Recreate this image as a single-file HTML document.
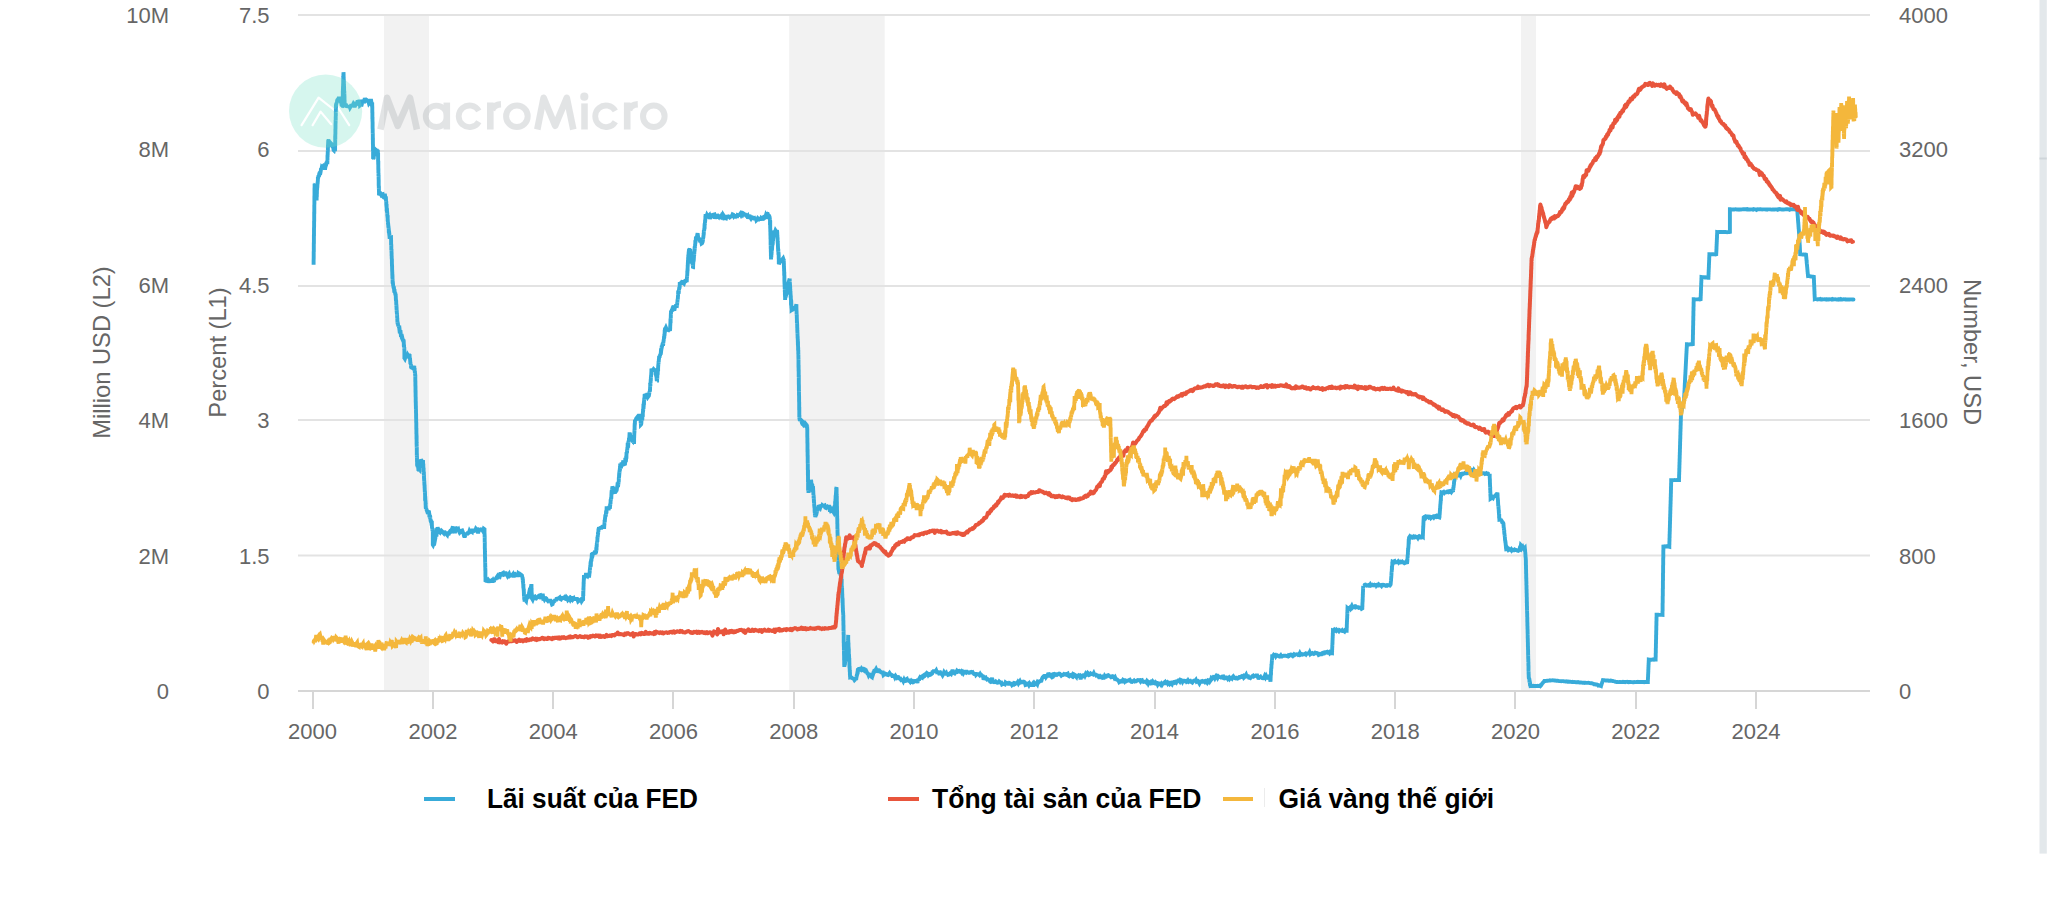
<!DOCTYPE html><html><head><meta charset="utf-8"><style>html,body{margin:0;padding:0;background:#fff;width:2048px;height:897px;overflow:hidden}svg{display:block}</style></head><body>
<svg width="2048" height="897" viewBox="0 0 2048 897">
<rect width="2048" height="897" fill="#fff"/>
<rect x="384.0" y="15" width="45.0" height="676" fill="#f2f2f2"/>
<rect x="789.2" y="15" width="95.5" height="676" fill="#f2f2f2"/>
<rect x="1521.0" y="15" width="15.0" height="676" fill="#f2f2f2"/>
<rect x="298" y="14.0" width="1572" height="2" fill="#e3e3e3"/>
<rect x="298" y="150.0" width="1572" height="2" fill="#e3e3e3"/>
<rect x="298" y="285.0" width="1572" height="2" fill="#e3e3e3"/>
<rect x="298" y="419.0" width="1572" height="2" fill="#e3e3e3"/>
<rect x="298" y="554.5" width="1572" height="2" fill="#e3e3e3"/>
<rect x="298" y="690" width="1572" height="2" fill="#d6d6d6"/>
<rect x="312" y="692" width="2" height="17" fill="#d6d6d6"/>
<rect x="432" y="692" width="2" height="17" fill="#d6d6d6"/>
<rect x="552" y="692" width="2" height="17" fill="#d6d6d6"/>
<rect x="672" y="692" width="2" height="17" fill="#d6d6d6"/>
<rect x="793" y="692" width="2" height="17" fill="#d6d6d6"/>
<rect x="913" y="692" width="2" height="17" fill="#d6d6d6"/>
<rect x="1033" y="692" width="2" height="17" fill="#d6d6d6"/>
<rect x="1154" y="692" width="2" height="17" fill="#d6d6d6"/>
<rect x="1274" y="692" width="2" height="17" fill="#d6d6d6"/>
<rect x="1394" y="692" width="2" height="17" fill="#d6d6d6"/>
<rect x="1514" y="692" width="2" height="17" fill="#d6d6d6"/>
<rect x="1635" y="692" width="2" height="17" fill="#d6d6d6"/>
<rect x="1755" y="692" width="2" height="17" fill="#d6d6d6"/>
<g font-family="&quot;Liberation Sans&quot;, sans-serif" font-size="22" fill="#666666">
<text x="169" y="699.2" text-anchor="end">0</text>
<text x="169" y="563.6" text-anchor="end">2M</text>
<text x="169" y="427.8" text-anchor="end">4M</text>
<text x="169" y="292.6" text-anchor="end">6M</text>
<text x="169" y="156.9" text-anchor="end">8M</text>
<text x="169" y="23.3" text-anchor="end">10M</text>
<text x="269.5" y="699.2" text-anchor="end">0</text>
<text x="269.5" y="563.6" text-anchor="end">1.5</text>
<text x="269.5" y="427.8" text-anchor="end">3</text>
<text x="269.5" y="292.6" text-anchor="end">4.5</text>
<text x="269.5" y="156.9" text-anchor="end">6</text>
<text x="269.5" y="23.3" text-anchor="end">7.5</text>
<text x="1899" y="699.2">0</text>
<text x="1899" y="563.6">800</text>
<text x="1899" y="427.8">1600</text>
<text x="1899" y="292.6">2400</text>
<text x="1899" y="156.9">3200</text>
<text x="1899" y="23.3">4000</text>
<text x="312.6" y="739" text-anchor="middle">2000</text>
<text x="432.9" y="739" text-anchor="middle">2002</text>
<text x="553.2" y="739" text-anchor="middle">2004</text>
<text x="673.5" y="739" text-anchor="middle">2006</text>
<text x="793.7" y="739" text-anchor="middle">2008</text>
<text x="914.0" y="739" text-anchor="middle">2010</text>
<text x="1034.3" y="739" text-anchor="middle">2012</text>
<text x="1154.6" y="739" text-anchor="middle">2014</text>
<text x="1274.9" y="739" text-anchor="middle">2016</text>
<text x="1395.2" y="739" text-anchor="middle">2018</text>
<text x="1515.4" y="739" text-anchor="middle">2020</text>
<text x="1635.7" y="739" text-anchor="middle">2022</text>
<text x="1756.0" y="739" text-anchor="middle">2024</text>
</g>
<g font-family="&quot;Liberation Sans&quot;, sans-serif" font-size="23.7" fill="#666666">
<text transform="translate(110,352.5) rotate(-90)" text-anchor="middle">Million USD (L2)</text>
<text transform="translate(226,352.5) rotate(-90)" text-anchor="middle">Percent (L1)</text>
<text transform="translate(1964,352) rotate(90)" text-anchor="middle">Number, USD</text>
</g>
<g fill="none" stroke-linejoin="round" stroke-linecap="round">
<path d="M313.6 264.0L313.6 264.3 313.6 264.8 313.6 261.9 313.6 260.5 313.6 261.3 313.7 257.4 313.7 258.5 313.7 257.7 313.7 258.5 313.7 257.4 313.7 256.1 313.7 253.8 313.7 253.9 313.7 253.0 313.7 252.8 313.7 252.4 313.7 251.8 313.8 251.4 313.8 249.6 313.8 249.2 313.8 246.9 313.8 249.7 313.8 245.7 313.8 244.8 313.8 245.3 313.8 247.2 313.8 246.1 313.8 242.5 313.9 243.3 313.9 243.8 313.9 243.2 313.9 241.7 313.9 240.9 313.9 239.3 313.9 239.2 313.9 238.2 313.9 236.6 313.9 234.8 313.9 237.1 314.0 234.0 314.0 236.1 314.0 235.4 314.0 233.7 314.0 232.6 314.0 233.7 314.0 232.2 314.0 232.8 314.0 231.5 314.0 229.9 314.0 230.0 314.0 228.6 314.1 226.7 314.1 226.0 314.1 224.9 314.1 227.0 314.1 223.5 314.1 224.0 314.1 222.4 314.1 223.9 314.1 223.1 314.1 221.1 314.1 222.5 314.2 220.8 314.2 218.2 314.2 218.5 314.2 218.6 314.2 219.0 314.2 216.2 314.2 214.9 314.2 214.6 314.2 215.2 314.2 213.7 314.2 212.9 314.2 211.7 314.3 213.7 314.3 213.4 314.3 209.9 314.3 207.1 314.3 207.3 314.3 208.9 314.3 207.3 314.3 206.8 314.3 205.7 314.3 205.7 314.3 204.7 314.4 204.8 314.4 203.3 314.4 202.6 314.4 202.0 314.4 199.2 314.4 200.5 314.4 200.9 314.4 198.9 314.4 199.0 314.4 198.5 314.4 196.7 314.5 194.9 314.5 191.9 314.5 194.9 314.5 193.2 314.5 191.2 314.5 191.9 314.5 191.0 314.5 191.3 314.5 189.8 314.5 188.5 314.5 190.1 314.5 188.9 314.6 186.9 314.6 186.5 314.6 187.1 314.6 186.2 314.6 185.2 314.6 184.5 314.7 184.0 314.8 184.3 314.9 184.2 315.0 187.6 315.1 187.0 315.1 188.2 315.2 189.4 315.3 190.3 315.4 190.1 315.5 190.6 315.6 192.8 315.7 193.5 315.8 190.3 315.9 193.7 316.0 194.4 316.0 193.4 316.1 193.3 316.2 196.9 316.3 198.6 316.4 196.8 316.5 200.4 316.6 198.9 316.6 200.6 316.6 197.9 316.7 196.8 316.8 196.3 316.8 194.6 316.9 193.2 316.9 193.4 316.9 190.6 317.0 189.7 317.1 189.5 317.1 188.4 317.1 189.4 317.2 187.1 317.2 188.0 317.3 187.5 317.4 185.3 317.4 186.2 317.4 185.0 317.5 183.9 317.6 183.0 317.6 183.0 317.6 184.1 317.7 182.4 317.8 180.5 317.8 181.7 317.9 179.8 317.9 178.8 317.9 177.1 318.0 178.5 318.2 177.9 318.4 175.5 318.7 176.9 318.9 176.0 319.1 174.7 319.3 174.7 319.6 172.6 319.8 172.3 320.0 173.5 320.3 173.4 320.6 172.0 320.9 169.8 321.1 168.3 321.4 169.1 321.7 167.7 322.0 168.1 322.3 166.4 322.5 168.9 322.8 165.9 323.1 164.9 323.4 165.5 323.6 165.6 323.9 165.3 324.1 165.3 324.3 166.3 324.5 166.8 324.8 168.3 325.0 169.6 325.2 168.2 325.5 166.6 325.7 165.6 325.9 165.6 326.1 165.1 326.4 161.9 326.6 163.0 326.8 162.4 327.1 162.9 327.3 161.7 327.3 164.2 327.4 161.8 327.4 160.6 327.4 160.1 327.5 160.5 327.5 155.3 327.5 158.5 327.5 156.8 327.6 156.4 327.6 155.3 327.6 155.2 327.7 154.3 327.7 154.5 327.7 153.4 327.8 151.1 327.8 151.6 327.8 150.5 327.8 150.6 327.9 150.1 327.9 147.2 327.9 147.7 328.0 144.6 328.0 146.5 328.0 146.3 328.1 145.8 328.1 143.3 328.1 142.8 328.1 143.5 328.2 141.9 328.2 143.9 328.2 140.4 328.3 140.9 328.3 139.4 328.5 140.6 328.8 140.2 329.0 143.5 329.2 143.3 329.5 142.7 329.7 144.5 330.0 142.8 330.2 144.6 330.7 144.1 331.2 145.3 331.6 143.9 332.1 144.4 332.6 146.5 333.1 146.7 333.6 150.0 334.0 150.4 334.5 148.4 335.0 151.2 335.0 149.2 335.0 146.5 335.0 147.9 335.1 147.9 335.1 147.1 335.1 146.6 335.1 146.6 335.1 145.3 335.1 146.4 335.2 144.9 335.2 143.4 335.2 140.3 335.2 142.0 335.2 141.9 335.2 135.8 335.2 139.5 335.3 139.8 335.3 136.8 335.3 136.9 335.3 136.7 335.3 137.4 335.3 135.0 335.3 135.1 335.4 133.5 335.4 134.0 335.4 130.6 335.4 129.3 335.4 129.5 335.4 129.6 335.5 128.4 335.5 126.3 335.5 126.0 335.5 124.4 335.5 123.8 335.5 124.1 335.5 124.3 335.6 122.0 335.6 121.7 335.6 123.0 335.6 122.1 335.6 123.2 335.6 119.9 335.7 120.8 335.7 120.3 335.7 118.5 335.7 119.4 335.7 116.7 335.7 117.5 335.7 116.6 335.8 116.8 335.8 113.9 335.8 112.0 335.8 114.2 335.8 114.3 335.8 113.3 335.8 110.9 335.9 112.0 335.9 110.3 335.9 107.9 335.9 106.0 335.9 106.5 335.9 105.2 336.0 108.0 336.0 107.4 336.0 105.6 336.0 104.8 336.4 103.7 336.8 102.2 337.1 100.9 337.5 99.2 337.9 100.3 338.2 97.9 338.6 99.0 339.0 96.8 339.4 99.4 339.9 99.9 340.3 100.8 340.8 100.4 341.2 102.6 341.6 105.1 342.1 105.6 342.5 105.2 342.5 104.4 342.5 102.7 342.6 104.5 342.6 103.2 342.6 101.4 342.6 102.1 342.7 100.6 342.7 99.3 342.7 98.9 342.7 96.9 342.8 95.3 342.8 93.5 342.8 92.8 342.8 92.2 342.8 90.8 342.9 91.4 342.9 91.3 342.9 89.4 342.9 89.4 343.0 87.2 343.0 88.4 343.0 86.3 343.0 86.4 343.1 86.5 343.1 87.0 343.1 86.1 343.1 84.8 343.2 82.8 343.2 81.6 343.2 82.2 343.2 82.3 343.2 81.3 343.3 76.4 343.3 80.2 343.3 81.4 343.3 78.0 343.4 76.2 343.4 76.8 343.4 76.5 343.4 74.8 343.5 73.2 343.5 75.2 343.5 74.3 343.5 72.2 343.6 74.4 343.6 75.8 343.6 74.9 343.6 76.2 343.7 77.1 343.7 78.6 343.7 79.6 343.8 79.3 343.8 80.5 343.8 81.5 343.9 81.1 343.9 82.3 343.9 83.5 343.9 84.0 344.0 85.4 344.0 83.9 344.0 87.7 344.1 86.5 344.1 87.8 344.1 89.3 344.1 88.3 344.2 92.0 344.2 91.1 344.2 91.8 344.3 91.9 344.3 92.5 344.3 91.8 344.3 92.4 344.4 93.3 344.4 93.2 344.4 95.0 344.5 96.5 344.5 98.4 344.5 96.9 344.5 99.8 344.6 100.2 344.6 103.2 344.6 101.5 344.7 104.9 344.7 102.7 344.7 104.2 344.8 103.7 344.8 104.5 344.8 105.4 344.8 106.8 344.9 106.9 344.9 107.1 345.6 105.5 346.3 105.4 347.1 107.4 347.8 105.3 348.5 107.6 349.2 105.3 350.0 107.6 350.7 106.4 351.4 104.3 352.0 105.5 352.7 105.1 353.3 103.9 354.0 105.1 354.6 107.1 355.3 105.0 355.9 102.0 356.6 104.2 357.2 103.7 357.7 100.3 358.3 103.3 358.9 103.0 359.4 99.8 360.0 105.4 360.5 105.0 361.0 104.5 361.5 103.7 361.9 104.0 362.4 102.1 362.9 101.3 363.4 100.1 364.1 103.2 364.8 98.1 365.5 100.8 366.2 100.6 366.9 100.1 367.6 100.5 368.3 101.3 368.9 103.4 369.6 102.5 370.2 103.1 370.9 99.0 371.6 103.2 372.2 102.5 372.2 104.4 372.2 105.7 372.2 104.8 372.3 107.6 372.3 108.6 372.3 107.6 372.3 106.7 372.3 107.7 372.3 108.5 372.3 110.0 372.3 112.4 372.4 112.8 372.4 111.7 372.4 112.8 372.4 114.7 372.4 113.5 372.4 114.5 372.4 118.5 372.4 118.9 372.5 116.9 372.5 120.6 372.5 121.2 372.5 120.9 372.5 120.7 372.5 117.4 372.5 120.8 372.6 122.3 372.6 124.9 372.6 124.2 372.6 125.8 372.6 127.7 372.6 127.1 372.6 126.9 372.6 128.4 372.7 129.0 372.7 130.0 372.7 131.2 372.7 130.0 372.7 132.8 372.7 131.7 372.7 132.6 372.7 133.8 372.8 133.2 372.8 136.6 372.8 133.9 372.8 134.5 372.8 135.0 372.8 137.4 372.8 140.0 372.8 140.0 372.9 137.7 372.9 140.7 372.9 140.6 372.9 141.8 372.9 139.0 372.9 141.7 372.9 143.6 373.0 145.2 373.0 144.7 373.0 145.3 373.0 147.2 373.0 148.9 373.0 148.8 373.0 150.5 373.0 151.0 373.1 150.9 373.1 150.5 373.1 151.7 373.1 153.0 373.1 154.9 373.1 154.3 373.1 155.8 373.1 158.0 373.2 158.2 373.2 156.9 373.2 159.0 373.2 158.9 373.4 158.6 373.6 159.0 373.8 156.7 374.0 155.2 374.2 153.1 374.4 152.9 374.6 153.0 374.8 151.5 375.0 152.1 375.2 148.1 375.4 150.5 375.6 151.0 375.8 150.7 376.0 150.1 376.2 150.3 376.4 151.7 376.7 149.2 376.9 150.1 377.1 151.7 377.3 152.2 377.6 153.8 377.8 149.9 378.0 154.9 378.0 154.4 378.0 154.9 378.1 154.9 378.1 158.0 378.1 156.6 378.1 159.3 378.1 160.8 378.1 160.3 378.2 162.7 378.2 162.3 378.2 160.4 378.2 163.2 378.2 164.5 378.3 161.1 378.3 166.7 378.3 169.3 378.3 167.1 378.3 169.7 378.3 167.5 378.4 169.1 378.4 168.9 378.4 169.4 378.4 171.6 378.4 173.3 378.5 172.9 378.5 173.9 378.5 173.2 378.5 174.9 378.5 175.2 378.5 175.9 378.6 175.4 378.6 177.6 378.6 175.1 378.6 178.6 378.6 177.9 378.7 180.5 378.7 180.5 378.7 182.1 378.7 183.0 378.7 183.5 378.7 185.1 378.8 186.2 378.8 186.2 378.8 186.3 378.8 187.4 378.8 188.7 378.9 187.8 378.9 189.6 378.9 189.2 378.9 190.1 378.9 186.3 378.9 190.3 379.0 192.0 379.0 192.1 379.0 193.7 379.8 193.9 380.5 193.6 381.2 195.0 382.0 194.2 382.6 194.1 383.1 196.9 383.7 197.5 384.2 197.4 384.8 193.9 385.3 197.1 385.9 197.5 386.0 199.8 386.0 200.4 386.1 201.6 386.1 201.6 386.2 201.2 386.3 202.4 386.3 204.5 386.4 204.9 386.4 206.4 386.5 204.5 386.6 204.7 386.6 207.5 386.7 207.8 386.7 210.9 386.8 209.6 386.9 209.5 386.9 210.1 387.0 210.1 387.0 211.4 387.1 210.8 387.1 213.6 387.2 212.4 387.3 213.7 387.3 216.2 387.4 215.0 387.4 215.7 387.5 216.4 387.6 218.2 387.6 217.2 387.7 217.2 387.7 220.1 387.8 220.2 387.9 222.2 388.0 222.0 388.0 224.5 388.1 224.4 388.2 223.6 388.3 226.0 388.4 227.0 388.4 226.2 388.5 228.2 388.6 227.4 388.7 228.5 388.8 229.8 388.8 231.3 388.9 233.2 389.0 230.7 389.1 231.9 389.2 231.8 389.2 234.4 389.3 233.2 389.4 235.2 389.5 236.0 389.6 237.7 389.6 237.2 389.7 239.0 389.8 237.4 391.0 237.2 391.0 237.6 391.1 239.9 391.1 242.4 391.1 242.7 391.1 245.3 391.2 243.8 391.2 246.1 391.2 244.0 391.2 244.0 391.3 245.3 391.3 247.2 391.3 248.9 391.3 250.3 391.4 249.5 391.4 249.2 391.4 249.5 391.5 250.0 391.5 250.1 391.5 252.6 391.5 251.4 391.6 252.9 391.6 253.1 391.6 256.0 391.6 255.7 391.7 256.0 391.7 257.7 391.7 256.2 391.7 257.6 391.8 259.3 391.8 259.3 391.8 259.1 391.9 259.4 391.9 260.5 391.9 263.5 391.9 262.6 392.0 266.5 392.0 264.7 392.0 265.9 392.0 264.3 392.1 265.8 392.1 267.0 392.1 267.5 392.1 268.1 392.2 271.4 392.2 271.0 392.2 270.2 392.2 271.2 392.3 272.5 392.3 274.5 392.3 274.3 392.4 276.2 392.4 278.0 392.4 274.1 392.4 274.8 392.5 276.1 392.5 276.5 392.5 277.2 392.5 279.3 392.6 278.7 392.6 280.7 392.6 282.6 392.6 282.9 392.7 283.5 392.7 282.0 392.9 282.7 393.1 284.6 393.2 286.5 393.4 286.0 393.6 288.2 393.8 286.4 393.9 287.4 394.1 289.8 394.3 289.7 394.5 290.0 394.6 291.6 394.8 292.4 395.0 293.0 395.2 292.4 395.3 294.1 395.5 294.2 395.7 294.7 395.7 295.6 395.8 296.6 395.8 297.3 395.9 299.7 395.9 299.1 396.0 301.1 396.0 301.5 396.1 301.3 396.1 299.8 396.2 301.6 396.2 302.2 396.3 305.0 396.3 305.1 396.3 305.2 396.4 304.3 396.4 306.9 396.5 305.4 396.5 308.7 396.6 307.3 396.6 310.6 396.7 309.7 396.7 311.3 396.8 311.4 396.8 312.4 396.9 313.1 396.9 314.2 397.0 313.7 397.0 313.3 397.0 315.7 397.1 314.8 397.1 315.7 397.2 317.6 397.2 318.6 397.3 318.1 397.3 319.4 397.4 321.2 397.4 322.7 397.5 321.9 397.5 322.9 397.6 321.5 397.6 323.3 397.9 323.5 398.1 325.2 398.4 326.3 398.6 325.8 398.9 326.9 399.1 327.1 399.4 329.6 399.6 329.4 399.9 332.2 400.2 332.4 400.4 330.2 400.7 333.3 401.0 336.9 401.3 336.3 401.6 335.6 401.8 337.8 402.1 338.5 402.4 338.1 402.7 339.4 402.9 339.1 403.2 340.5 403.5 339.5 403.6 340.9 403.6 342.5 403.7 340.3 403.8 343.5 403.8 345.3 403.9 346.2 403.9 347.1 404.0 344.5 404.1 347.0 404.1 346.9 404.2 347.7 404.3 347.3 404.3 349.2 404.4 350.2 404.4 354.5 404.4 353.2 404.4 353.5 404.4 353.5 404.4 352.9 404.4 355.2 404.4 353.3 404.4 354.6 404.4 357.5 404.4 358.9 404.4 357.9 404.9 358.7 405.5 357.0 406.0 356.1 406.6 356.8 407.1 356.6 407.7 354.8 408.2 355.6 408.8 353.8 409.3 356.9 409.4 354.2 409.5 355.2 409.6 355.3 409.7 357.6 409.8 357.9 409.8 358.6 409.9 358.2 410.0 359.0 410.1 359.5 410.2 361.0 410.3 362.2 410.4 363.8 410.5 362.8 410.6 363.4 410.7 363.9 410.8 363.8 410.8 365.0 410.9 364.4 411.0 366.2 411.1 366.2 411.2 367.0 411.3 367.3 411.8 367.3 412.3 367.7 412.8 368.3 413.2 368.6 413.7 367.2 414.2 366.0 414.3 366.9 414.3 369.4 414.4 369.3 414.5 368.3 414.6 368.0 414.6 370.7 414.7 370.5 414.8 372.1 414.8 371.7 414.9 372.7 415.0 372.4 415.1 373.7 415.1 374.9 415.2 373.7 415.2 375.2 415.2 376.4 415.2 376.6 415.3 375.1 415.3 377.0 415.3 379.9 415.3 381.8 415.3 380.9 415.3 380.1 415.4 380.8 415.4 383.1 415.4 384.0 415.4 384.7 415.4 384.9 415.4 386.4 415.4 385.3 415.5 386.0 415.5 386.8 415.5 388.1 415.5 391.3 415.5 392.5 415.5 389.8 415.6 390.8 415.6 393.7 415.6 395.1 415.6 395.2 415.6 394.8 415.6 396.2 415.6 396.5 415.7 397.5 415.7 397.9 415.7 398.3 415.7 402.5 415.7 402.2 415.7 401.6 415.8 402.6 415.8 404.0 415.8 401.2 415.8 402.8 415.8 404.7 415.8 403.0 415.8 404.1 415.9 407.7 415.9 407.5 415.9 405.9 415.9 407.2 415.9 408.0 415.9 409.7 416.0 409.4 416.0 410.5 416.0 412.5 416.0 412.5 416.0 412.4 416.0 412.2 416.0 412.3 416.1 414.0 416.1 415.7 416.1 415.9 416.1 414.8 416.1 416.6 416.1 417.0 416.2 420.3 416.2 419.4 416.2 421.4 416.2 420.8 416.2 422.4 416.2 422.1 416.2 422.2 416.3 422.7 416.3 423.6 416.3 425.9 416.3 424.2 416.3 425.2 416.3 428.0 416.3 428.7 416.4 428.8 416.4 429.6 416.4 432.1 416.4 432.2 416.4 433.5 416.4 434.0 416.4 432.5 416.5 434.4 416.5 435.1 416.5 436.4 416.5 434.3 416.5 437.5 416.5 435.9 416.5 437.4 416.6 437.4 416.6 439.1 416.6 441.8 416.6 441.4 416.6 440.6 416.6 444.4 416.6 442.9 416.7 446.1 416.7 444.5 416.7 445.9 416.7 446.1 416.7 447.4 416.7 447.8 416.8 447.2 416.8 447.7 416.8 450.6 416.8 452.6 416.8 452.3 416.8 453.6 416.8 455.8 416.9 453.4 416.9 453.4 416.9 454.1 416.9 456.5 416.9 455.4 416.9 457.3 416.9 457.8 417.0 456.6 417.0 457.2 417.0 458.5 417.0 459.5 417.0 459.1 417.0 459.7 417.0 461.3 417.1 461.8 417.1 463.6 417.1 463.2 417.1 465.8 417.4 465.5 417.6 466.9 417.9 466.4 418.2 467.7 418.5 470.7 418.7 466.3 419.0 471.4 419.2 469.9 419.3 469.6 419.5 469.8 419.7 466.0 419.8 464.9 420.0 466.4 420.2 464.4 420.3 464.9 420.5 462.2 420.7 462.7 420.8 461.4 421.0 459.4 422.0 461.4 423.0 461.6 423.0 460.1 423.1 462.8 423.1 464.5 423.2 463.9 423.2 463.9 423.3 463.8 423.3 465.6 423.3 465.6 423.4 467.5 423.4 467.6 423.5 467.4 423.5 468.1 423.6 467.9 423.6 471.5 423.6 472.1 423.7 471.1 423.7 472.4 423.8 473.7 423.8 473.0 423.9 473.6 423.9 475.7 424.0 475.1 424.0 478.2 424.0 477.6 424.1 479.4 424.1 477.8 424.2 481.5 424.2 481.8 424.3 480.9 424.3 480.7 424.3 481.7 424.4 483.6 424.4 484.9 424.5 485.2 424.5 484.8 424.6 485.4 424.6 488.3 424.6 487.2 424.7 488.2 424.7 489.1 424.8 491.3 424.8 492.1 424.9 490.8 424.9 493.3 424.9 492.1 425.0 492.3 425.0 492.9 425.1 495.7 425.1 500.8 425.2 496.1 425.2 496.5 425.3 498.0 425.3 498.9 425.3 498.4 425.4 500.0 425.4 500.5 425.5 500.7 425.5 500.9 425.6 502.1 425.6 503.5 425.6 503.9 425.7 505.7 425.7 507.2 425.8 507.9 425.8 506.3 425.9 508.9 425.9 508.7 426.6 509.7 427.4 512.1 428.1 511.9 428.9 510.6 429.0 511.7 429.2 513.5 429.3 514.0 429.4 517.3 429.5 514.8 429.7 516.5 429.8 516.5 429.9 515.2 430.0 515.8 430.2 516.4 430.3 517.9 430.4 519.0 430.5 519.7 430.7 521.5 430.8 520.0 430.9 519.7 431.0 521.6 431.2 521.7 431.3 522.4 431.4 522.8 431.5 523.9 431.7 525.4 431.8 520.9 431.9 524.9 432.0 527.5 432.2 527.9 432.3 529.5 432.4 528.5 432.5 531.3 432.7 530.2 432.8 530.2 432.8 532.9 432.8 534.8 432.8 534.0 432.8 533.9 432.8 535.3 432.8 536.4 432.8 537.6 432.8 538.0 432.8 540.2 432.8 540.1 432.8 539.3 432.8 539.4 432.8 541.3 432.8 541.9 432.8 541.4 432.8 542.5 432.8 544.6 432.8 544.6 433.1 545.1 433.4 544.3 433.7 542.6 434.1 540.1 434.4 541.2 434.7 541.6 435.0 540.0 435.2 537.6 435.3 539.2 435.5 535.4 435.6 535.0 435.8 535.3 435.9 533.8 436.1 533.9 436.2 536.6 436.4 533.4 436.5 535.2 436.7 532.3 436.8 532.4 437.0 530.4 437.1 531.3 437.3 529.1 437.4 528.5 437.6 527.5 438.2 529.2 438.8 531.1 439.4 531.8 440.0 532.4 440.6 531.0 441.2 530.4 441.8 531.0 442.4 532.0 443.0 532.4 443.6 533.1 444.2 531.0 444.8 532.5 445.4 533.1 446.0 531.8 446.6 534.3 447.2 535.0 447.8 532.7 448.4 534.0 448.9 533.9 449.5 532.2 450.1 531.2 450.7 531.5 451.3 530.3 451.9 530.7 452.5 528.0 453.1 528.1 453.7 529.6 454.2 528.5 454.9 533.3 455.5 528.5 456.1 528.4 456.7 529.7 457.3 527.0 457.9 530.5 458.5 529.7 459.1 531.6 459.7 532.8 460.3 532.2 461.0 533.3 461.6 530.7 462.2 530.5 462.8 532.0 463.4 532.9 464.0 535.8 464.6 537.2 465.2 535.6 465.8 534.3 466.4 533.0 467.1 535.0 467.7 533.1 468.3 533.1 468.9 532.7 469.5 530.9 470.1 531.9 470.7 531.4 471.4 531.6 472.0 532.0 472.6 529.0 473.2 530.6 473.8 530.7 474.5 530.9 475.2 530.5 475.9 528.7 476.7 529.6 477.4 529.5 478.1 533.4 478.8 530.1 479.5 529.8 480.2 529.8 480.9 529.4 481.6 529.6 482.4 530.3 483.1 531.4 483.8 528.8 484.5 529.3 484.5 530.8 484.5 532.1 484.5 532.5 484.6 534.1 484.6 533.9 484.6 537.1 484.6 534.9 484.6 534.3 484.6 536.7 484.6 537.6 484.7 535.5 484.7 539.0 484.7 539.9 484.7 539.0 484.7 539.9 484.7 541.1 484.7 542.7 484.8 542.0 484.8 544.2 484.8 541.7 484.8 542.4 484.8 545.7 484.8 547.4 484.8 548.1 484.9 549.7 484.9 549.6 484.9 548.2 484.9 549.9 484.9 550.4 484.9 550.2 484.9 551.4 485.0 554.9 485.0 555.7 485.0 555.5 485.0 556.7 485.0 556.5 485.0 556.6 485.1 558.3 485.1 559.1 485.1 558.2 485.1 557.4 485.1 556.9 485.1 560.0 485.1 561.0 485.2 562.8 485.2 561.9 485.2 562.9 485.2 565.0 485.2 563.9 485.2 564.2 485.2 566.8 485.3 567.2 485.3 565.8 485.3 569.3 485.3 570.4 485.3 569.5 485.3 570.8 485.3 569.1 485.4 569.8 485.4 570.7 485.4 573.5 485.4 573.6 485.4 574.9 485.4 574.0 485.4 576.4 485.5 577.4 485.5 579.3 485.5 577.8 485.5 580.5 486.2 580.8 486.9 580.5 487.6 580.9 488.3 579.8 489.0 580.7 489.8 581.2 490.5 581.1 491.2 580.6 491.9 580.1 492.6 582.3 493.3 580.6 493.9 581.7 494.5 579.5 495.1 578.1 495.7 579.7 496.3 577.9 496.9 577.0 497.4 578.9 498.0 577.2 498.6 577.0 499.2 575.7 499.8 576.2 500.4 573.8 501.0 573.7 501.7 574.2 502.5 573.3 503.2 572.9 503.9 574.7 504.7 574.4 505.4 571.9 506.2 573.9 506.9 574.5 507.6 576.0 508.4 574.8 509.1 573.8 509.8 575.8 510.6 575.2 511.3 575.1 512.1 575.0 512.8 574.2 513.5 577.4 514.2 572.6 514.9 574.3 515.6 575.1 516.3 574.6 517.0 573.4 517.7 576.9 518.4 573.3 519.1 573.9 519.8 576.3 520.5 574.4 521.2 574.9 521.9 575.4 522.6 578.2 522.7 577.4 522.7 580.2 522.8 579.9 522.8 580.4 522.9 581.9 522.9 579.9 523.0 582.1 523.0 581.5 523.1 583.2 523.2 583.8 523.2 584.0 523.3 585.6 523.3 585.9 523.4 585.9 523.4 587.0 523.5 587.9 523.5 588.2 523.6 588.6 523.7 590.5 523.7 589.8 523.8 590.3 523.8 592.1 523.9 592.3 523.9 594.7 524.0 595.5 524.0 596.8 524.1 595.3 524.2 597.1 524.2 598.9 524.3 599.3 524.3 597.9 524.4 598.1 524.4 599.0 524.5 600.2 524.5 599.6 524.6 601.6 525.0 599.6 525.4 601.5 525.7 600.5 526.1 601.0 526.5 598.4 526.9 596.4 527.2 596.1 527.6 598.1 528.0 597.5 528.2 595.7 528.4 595.6 528.6 594.8 528.8 594.0 529.0 593.1 529.2 592.3 529.4 593.6 529.6 589.6 529.8 590.8 530.0 588.0 530.2 588.9 530.4 588.9 530.6 587.6 530.8 588.1 531.0 585.9 531.2 586.2 531.4 584.2 531.4 584.2 531.5 585.2 531.5 586.7 531.5 588.7 531.5 589.7 531.6 589.0 531.6 588.0 531.6 589.3 531.6 591.3 531.7 592.8 531.7 593.6 531.7 593.9 531.8 595.2 531.8 593.3 531.8 595.7 531.8 595.5 531.9 596.9 531.9 597.4 531.9 599.3 531.9 599.0 532.0 596.7 532.0 598.4 532.7 599.6 533.4 597.7 534.0 596.8 534.7 596.5 535.4 598.4 536.1 598.6 536.8 597.5 537.5 596.9 538.2 596.3 538.8 596.8 539.5 595.5 540.2 595.3 540.8 597.7 541.4 596.6 542.1 599.0 542.7 593.8 543.3 598.4 543.9 598.1 544.5 599.4 545.2 598.2 545.8 598.1 546.4 598.5 547.0 599.9 547.7 600.7 548.3 599.6 548.9 601.8 549.5 600.7 550.1 599.5 550.8 601.4 551.4 602.9 552.0 604.5 552.6 604.2 553.3 601.6 553.9 601.7 554.6 601.1 555.2 599.5 555.9 600.9 556.5 598.8 557.2 598.6 557.8 598.5 558.4 598.5 559.1 597.9 559.7 597.4 560.4 599.1 561.0 599.4 561.7 598.2 562.3 597.8 563.0 598.0 563.6 597.9 564.3 597.3 565.1 598.7 565.8 599.0 566.5 597.2 567.3 598.1 568.0 599.9 568.7 599.2 569.5 598.3 570.2 599.7 570.9 598.3 571.6 599.1 572.4 596.6 573.1 599.2 573.8 598.4 574.6 600.3 575.3 598.3 576.0 599.7 576.7 597.7 577.4 599.4 578.1 601.4 578.8 600.8 579.5 600.0 580.2 599.8 580.9 599.3 581.6 601.2 582.3 600.1 583.0 600.8 583.0 598.2 583.1 599.9 583.1 596.5 583.1 596.0 583.1 596.4 583.2 594.3 583.2 593.8 583.2 592.8 583.3 592.0 583.3 596.1 583.3 594.0 583.4 590.9 583.4 590.6 583.4 588.1 583.4 590.5 583.5 589.1 583.5 589.4 583.5 587.1 583.6 585.6 583.6 585.6 583.6 583.7 583.6 582.3 583.7 582.5 583.7 584.1 583.7 582.3 583.8 579.6 583.8 579.7 583.8 578.4 583.9 580.2 583.9 579.0 583.9 577.5 583.9 576.1 584.0 575.4 584.0 575.2 584.7 577.2 585.4 576.8 586.1 573.1 586.9 575.4 587.6 576.1 588.3 574.5 589.0 576.4 589.1 577.7 589.2 574.1 589.3 575.6 589.4 573.7 589.5 572.7 589.6 573.2 589.7 572.2 589.8 569.5 589.9 570.2 590.0 568.1 590.1 567.2 590.2 567.7 590.3 565.2 590.4 566.1 590.5 564.3 590.5 563.2 590.6 562.6 590.7 561.5 590.8 566.8 590.9 564.0 591.0 560.3 591.1 561.3 591.2 559.7 591.3 559.6 591.4 561.4 591.5 559.5 591.6 557.8 591.7 556.2 591.8 555.0 591.9 552.9 592.0 558.0 592.6 555.3 593.1 552.4 593.7 554.1 594.3 552.6 594.9 552.8 595.4 552.2 596.0 552.4 596.1 552.2 596.2 551.2 596.3 547.3 596.3 547.7 596.4 549.1 596.5 550.7 596.6 545.3 596.7 546.9 596.8 544.2 596.8 543.7 596.9 542.9 597.0 543.4 597.1 542.3 597.2 540.9 597.3 542.0 597.4 539.4 597.4 536.7 597.5 538.5 597.6 537.4 597.7 537.7 597.8 535.5 597.9 534.7 598.0 533.2 598.0 532.3 598.1 534.5 598.2 532.5 598.3 531.6 598.4 531.9 598.5 528.5 598.5 529.7 598.6 529.1 598.7 529.6 598.8 528.6 599.5 528.5 600.3 527.8 601.0 527.5 601.8 527.6 602.5 526.6 603.3 526.6 604.0 527.4 604.1 529.0 604.2 527.0 604.3 525.2 604.4 524.8 604.5 522.7 604.6 522.9 604.6 519.8 604.7 521.0 604.8 522.0 604.9 520.4 605.0 518.4 605.1 518.3 605.2 517.0 605.3 515.7 605.4 515.6 605.5 516.8 605.6 515.9 605.7 514.2 605.8 516.2 605.9 513.6 606.0 514.7 606.0 513.1 606.1 511.0 606.2 512.4 606.3 510.0 606.4 511.5 606.5 511.5 606.6 508.2 607.3 508.2 608.0 507.9 608.6 509.9 609.3 507.3 610.0 507.2 610.1 506.3 610.2 505.2 610.3 504.3 610.4 502.9 610.5 504.0 610.6 501.2 610.6 500.5 610.7 499.4 610.8 500.6 610.9 498.9 611.0 499.8 611.1 497.2 611.2 498.8 611.3 498.0 611.4 495.2 611.5 493.1 611.6 493.1 611.7 490.6 611.8 490.2 611.9 490.5 611.9 490.8 612.0 490.5 612.1 489.5 612.2 488.2 612.3 488.0 612.4 486.4 612.5 486.7 612.8 487.7 613.1 487.9 613.4 488.5 613.8 490.3 614.1 492.7 614.4 491.3 614.7 492.8 615.0 493.4 615.3 492.2 615.6 491.7 615.9 492.2 616.2 489.1 616.5 491.3 616.8 489.4 617.1 487.1 617.4 485.6 617.7 482.4 618.0 487.1 618.3 484.1 618.4 484.4 618.4 484.1 618.5 482.2 618.6 482.6 618.6 481.1 618.7 482.4 618.8 480.3 618.8 478.4 618.9 477.3 619.0 478.3 619.0 477.9 619.1 474.4 619.2 476.5 619.2 472.5 619.3 474.5 619.4 473.1 619.4 472.3 619.5 470.9 619.6 472.8 619.6 469.7 619.7 470.9 619.8 469.3 619.8 469.0 619.9 468.5 620.0 468.5 620.0 467.5 620.1 466.9 620.2 466.0 620.2 463.6 620.3 465.4 621.0 468.3 621.6 462.4 622.3 465.3 623.0 462.2 623.7 462.3 624.3 464.2 625.0 463.9 625.1 462.4 625.2 462.3 625.3 457.7 625.4 462.5 625.5 460.1 625.6 459.3 625.7 461.7 625.8 460.5 625.9 460.1 626.0 460.1 626.1 459.1 626.2 455.8 626.3 455.9 626.4 458.6 626.5 452.2 626.6 454.2 626.7 452.2 626.8 453.6 626.9 452.7 627.0 452.9 627.1 449.6 627.2 450.4 627.3 449.1 627.4 447.6 627.5 447.4 627.6 447.3 627.7 442.9 627.8 445.1 627.9 444.8 628.0 446.1 628.1 443.3 628.3 443.5 628.4 441.3 628.6 442.3 628.7 440.3 628.9 441.2 629.0 437.7 629.1 438.5 629.3 438.6 629.4 436.3 629.6 432.4 629.7 433.8 629.9 433.5 630.0 434.0 630.3 438.7 630.7 435.8 631.0 436.5 631.3 436.9 631.7 436.9 632.0 438.0 632.3 437.1 632.7 438.9 633.0 442.6 633.3 440.5 633.7 441.4 634.0 441.0 634.0 443.9 634.1 441.9 634.1 440.8 634.1 437.9 634.2 436.2 634.2 437.8 634.2 436.3 634.3 433.9 634.3 433.3 634.3 433.2 634.4 432.7 634.4 431.6 634.4 432.8 634.5 430.3 634.5 428.9 634.5 428.8 634.6 430.1 634.6 425.8 634.6 427.3 634.7 423.2 634.7 425.8 634.7 425.5 634.8 425.6 634.8 424.8 634.8 424.1 634.9 422.2 634.9 423.9 634.9 421.5 635.0 419.9 635.0 420.8 635.6 420.1 636.2 418.6 636.9 417.7 637.5 419.7 638.1 418.6 638.8 417.6 639.4 414.0 640.0 416.6 640.1 417.8 640.2 417.5 640.3 418.6 640.4 420.4 640.5 419.1 640.6 419.6 640.7 423.1 640.8 422.5 640.9 424.7 641.0 424.6 641.2 423.9 641.3 423.7 641.5 420.3 641.6 419.8 641.8 419.7 641.9 419.4 642.1 419.8 642.2 420.3 642.4 417.5 642.5 416.5 642.7 416.9 642.8 416.0 642.8 413.2 642.9 412.4 643.0 411.6 643.0 411.0 643.1 410.9 643.2 409.5 643.2 410.6 643.3 408.2 643.4 408.3 643.4 407.8 643.5 409.0 643.6 406.9 643.6 407.3 643.7 406.1 643.8 402.6 643.8 404.4 643.9 404.5 644.0 404.2 644.0 401.2 644.1 401.0 644.2 400.8 644.2 398.3 644.3 398.6 644.4 399.8 644.4 397.9 644.5 397.6 644.6 396.5 644.6 395.1 644.7 394.1 645.4 395.0 646.1 395.5 646.8 396.4 647.5 393.2 648.2 396.6 648.9 395.7 649.6 391.2 649.7 392.2 649.7 391.3 649.8 391.8 649.9 390.3 649.9 390.1 650.0 389.1 650.0 390.9 650.1 387.5 650.2 386.5 650.2 384.6 650.3 383.2 650.4 386.1 650.4 382.6 650.5 383.6 650.5 382.9 650.6 382.5 650.7 379.7 650.7 379.2 650.8 380.9 650.9 377.6 650.9 376.7 651.0 377.1 651.1 375.1 651.1 376.1 651.2 374.5 651.2 374.9 651.3 373.0 651.4 373.0 651.4 369.9 651.5 368.6 652.2 370.5 652.9 370.1 653.6 369.1 654.3 369.8 655.0 370.0 655.1 370.6 655.3 370.1 655.4 369.1 655.5 371.1 655.7 372.3 655.8 373.3 655.9 374.6 656.1 375.7 656.2 373.9 656.3 377.1 656.5 375.4 656.6 378.3 656.7 379.9 656.9 381.0 657.0 380.5 657.1 380.5 657.1 377.3 657.2 376.7 657.3 378.8 657.3 378.0 657.4 375.5 657.5 375.6 657.5 373.6 657.6 372.5 657.7 372.0 657.7 374.7 657.8 370.0 657.9 371.0 657.9 369.8 658.0 367.8 658.1 371.2 658.1 368.6 658.2 366.1 658.3 365.1 658.4 364.3 658.4 363.7 658.5 364.0 658.6 361.0 658.6 361.2 658.7 362.2 658.8 360.8 658.8 359.9 658.9 359.5 659.0 358.7 659.0 358.5 659.1 356.6 659.2 356.0 659.2 355.7 659.3 356.0 659.5 357.7 659.8 355.7 660.0 356.2 660.2 353.9 660.4 354.3 660.7 354.0 660.9 351.3 661.1 351.4 661.4 348.9 661.6 347.8 661.8 345.7 662.1 346.1 662.3 345.2 662.5 344.7 662.7 343.1 663.0 345.8 663.2 344.5 663.3 342.0 663.4 343.0 663.5 340.6 663.6 341.2 663.7 340.7 663.7 340.0 663.8 339.2 663.9 339.4 664.0 337.6 664.1 336.2 664.2 338.2 664.3 336.3 664.4 333.9 664.5 335.3 664.6 335.0 664.7 329.9 664.7 330.5 664.8 333.1 664.9 330.8 665.0 328.7 665.1 327.6 665.2 329.1 665.9 327.6 666.6 329.3 667.3 329.6 667.9 330.0 668.6 330.2 669.3 329.4 670.0 331.0 670.0 331.0 670.1 327.6 670.1 330.0 670.2 328.0 670.2 326.1 670.2 326.7 670.3 324.9 670.3 324.9 670.4 323.0 670.4 322.6 670.5 319.3 670.5 322.5 670.5 321.0 670.6 321.0 670.6 318.7 670.7 318.3 670.7 317.4 670.8 318.2 670.8 316.4 670.8 315.8 670.9 313.3 670.9 313.7 671.0 314.0 671.0 310.8 671.2 311.8 671.5 311.0 671.8 310.1 672.0 311.0 672.2 309.8 672.5 309.8 672.8 307.3 673.0 307.1 673.6 306.1 674.3 310.5 675.0 307.0 675.6 305.8 676.2 305.6 676.9 305.8 677.0 305.0 677.1 305.7 677.2 303.6 677.3 302.2 677.4 302.7 677.5 300.5 677.6 300.0 677.7 299.0 677.8 299.6 677.9 297.6 678.0 295.9 678.1 294.9 678.2 290.6 678.3 294.2 678.3 292.6 678.4 292.8 678.5 293.5 678.6 293.7 678.7 292.9 678.8 291.8 678.9 289.5 679.0 290.2 679.1 288.7 679.2 288.3 679.3 289.0 679.4 287.7 679.5 286.7 679.6 288.3 679.7 286.0 679.8 282.0 680.5 284.2 681.2 282.5 681.9 282.0 682.6 280.8 683.2 282.9 683.9 283.5 684.6 281.2 685.3 280.7 686.0 281.0 686.7 280.4 686.7 282.2 686.8 280.0 686.8 278.7 686.9 278.8 686.9 278.4 687.0 277.5 687.0 277.1 687.1 276.8 687.1 275.5 687.2 275.9 687.2 275.5 687.3 273.5 687.3 270.7 687.3 272.5 687.4 271.4 687.4 272.8 687.5 270.1 687.5 269.3 687.6 270.7 687.6 267.7 687.7 267.8 687.7 265.5 687.8 265.2 687.8 264.4 687.9 262.1 687.9 262.8 688.0 260.6 688.0 259.9 688.0 262.1 688.1 260.8 688.1 258.7 688.2 257.0 688.2 257.4 688.3 257.8 688.3 255.0 688.4 256.1 688.4 255.7 688.5 254.1 688.5 255.1 688.6 254.0 688.6 253.2 689.1 248.6 689.5 249.6 690.0 248.8 690.1 251.0 690.3 251.2 690.4 252.4 690.5 252.1 690.7 252.6 690.8 254.8 691.0 252.3 691.1 256.8 691.2 256.9 691.4 257.5 691.5 259.0 691.6 258.9 691.8 263.7 691.9 259.0 692.0 259.7 692.2 261.7 692.3 262.1 692.5 263.1 692.6 264.3 692.7 265.7 692.9 264.7 693.0 268.1 693.1 268.0 693.1 266.7 693.2 264.0 693.3 263.0 693.3 262.7 693.4 261.8 693.5 260.2 693.6 261.7 693.6 258.1 693.7 259.7 693.8 259.6 693.8 257.6 693.9 258.3 694.0 255.8 694.0 253.7 694.1 253.7 694.2 253.7 694.2 253.3 694.3 254.0 694.4 251.2 694.5 249.2 694.5 251.8 694.6 248.5 694.7 248.5 694.7 247.1 694.8 246.7 694.9 248.6 694.9 247.6 695.0 246.1 695.1 246.6 695.1 244.5 695.2 243.9 695.3 243.6 695.3 242.2 695.4 242.2 695.5 241.2 695.6 240.7 695.6 242.4 695.7 240.0 695.8 240.2 695.8 240.0 695.9 237.7 696.5 237.3 697.0 236.4 697.6 233.2 698.2 237.5 698.7 238.3 699.3 238.9 699.9 240.7 700.4 240.7 701.0 240.8 701.6 243.6 702.1 243.3 702.7 241.7 702.8 241.2 702.9 241.3 702.9 239.0 703.0 238.1 703.1 239.5 703.2 236.7 703.3 237.3 703.3 236.5 703.4 237.7 703.5 235.4 703.6 235.2 703.7 233.2 703.7 234.8 703.8 232.8 703.9 230.0 704.0 230.7 704.1 231.0 704.2 230.0 704.2 229.9 704.3 228.3 704.4 229.3 704.5 226.8 704.6 226.8 704.6 225.0 704.7 223.3 704.8 225.2 704.9 222.5 705.0 223.0 705.0 222.5 705.1 219.9 705.2 221.5 705.3 219.3 705.4 217.9 705.4 215.8 705.5 218.5 705.6 214.0 706.3 217.2 707.0 215.0 707.8 216.3 708.5 215.9 709.2 215.2 709.9 218.9 710.6 216.8 711.4 215.3 712.1 215.6 712.8 216.2 713.5 214.7 714.3 214.5 715.0 218.7 715.7 216.4 716.4 216.6 717.1 214.4 717.9 216.2 718.6 216.9 719.3 215.0 720.0 216.4 720.8 217.1 721.5 215.7 722.3 216.7 723.0 214.5 723.8 215.7 724.5 218.2 725.3 218.0 726.0 218.3 726.8 215.2 727.5 216.8 728.3 216.4 729.0 216.7 729.7 217.4 730.4 216.9 731.1 216.4 731.9 216.2 732.6 214.4 733.3 214.7 734.0 216.5 734.7 215.8 735.4 216.3 736.1 214.5 736.9 217.8 737.6 215.1 738.3 215.4 739.0 215.0 739.7 214.7 740.4 213.7 741.1 215.1 741.8 213.8 742.6 214.8 743.3 213.4 744.0 213.9 744.7 214.4 745.4 214.5 746.1 215.6 746.8 216.2 747.5 215.6 748.1 218.6 748.8 216.4 749.5 214.9 750.2 217.5 750.9 218.5 751.6 217.2 752.3 217.3 753.0 218.2 753.6 218.3 754.3 218.0 755.0 219.9 755.7 217.7 756.4 220.3 757.1 219.6 757.8 218.2 758.4 218.8 759.1 219.3 759.8 218.8 760.5 220.2 761.2 218.2 761.9 218.9 762.5 220.4 763.2 217.3 763.9 216.9 764.6 217.9 765.3 217.3 766.0 214.9 766.6 215.9 767.3 212.5 768.0 215.8 768.4 219.0 768.8 215.5 769.2 215.9 769.6 217.0 770.0 220.0 770.0 219.9 770.0 225.0 770.1 222.4 770.1 223.1 770.1 221.4 770.1 222.1 770.1 222.0 770.1 223.8 770.2 220.5 770.2 225.9 770.2 226.1 770.2 226.9 770.2 226.9 770.2 227.8 770.3 229.1 770.3 229.0 770.3 230.1 770.3 231.7 770.3 230.9 770.4 230.5 770.4 230.9 770.4 233.6 770.4 233.3 770.4 232.7 770.4 234.5 770.5 236.2 770.5 237.0 770.5 236.1 770.5 239.2 770.5 236.5 770.5 239.1 770.6 238.9 770.6 241.3 770.6 243.3 770.6 241.5 770.6 242.8 770.6 245.6 770.7 244.4 770.7 241.0 770.7 247.1 770.7 248.8 770.7 247.4 770.8 248.6 770.8 250.3 770.8 249.8 770.8 251.2 770.8 251.8 770.8 250.4 770.9 253.6 770.9 253.7 770.9 255.4 770.9 254.2 770.9 255.9 770.9 253.5 771.0 255.6 771.0 257.1 771.0 259.5 771.1 257.2 771.2 255.2 771.2 257.3 771.3 257.5 771.4 253.8 771.5 253.2 771.5 254.9 771.6 252.6 771.7 252.0 771.8 251.6 771.8 251.8 771.9 248.8 772.0 249.8 772.1 248.4 772.2 245.9 772.2 246.7 772.3 245.4 772.4 243.7 772.5 242.9 772.5 242.5 772.6 245.0 772.7 243.5 772.8 243.0 772.8 241.8 772.9 238.9 773.0 240.9 773.1 239.3 773.2 239.0 773.2 236.7 773.3 238.5 773.4 236.6 773.5 235.5 773.5 237.3 773.6 235.7 773.7 232.3 773.8 233.2 773.8 232.9 773.9 232.8 774.0 230.6 774.8 232.5 775.5 230.4 776.2 231.5 777.0 230.0 777.0 230.4 777.1 231.4 777.1 231.7 777.2 232.8 777.2 233.8 777.2 231.5 777.3 234.2 777.3 235.2 777.4 235.1 777.4 235.9 777.5 238.1 777.5 238.7 777.5 239.2 777.6 237.6 777.6 241.1 777.7 241.9 777.7 242.8 777.7 241.8 777.8 242.6 777.8 243.6 777.9 244.1 777.9 245.4 778.0 247.1 778.0 247.1 778.0 247.6 778.1 249.0 778.1 250.2 778.2 250.7 778.2 251.7 778.2 249.0 778.3 249.6 778.3 250.9 778.4 251.8 778.4 251.4 778.4 253.4 778.5 255.0 778.5 253.3 778.6 253.7 778.6 254.2 778.7 255.4 778.7 257.8 778.7 258.5 778.8 259.5 778.8 262.1 778.9 262.1 778.9 264.3 779.6 262.8 780.3 259.5 781.0 261.0 781.7 260.8 782.4 259.2 783.1 258.3 783.8 260.4 783.8 260.4 783.8 259.3 783.8 261.1 783.8 262.2 783.9 263.4 783.9 264.4 783.9 265.8 783.9 266.0 784.0 266.5 784.0 267.9 784.0 267.3 784.0 267.6 784.1 269.1 784.1 269.7 784.1 270.9 784.1 270.2 784.2 272.0 784.2 272.4 784.2 273.3 784.2 274.8 784.3 275.5 784.3 271.9 784.3 276.0 784.3 275.4 784.4 275.3 784.4 277.1 784.4 280.3 784.4 280.9 784.5 283.2 784.5 282.9 784.5 281.1 784.5 283.6 784.6 284.8 784.6 283.1 784.6 284.7 784.6 285.8 784.7 287.7 784.7 285.8 784.7 286.0 784.7 289.1 784.8 288.0 784.8 289.0 784.8 290.5 784.8 291.9 784.9 290.5 784.9 295.3 784.9 295.1 784.9 294.2 785.0 295.0 785.0 293.9 785.0 295.0 785.0 296.2 785.1 297.0 785.1 298.1 785.1 299.9 785.2 298.3 785.4 297.1 785.5 297.8 785.7 296.0 785.8 295.9 786.0 296.6 786.1 293.7 786.3 292.9 786.4 288.4 786.6 290.6 786.7 294.8 786.8 290.7 787.0 291.1 787.1 290.0 787.3 287.3 787.4 288.1 787.6 285.0 787.7 285.4 787.9 286.4 788.0 285.2 788.1 284.0 788.3 282.6 788.4 283.2 788.6 282.1 788.7 281.5 788.9 282.0 789.0 280.9 789.2 279.8 789.3 280.3 789.5 279.1 789.6 278.9 789.6 279.7 789.7 278.4 789.7 280.3 789.8 281.3 789.8 281.2 789.9 284.4 789.9 283.2 789.9 285.6 790.0 283.8 790.0 285.9 790.1 285.5 790.1 286.9 790.2 286.6 790.2 287.9 790.2 288.9 790.3 289.2 790.3 292.0 790.4 291.7 790.4 291.6 790.5 291.8 790.5 292.9 790.5 292.9 790.6 294.4 790.6 296.4 790.7 297.6 790.7 296.6 790.7 297.3 790.8 295.4 790.8 297.7 790.9 299.4 790.9 299.9 791.0 299.0 791.0 301.4 791.0 303.8 791.1 305.3 791.1 303.1 791.2 303.6 791.2 300.2 791.3 304.0 791.3 305.4 791.3 305.8 791.4 307.8 791.4 306.6 791.5 309.3 791.5 309.8 791.6 309.7 791.6 310.0 792.2 309.6 792.8 308.4 793.4 309.1 794.0 308.7 794.6 307.7 795.2 307.1 795.8 306.8 796.4 304.3 796.4 306.6 796.5 310.7 796.5 311.2 796.5 311.6 796.5 310.1 796.6 311.9 796.6 312.6 796.6 314.4 796.7 313.8 796.7 315.3 796.7 315.0 796.8 316.2 796.8 315.0 796.8 315.7 796.8 317.1 796.9 319.4 796.9 320.5 796.9 322.7 797.0 321.5 797.0 320.7 797.0 321.3 797.0 323.2 797.1 322.6 797.1 323.4 797.1 324.2 797.2 324.8 797.2 327.1 797.2 327.3 797.3 328.2 797.3 328.4 797.3 330.4 797.3 331.4 797.4 330.1 797.4 330.2 797.4 333.8 797.5 332.4 797.5 334.0 797.5 333.8 797.5 334.2 797.6 336.2 797.6 337.0 797.6 337.2 797.7 337.3 797.7 338.3 797.7 339.0 797.8 339.3 797.8 341.6 797.8 341.2 797.8 340.0 797.9 343.6 797.9 342.6 797.9 343.4 798.0 343.4 798.0 345.7 798.0 345.4 798.0 345.3 798.1 347.1 798.1 350.4 798.1 349.1 798.2 347.6 798.2 349.7 798.2 350.2 798.3 349.9 798.3 351.5 798.3 354.2 798.3 352.6 798.4 354.7 798.4 353.9 798.4 355.9 798.4 355.1 798.4 357.1 798.4 357.3 798.5 359.3 798.5 359.1 798.5 361.3 798.5 359.5 798.5 359.1 798.5 363.1 798.5 363.4 798.5 362.6 798.5 367.4 798.6 365.1 798.6 365.6 798.6 365.8 798.6 368.3 798.6 369.1 798.6 369.3 798.6 370.0 798.6 370.9 798.6 369.6 798.7 372.0 798.7 369.5 798.7 372.8 798.7 372.8 798.7 373.2 798.7 374.8 798.7 375.0 798.7 374.6 798.7 377.1 798.8 374.9 798.8 376.5 798.8 379.5 798.8 380.9 798.8 381.2 798.8 382.2 798.8 382.1 798.8 382.5 798.8 383.1 798.9 385.9 798.9 386.1 798.9 385.3 798.9 388.9 798.9 390.4 798.9 390.4 798.9 390.7 798.9 390.7 798.9 390.1 799.0 391.0 799.0 389.9 799.0 391.9 799.0 393.3 799.0 392.5 799.0 393.5 799.0 393.6 799.0 395.0 799.0 393.9 799.1 397.0 799.1 396.8 799.1 396.6 799.1 397.5 799.1 397.0 799.1 400.6 799.1 401.1 799.1 399.6 799.1 401.5 799.2 402.6 799.2 405.0 799.2 403.4 799.2 404.8 799.2 407.3 799.2 405.4 799.2 408.5 799.2 407.3 799.2 409.6 799.3 410.1 799.3 410.7 799.3 411.6 799.3 407.1 799.3 414.9 799.3 413.1 799.3 415.9 799.3 414.1 799.3 417.1 799.4 415.1 799.4 417.5 799.4 417.3 799.4 417.7 799.4 418.4 799.9 420.8 800.4 419.5 800.9 420.0 801.4 420.5 801.8 422.7 802.3 423.7 802.8 423.7 803.3 424.5 803.8 423.6 804.3 424.5 804.9 425.1 805.5 423.7 806.0 424.3 806.6 424.9 807.2 426.3 807.2 425.8 807.2 426.1 807.2 429.8 807.2 427.7 807.3 429.1 807.3 432.0 807.3 432.2 807.3 432.5 807.3 433.5 807.3 435.1 807.3 434.1 807.3 434.1 807.3 434.4 807.3 436.8 807.4 436.9 807.4 436.8 807.4 441.6 807.4 438.8 807.4 440.7 807.4 440.6 807.4 441.0 807.4 443.6 807.4 441.6 807.5 443.2 807.5 444.9 807.5 447.3 807.5 445.1 807.5 446.8 807.5 452.3 807.5 447.9 807.5 450.1 807.5 449.4 807.6 449.3 807.6 449.7 807.6 453.7 807.6 452.7 807.6 454.2 807.6 455.1 807.6 455.2 807.6 456.4 807.6 455.2 807.6 455.1 807.7 455.5 807.7 457.4 807.7 459.8 807.7 459.6 807.7 460.9 807.7 459.7 807.7 461.1 807.7 462.6 807.7 462.7 807.8 463.7 807.8 463.5 807.8 463.1 807.8 464.8 807.8 462.7 807.8 465.3 807.8 465.3 807.8 467.6 807.8 466.7 807.8 469.5 807.9 469.8 807.9 470.1 807.9 470.3 807.9 472.1 807.9 471.0 807.9 473.6 807.9 472.0 807.9 474.7 807.9 475.5 808.0 470.0 808.0 474.9 808.0 476.8 808.0 476.3 808.0 480.7 808.0 482.0 808.0 480.0 808.0 480.3 808.0 482.7 808.1 482.5 808.1 483.7 808.1 485.9 808.1 484.4 808.1 485.0 808.1 487.3 808.1 489.8 808.1 488.7 808.1 490.0 808.1 490.8 808.2 488.4 808.2 490.9 808.2 489.0 808.2 489.7 808.2 490.3 808.4 489.9 808.5 493.0 808.7 489.6 808.9 490.7 809.0 489.8 809.2 490.9 809.4 488.5 809.5 488.1 809.7 486.3 809.8 486.4 810.0 484.9 810.2 485.4 810.3 485.8 810.5 480.9 810.7 482.6 810.8 482.5 811.0 479.8 811.2 480.9 811.4 483.3 811.7 484.4 811.9 485.5 812.1 484.2 812.3 484.9 812.6 492.2 812.8 486.7 813.0 486.1 813.0 487.7 813.1 488.1 813.1 488.3 813.2 490.4 813.2 490.1 813.3 491.4 813.3 492.0 813.4 493.8 813.4 495.3 813.5 494.4 813.5 495.4 813.6 495.2 813.6 498.2 813.7 495.5 813.7 498.5 813.8 497.1 813.8 498.1 813.9 501.7 813.9 500.7 814.0 499.8 814.0 503.1 814.1 501.9 814.1 503.5 814.2 504.6 814.2 505.2 814.3 506.2 814.3 505.7 814.4 507.6 814.4 505.7 814.5 506.7 814.5 507.7 814.6 507.9 814.6 511.1 814.7 511.6 814.7 512.2 814.8 512.9 814.8 513.2 814.9 512.8 814.9 515.8 815.0 514.8 815.0 515.4 815.3 517.0 815.5 516.0 815.8 515.4 816.0 515.2 816.3 514.3 816.6 512.3 816.8 510.5 817.1 510.9 817.3 510.0 817.6 511.1 817.9 508.7 818.1 506.7 818.4 508.4 818.6 507.9 818.9 505.2 819.6 506.2 820.3 507.4 821.0 505.1 821.7 507.2 822.4 505.2 823.2 505.8 823.9 505.7 824.6 505.4 825.3 507.6 826.0 508.0 826.7 506.9 827.3 506.5 827.9 507.0 828.5 507.7 829.1 505.1 829.7 509.8 830.3 509.7 830.9 511.2 831.5 511.0 832.1 509.7 832.7 510.9 833.3 511.7 833.9 512.7 834.5 510.8 834.6 511.1 834.6 509.3 834.7 510.5 834.7 507.9 834.8 508.5 834.9 505.0 834.9 505.9 835.0 505.5 835.0 506.3 835.1 504.4 835.1 503.1 835.2 503.1 835.3 504.4 835.3 501.3 835.4 502.1 835.4 500.2 835.5 499.1 835.6 499.1 835.6 496.7 835.7 495.5 835.7 498.1 835.8 498.1 835.9 493.9 835.9 495.5 836.0 498.4 836.0 492.7 836.1 491.4 836.1 490.4 836.2 490.6 836.3 488.2 836.3 489.0 836.4 488.8 836.4 487.5 836.5 487.3 836.5 488.7 836.5 488.0 836.5 487.5 836.6 488.8 836.6 490.9 836.6 491.4 836.6 492.8 836.6 494.0 836.6 494.9 836.7 497.0 836.7 496.3 836.7 497.1 836.7 502.0 836.7 499.0 836.7 497.6 836.8 497.6 836.8 499.5 836.8 500.3 836.8 499.4 836.8 501.4 836.8 500.3 836.9 502.1 836.9 504.6 836.9 502.7 836.9 506.8 836.9 507.5 836.9 508.2 837.0 506.3 837.0 507.1 837.0 509.3 837.0 509.3 837.0 514.8 837.0 509.3 837.1 511.4 837.1 510.8 837.1 514.2 837.1 513.2 837.1 514.6 837.1 515.3 837.2 516.2 837.2 517.0 837.2 518.1 837.2 517.7 837.2 517.1 837.2 517.6 837.3 519.6 837.3 520.1 837.3 519.1 837.3 521.4 837.3 523.9 837.3 523.0 837.4 524.2 837.4 526.2 837.4 525.7 837.4 527.9 837.4 528.8 837.4 529.3 837.5 528.6 837.5 530.9 837.5 530.5 837.5 532.5 837.5 533.3 837.5 531.9 837.6 533.7 837.6 536.5 837.6 533.9 837.6 536.8 837.6 536.2 837.6 537.3 837.7 536.6 837.7 538.4 837.7 538.5 837.7 538.6 837.7 540.2 837.7 542.0 837.8 540.4 837.8 542.4 837.8 541.2 837.8 544.8 837.8 543.9 837.8 543.9 837.9 545.3 837.9 544.5 837.9 544.9 837.9 548.2 837.9 548.4 837.9 548.4 838.0 550.7 838.0 550.8 838.0 551.5 838.0 552.8 838.0 552.8 838.0 551.2 838.1 554.1 838.1 555.2 838.1 554.1 838.1 553.4 838.1 556.1 838.1 555.3 838.2 557.3 838.2 557.4 838.2 557.3 838.2 560.3 838.2 559.2 838.2 560.7 838.3 560.1 838.3 562.9 838.3 563.8 838.3 564.3 838.3 565.4 838.3 566.4 838.4 565.3 838.4 568.2 838.4 569.5 838.4 568.5 838.7 570.1 838.9 569.9 839.2 569.8 839.5 574.0 839.8 573.0 840.0 572.2 840.3 574.0 840.6 575.3 840.9 574.6 841.1 575.1 841.4 577.8 841.4 577.3 841.5 578.8 841.5 578.1 841.5 580.3 841.6 579.4 841.6 579.3 841.6 580.0 841.7 584.0 841.7 578.9 841.7 585.3 841.8 586.4 841.8 586.0 841.8 587.6 841.9 586.7 841.9 586.0 841.9 587.7 842.0 588.3 842.0 588.5 842.0 588.9 842.1 589.3 842.1 592.3 842.1 588.1 842.2 593.3 842.2 592.2 842.2 595.2 842.3 595.6 842.3 593.8 842.3 597.1 842.3 597.5 842.4 597.8 842.4 596.8 842.4 597.8 842.5 601.1 842.5 600.2 842.5 602.7 842.6 601.3 842.6 602.3 842.6 598.9 842.7 603.3 842.7 605.1 842.7 604.6 842.8 605.9 842.8 607.6 842.8 607.7 842.9 608.0 842.9 609.4 842.9 610.6 843.0 612.1 843.0 611.4 843.0 610.6 843.1 612.8 843.1 611.4 843.1 612.8 843.2 613.6 843.2 614.3 843.2 615.4 843.3 615.1 843.3 617.3 843.3 617.5 843.3 620.9 843.3 620.5 843.4 620.7 843.4 622.9 843.4 623.2 843.4 623.4 843.4 622.8 843.4 623.7 843.4 624.9 843.5 625.1 843.5 626.5 843.5 626.4 843.5 626.8 843.5 627.5 843.5 628.7 843.5 631.1 843.6 630.1 843.6 632.0 843.6 630.6 843.6 631.6 843.6 634.8 843.6 632.9 843.6 633.8 843.7 634.4 843.7 636.5 843.7 637.5 843.7 636.7 843.7 640.6 843.7 639.8 843.7 642.5 843.8 643.0 843.8 642.3 843.8 641.8 843.8 642.5 843.8 645.7 843.8 645.7 843.9 647.1 843.9 646.9 843.9 647.5 843.9 649.2 843.9 648.7 843.9 648.2 843.9 650.6 844.0 649.5 844.0 651.1 844.0 652.4 844.0 652.3 844.0 652.4 844.0 653.2 844.0 653.5 844.1 656.5 844.1 656.8 844.1 655.0 844.1 658.3 844.1 657.5 844.1 660.2 844.1 657.5 844.2 659.0 844.2 660.6 844.2 659.7 844.2 663.3 844.2 660.6 844.2 662.3 844.2 664.9 844.3 665.1 844.3 665.7 844.3 667.0 844.3 665.3 844.4 665.4 844.5 666.0 844.6 665.3 844.7 662.7 844.8 665.0 844.9 662.2 845.1 662.3 845.2 661.2 845.3 661.5 845.4 661.8 845.5 658.7 845.6 658.3 845.7 656.1 845.8 656.7 845.9 655.6 846.0 656.0 846.1 653.9 846.2 652.8 846.4 652.8 846.5 652.2 846.6 651.9 846.7 651.9 846.8 650.1 846.9 651.6 847.0 649.6 847.1 647.9 847.2 648.1 847.3 645.5 847.4 645.4 847.6 644.4 847.7 642.2 847.8 643.2 847.9 641.5 848.0 640.2 848.1 638.3 848.2 634.9 848.2 639.6 848.3 640.8 848.3 642.6 848.4 642.8 848.4 643.7 848.4 643.4 848.5 643.1 848.5 645.9 848.5 645.6 848.6 647.9 848.6 648.9 848.7 647.4 848.7 649.9 848.7 652.3 848.8 649.0 848.8 655.0 848.8 654.9 848.9 655.0 848.9 655.5 849.0 653.9 849.0 655.0 849.0 654.5 849.1 656.1 849.1 657.2 849.1 657.8 849.2 658.2 849.2 659.2 849.3 658.0 849.3 659.9 849.3 659.7 849.4 663.3 849.4 662.9 849.4 664.3 849.5 667.6 849.5 666.7 849.6 668.5 849.6 665.9 849.6 667.1 849.7 669.2 849.7 668.8 849.7 670.1 849.8 672.2 849.8 670.9 849.9 671.6 849.9 673.4 849.9 675.0 850.0 672.5 850.0 674.8 850.0 676.4 850.1 675.3 850.1 676.8 850.2 677.2 850.2 677.5 850.9 677.4 851.7 677.6 852.4 678.3 853.1 678.5 853.8 678.9 854.5 680.1 855.3 679.3 856.0 679.0 856.1 680.1 856.3 678.4 856.4 677.6 856.6 676.5 856.7 675.7 856.9 675.0 857.0 675.1 857.1 674.7 857.3 673.3 857.4 673.3 857.6 672.1 857.7 671.1 857.9 671.2 858.0 670.4 858.7 669.0 859.5 668.8 860.2 669.2 860.9 669.8 861.6 668.5 862.3 669.3 863.1 670.1 863.8 670.5 864.4 669.2 865.0 669.5 865.6 671.1 866.2 670.8 866.8 672.1 867.4 673.5 868.0 673.9 868.6 675.4 869.2 674.4 869.8 674.7 870.4 675.0 871.0 675.5 871.6 677.0 871.9 677.2 872.2 675.5 872.6 675.7 872.9 674.9 873.2 673.8 873.5 672.4 873.9 672.1 874.2 670.8 874.5 670.6 874.9 671.6 875.2 669.8 875.5 670.2 876.1 669.1 876.7 670.4 877.3 671.1 878.0 671.2 878.6 670.2 879.2 670.3 879.8 671.0 880.4 671.5 881.0 672.3 881.6 672.5 882.2 672.4 882.8 672.4 883.5 675.1 884.1 674.6 884.7 674.4 885.3 673.7 886.0 674.0 886.7 674.7 887.4 674.8 888.0 675.0 888.7 674.1 889.4 675.8 890.1 673.8 890.8 674.8 891.5 674.9 892.1 675.6 892.8 677.3 893.5 675.6 894.2 675.7 894.9 677.3 895.6 676.0 896.3 677.1 896.9 677.8 897.6 677.1 898.3 677.0 899.0 678.2 899.7 678.8 900.4 678.7 901.1 680.0 901.8 679.7 902.5 679.9 903.3 681.3 904.0 679.7 904.7 681.2 905.4 681.1 906.1 679.4 906.8 679.0 907.5 681.3 908.2 679.3 908.9 680.9 909.6 681.0 910.3 681.9 911.1 680.8 911.8 681.8 912.5 682.2 913.2 681.2 913.9 681.7 914.6 681.1 915.2 680.9 915.8 680.8 916.4 681.3 917.0 681.6 917.7 681.5 918.3 678.7 918.9 680.6 919.5 678.3 920.1 677.3 920.7 677.8 921.3 677.5 922.0 677.8 922.6 676.0 923.2 675.6 923.8 676.7 924.4 676.3 925.0 674.6 925.7 673.9 926.3 674.3 927.0 673.1 927.6 673.5 928.3 675.0 928.9 674.2 929.6 674.0 930.2 674.8 930.9 674.5 931.5 674.1 932.2 673.4 932.8 670.8 933.5 672.0 934.1 669.7 934.8 671.2 935.5 671.4 936.2 670.4 936.9 672.2 937.6 672.0 938.3 672.1 939.0 673.5 939.8 673.3 940.5 672.7 941.2 673.9 941.9 674.1 942.6 675.3 943.3 674.1 944.0 672.3 944.7 673.4 945.4 673.5 946.1 672.8 946.9 675.0 947.6 672.6 948.3 674.9 949.0 674.7 949.7 673.6 950.4 673.0 951.2 673.8 951.9 672.1 952.6 669.8 953.3 672.7 954.0 673.1 954.7 673.5 955.5 672.4 956.2 672.0 956.9 670.8 957.6 671.6 958.3 671.0 959.0 670.9 959.8 671.9 960.5 671.9 961.2 671.3 961.9 672.7 962.6 672.0 963.3 673.3 964.1 671.9 964.8 672.2 965.5 672.5 966.2 670.3 966.9 672.2 967.7 672.2 968.4 672.6 969.1 672.5 969.8 672.7 970.5 672.3 971.2 671.9 971.9 672.3 972.6 672.1 973.3 673.2 974.0 674.0 974.7 674.2 975.4 672.6 976.1 674.9 976.8 674.2 977.5 674.1 978.2 674.2 978.9 674.6 979.5 675.2 980.2 674.0 980.9 675.1 981.6 675.1 982.3 676.0 983.0 676.2 983.6 679.8 984.3 677.6 984.9 677.6 985.6 677.4 986.2 678.7 986.9 679.4 987.5 679.0 988.2 679.4 988.8 679.8 989.5 680.3 990.1 681.6 990.8 682.0 991.4 681.6 992.1 677.7 992.7 681.7 993.4 681.9 994.1 682.2 994.8 682.0 995.6 681.4 996.3 682.2 997.0 682.7 997.7 682.8 998.4 682.5 999.1 681.5 999.8 682.2 1000.5 682.7 1001.3 682.6 1002.0 684.5 1002.7 684.1 1003.4 684.1 1004.1 684.0 1004.8 684.3 1005.5 682.4 1006.3 683.0 1007.0 683.3 1007.7 683.0 1008.4 683.3 1009.1 685.0 1009.8 683.1 1010.5 683.4 1011.3 683.8 1012.0 685.1 1012.7 684.4 1013.4 684.6 1014.1 682.9 1014.8 683.0 1015.6 683.8 1016.3 683.4 1017.0 683.3 1017.7 682.2 1018.4 683.5 1019.1 682.3 1019.9 681.1 1020.6 682.6 1021.3 682.4 1022.0 682.2 1022.7 682.3 1023.4 681.6 1024.1 681.8 1024.8 682.5 1025.5 685.0 1026.1 684.8 1026.8 683.8 1027.5 684.2 1028.2 683.7 1028.9 685.0 1029.6 683.6 1030.3 684.7 1031.0 685.0 1031.7 685.0 1032.4 684.1 1033.1 686.3 1033.8 684.5 1034.3 683.3 1034.9 684.2 1035.5 684.1 1036.1 684.3 1036.7 683.2 1037.3 684.1 1037.9 681.9 1038.5 682.3 1039.0 681.5 1039.6 681.2 1040.2 681.2 1040.8 680.8 1041.4 680.7 1042.0 678.6 1042.6 677.4 1043.2 676.8 1043.7 677.3 1044.3 677.1 1044.9 676.2 1045.5 674.6 1046.2 676.9 1046.9 675.9 1047.7 677.2 1048.4 672.7 1049.1 674.8 1049.8 674.6 1050.5 675.0 1051.2 676.4 1052.0 677.3 1052.7 676.9 1053.4 672.9 1054.1 673.9 1054.8 675.1 1055.5 674.5 1056.2 674.4 1057.0 674.9 1057.7 674.5 1058.4 673.9 1059.1 673.6 1059.8 673.8 1060.5 674.5 1061.3 675.6 1062.0 675.0 1062.7 675.0 1063.4 674.4 1064.1 675.6 1064.8 672.9 1065.6 674.5 1066.3 674.7 1067.0 674.0 1067.7 673.6 1068.4 675.7 1069.1 676.2 1069.9 675.2 1070.6 675.0 1071.3 675.9 1072.0 676.4 1072.7 674.9 1073.4 675.9 1074.2 674.4 1074.9 674.8 1075.6 676.1 1076.3 676.9 1077.0 674.2 1077.7 675.8 1078.5 675.3 1079.2 676.1 1079.9 676.2 1080.6 679.3 1081.3 676.0 1082.1 676.5 1082.8 676.5 1083.5 676.1 1084.2 673.7 1085.0 675.5 1085.7 673.9 1086.4 674.9 1087.2 674.6 1087.9 673.0 1088.6 673.6 1089.3 675.0 1090.1 674.6 1090.8 673.5 1091.5 674.0 1092.2 674.0 1093.0 674.4 1093.7 673.2 1094.3 674.6 1095.0 674.6 1095.7 674.6 1096.3 675.5 1096.9 675.2 1097.6 675.5 1098.3 676.1 1099.0 677.4 1099.7 677.4 1100.4 676.3 1101.2 677.0 1101.9 676.7 1102.6 677.8 1103.3 677.5 1104.0 677.6 1104.7 675.9 1105.4 676.8 1106.1 676.8 1106.8 675.8 1107.6 675.4 1108.3 675.2 1109.0 675.8 1109.7 676.2 1110.4 676.5 1111.1 677.2 1111.8 677.0 1112.5 676.2 1113.2 676.4 1113.8 676.8 1114.4 678.0 1115.0 677.3 1115.6 678.8 1116.2 679.4 1116.8 679.7 1117.3 679.6 1117.9 680.1 1118.5 680.7 1119.1 682.0 1119.8 681.3 1120.5 681.5 1121.2 681.0 1122.0 680.6 1122.7 682.8 1123.4 680.0 1124.1 680.4 1124.8 681.6 1125.5 680.7 1126.3 681.2 1127.0 680.7 1127.7 680.8 1128.4 680.4 1129.1 680.1 1129.8 679.8 1130.6 681.3 1131.3 681.8 1132.0 681.9 1132.7 681.2 1133.4 681.1 1134.1 680.5 1134.9 681.4 1135.6 681.1 1136.3 681.2 1137.0 680.6 1137.7 680.1 1138.4 680.3 1139.2 680.2 1139.9 680.1 1140.6 681.4 1141.3 680.4 1142.0 680.2 1142.7 681.7 1143.5 681.9 1144.2 681.7 1144.9 681.6 1145.6 681.5 1146.3 682.3 1147.0 680.9 1147.7 681.7 1148.4 683.5 1149.2 682.1 1149.9 682.5 1150.6 683.1 1151.3 682.0 1152.0 682.6 1152.7 681.5 1153.4 682.4 1154.2 683.2 1154.9 683.4 1155.6 682.3 1156.3 682.9 1157.0 682.9 1157.7 684.5 1158.4 683.4 1159.1 683.4 1159.9 683.5 1160.6 684.5 1161.3 683.6 1162.0 684.8 1162.7 683.7 1163.4 683.5 1164.1 682.7 1164.8 682.1 1165.5 684.5 1166.2 682.8 1167.0 682.3 1167.7 683.5 1168.4 682.4 1169.1 682.7 1169.8 683.9 1170.5 683.1 1171.2 683.6 1171.9 684.3 1172.6 682.3 1173.3 682.2 1174.0 682.0 1174.7 682.7 1175.5 682.0 1176.2 682.6 1176.9 681.2 1177.6 681.0 1178.3 680.4 1179.0 680.7 1179.7 681.5 1180.4 679.8 1181.1 680.1 1181.8 680.4 1182.5 681.8 1183.2 680.5 1183.9 680.6 1184.6 681.2 1185.3 681.0 1186.0 680.8 1186.7 682.1 1187.4 681.8 1188.1 680.5 1188.8 681.6 1189.5 681.0 1190.2 680.8 1190.9 681.9 1191.6 682.1 1192.3 682.6 1193.1 681.4 1193.8 680.8 1194.5 680.8 1195.2 680.8 1195.9 679.9 1196.6 681.7 1197.3 681.3 1198.0 681.1 1198.7 682.3 1199.4 683.5 1200.1 682.1 1200.8 681.4 1201.5 681.2 1202.2 683.0 1202.9 681.3 1203.6 681.2 1204.3 681.1 1205.0 682.0 1205.7 681.3 1206.3 681.9 1207.0 681.2 1207.6 682.5 1208.3 681.6 1208.9 680.5 1209.6 679.0 1210.2 681.0 1210.9 680.0 1211.5 678.0 1212.2 678.5 1212.8 677.7 1213.5 676.8 1214.1 676.9 1214.8 678.2 1215.5 676.8 1216.2 675.8 1216.9 676.6 1217.6 677.9 1218.4 676.4 1219.1 677.0 1219.8 677.1 1220.5 677.1 1221.2 677.3 1221.9 678.8 1222.6 676.4 1223.3 676.3 1224.0 678.3 1224.7 678.5 1225.5 678.0 1226.2 677.5 1226.9 677.7 1227.6 678.7 1228.3 677.6 1229.0 677.2 1229.7 678.7 1230.4 677.8 1231.1 677.9 1231.9 678.6 1232.6 677.2 1233.3 676.4 1234.0 677.4 1234.7 678.0 1235.4 678.3 1236.1 677.9 1236.8 678.4 1237.5 678.6 1238.2 678.0 1239.0 677.2 1239.7 677.5 1240.4 676.9 1241.1 676.5 1241.8 678.3 1242.5 676.7 1243.2 676.1 1243.9 677.7 1244.7 677.0 1245.4 675.8 1246.1 674.7 1246.8 676.6 1247.5 676.6 1248.2 676.4 1248.9 677.7 1249.6 677.8 1250.3 678.1 1251.1 677.2 1251.8 676.8 1252.5 675.9 1253.2 675.5 1253.9 676.4 1254.6 676.0 1255.3 675.8 1256.1 675.7 1256.8 674.2 1257.5 676.3 1258.2 677.9 1259.0 678.0 1259.7 677.4 1260.4 676.8 1261.1 678.2 1261.8 676.3 1262.6 678.1 1263.3 678.2 1264.0 677.8 1264.7 676.1 1265.4 677.4 1266.2 675.8 1266.9 677.1 1267.6 677.8 1268.3 677.6 1269.1 676.7 1269.8 677.1 1270.5 681.7 1270.6 679.1 1270.6 678.6 1270.7 676.7 1270.7 676.8 1270.8 674.1 1270.8 674.1 1270.9 675.0 1271.0 674.1 1271.0 671.3 1271.1 671.4 1271.1 669.2 1271.2 669.4 1271.2 667.5 1271.3 668.4 1271.4 667.8 1271.4 667.1 1271.5 664.7 1271.5 665.0 1271.6 664.4 1271.7 663.8 1271.7 663.3 1271.8 661.9 1271.8 661.6 1271.9 661.2 1271.9 660.0 1272.0 660.7 1272.1 658.5 1272.1 658.4 1272.2 657.1 1272.2 654.8 1272.3 656.5 1272.3 655.2 1272.4 654.7 1273.1 655.9 1273.8 654.8 1274.5 655.3 1275.2 655.0 1275.8 656.3 1276.5 655.3 1277.2 655.3 1277.9 655.9 1278.6 656.2 1279.3 656.5 1280.0 656.0 1280.7 655.2 1281.4 656.4 1282.1 656.5 1282.8 656.0 1283.5 655.8 1284.2 655.8 1284.9 655.7 1285.7 655.7 1286.4 656.0 1287.1 656.2 1287.8 656.4 1288.5 655.3 1289.2 655.7 1289.9 654.8 1290.6 654.5 1291.3 654.6 1292.0 655.7 1292.7 656.2 1293.4 655.4 1294.1 654.4 1294.8 655.0 1295.5 654.5 1296.2 654.3 1296.9 654.2 1297.6 654.4 1298.3 655.1 1299.1 654.9 1299.8 653.4 1300.5 654.9 1301.2 654.6 1301.9 654.1 1302.6 654.6 1303.3 654.4 1304.0 654.2 1304.7 654.1 1305.4 653.6 1306.1 654.4 1306.8 653.5 1307.5 653.5 1308.2 653.4 1308.9 653.6 1309.6 652.2 1310.3 654.0 1311.0 653.3 1311.7 653.7 1312.4 653.1 1313.1 653.6 1313.8 654.0 1314.5 653.5 1315.2 652.8 1315.9 653.2 1316.6 652.9 1317.3 653.0 1318.0 653.6 1318.7 655.0 1319.4 654.7 1320.1 654.0 1320.8 654.2 1321.5 654.2 1322.2 653.1 1322.9 652.8 1323.6 653.6 1324.3 653.5 1325.0 652.4 1325.7 652.5 1326.4 651.9 1327.1 651.7 1327.8 652.7 1328.5 652.6 1329.2 652.1 1329.9 653.4 1330.6 652.8 1331.3 653.1 1332.0 653.2 1332.0 651.4 1332.1 651.3 1332.1 651.2 1332.1 649.9 1332.2 649.5 1332.2 649.1 1332.2 648.0 1332.2 648.1 1332.3 646.9 1332.3 646.1 1332.3 645.1 1332.4 645.4 1332.4 642.7 1332.4 643.9 1332.5 643.1 1332.5 641.5 1332.5 641.7 1332.6 639.4 1332.6 639.6 1332.6 638.5 1332.7 637.6 1332.7 637.3 1332.7 636.2 1332.8 635.5 1332.8 634.9 1332.8 634.0 1332.8 632.9 1332.9 633.0 1332.9 632.5 1332.9 632.8 1333.0 630.4 1333.0 630.3 1333.7 630.5 1334.4 629.6 1335.1 630.3 1335.9 630.9 1336.6 629.7 1337.3 630.3 1338.0 630.6 1338.7 631.2 1339.4 630.1 1340.2 630.5 1340.9 630.7 1341.6 630.9 1342.3 630.2 1343.0 631.0 1343.7 630.9 1344.5 631.5 1345.2 630.2 1345.9 630.5 1346.6 630.6 1346.6 630.5 1346.7 630.1 1346.7 628.9 1346.7 627.9 1346.8 627.4 1346.8 626.3 1346.8 626.1 1346.8 624.6 1346.9 624.1 1346.9 623.4 1346.9 622.1 1347.0 621.6 1347.0 621.4 1347.0 620.4 1347.1 619.3 1347.1 619.0 1347.1 618.7 1347.2 617.9 1347.2 616.3 1347.2 615.7 1347.3 615.4 1347.3 613.9 1347.3 612.0 1347.3 612.3 1347.4 613.0 1347.4 611.6 1347.4 610.5 1347.5 610.0 1347.5 609.5 1347.5 609.2 1347.6 609.2 1347.6 608.2 1348.3 608.8 1349.0 608.4 1349.7 607.7 1350.4 608.7 1351.1 607.2 1351.8 605.9 1352.5 607.5 1353.2 606.8 1353.9 606.8 1354.6 606.4 1355.3 607.2 1356.0 606.6 1356.7 607.2 1357.4 607.2 1358.1 607.2 1358.8 607.8 1359.5 607.6 1360.2 607.9 1360.9 607.6 1361.6 608.8 1362.3 608.4 1362.3 607.3 1362.4 606.5 1362.4 605.0 1362.4 605.1 1362.4 603.8 1362.5 603.1 1362.5 603.6 1362.5 602.2 1362.6 601.7 1362.6 600.7 1362.6 599.9 1362.7 599.8 1362.7 598.7 1362.7 597.8 1362.7 597.6 1362.8 596.8 1362.8 596.2 1362.8 594.4 1362.9 594.2 1362.9 593.3 1362.9 592.5 1363.0 591.7 1363.0 592.0 1363.0 590.6 1363.0 590.6 1363.1 589.3 1363.1 588.1 1363.1 587.4 1363.2 588.0 1363.2 587.6 1363.2 585.7 1363.2 585.8 1364.0 585.6 1364.7 584.7 1365.4 584.6 1366.1 585.2 1366.8 585.7 1367.5 585.5 1368.2 585.1 1368.9 585.7 1369.6 585.6 1370.3 584.5 1371.0 585.6 1371.7 585.3 1372.4 584.8 1373.1 585.1 1373.8 585.3 1374.5 584.8 1375.2 585.1 1375.9 583.5 1376.6 585.6 1377.3 584.9 1378.0 585.3 1378.7 584.4 1379.4 585.0 1380.1 585.4 1380.8 585.2 1381.5 586.0 1382.2 584.8 1382.9 584.7 1383.6 585.2 1384.3 585.0 1385.0 585.4 1385.7 585.7 1386.4 585.2 1387.1 585.6 1387.8 585.1 1388.5 585.3 1389.2 585.3 1389.9 585.5 1390.6 584.5 1390.7 583.9 1390.7 583.7 1390.8 582.1 1390.8 582.6 1390.9 581.0 1390.9 581.3 1391.0 580.7 1391.1 578.8 1391.1 579.3 1391.2 577.7 1391.2 577.7 1391.3 576.8 1391.3 576.3 1391.4 575.2 1391.5 573.5 1391.5 572.8 1391.6 572.3 1391.6 571.4 1391.7 571.8 1391.8 570.2 1391.8 569.3 1391.9 568.6 1391.9 567.9 1392.0 567.9 1392.0 566.8 1392.1 566.1 1392.2 565.8 1392.2 565.7 1392.3 565.0 1392.3 562.1 1392.4 562.8 1392.4 562.6 1392.5 561.8 1393.2 562.2 1393.9 561.3 1394.6 561.0 1395.3 562.4 1396.0 562.2 1396.7 562.1 1397.4 562.2 1398.1 561.4 1398.8 562.5 1399.5 561.7 1400.2 561.6 1400.9 562.4 1401.6 562.2 1402.3 561.6 1403.0 562.3 1403.7 562.7 1404.4 563.2 1405.1 562.9 1405.8 562.0 1406.5 562.5 1407.2 562.4 1407.3 561.7 1407.3 561.6 1407.4 560.0 1407.4 559.6 1407.5 558.0 1407.5 557.6 1407.6 557.9 1407.6 557.4 1407.7 555.2 1407.8 555.4 1407.8 554.2 1407.9 553.9 1407.9 552.2 1408.0 552.3 1408.0 550.1 1408.1 549.7 1408.2 548.7 1408.2 549.3 1408.3 548.7 1408.3 547.8 1408.4 547.5 1408.4 547.1 1408.5 545.8 1408.5 546.0 1408.6 543.4 1408.7 543.5 1408.7 542.3 1408.8 542.3 1408.8 541.8 1408.9 540.1 1408.9 540.5 1409.0 538.6 1409.0 538.0 1409.1 537.4 1409.8 536.4 1410.5 537.2 1411.3 536.5 1412.0 536.6 1412.7 537.8 1413.4 537.6 1414.1 536.6 1414.9 537.2 1415.6 536.6 1416.3 537.0 1417.0 536.9 1417.8 538.0 1418.5 536.6 1419.2 536.1 1419.9 536.5 1420.6 538.7 1421.4 536.6 1422.1 536.2 1422.8 536.7 1422.8 536.1 1422.9 535.3 1422.9 534.9 1422.9 534.1 1423.0 532.6 1423.0 531.6 1423.0 531.7 1423.1 530.5 1423.1 530.0 1423.1 529.4 1423.2 528.2 1423.2 526.1 1423.2 528.0 1423.3 526.2 1423.3 526.4 1423.3 525.7 1423.4 524.6 1423.4 524.9 1423.4 523.0 1423.5 522.0 1423.5 520.8 1423.5 520.9 1423.6 520.1 1423.6 519.4 1423.6 519.1 1423.7 518.2 1423.7 517.3 1423.8 517.2 1424.5 516.8 1425.2 516.5 1425.9 517.6 1426.6 516.5 1427.3 516.5 1428.0 516.6 1428.7 517.4 1429.4 516.6 1430.2 516.8 1430.9 518.1 1431.6 517.4 1432.3 517.2 1433.0 516.7 1433.7 517.5 1434.4 516.4 1435.1 516.0 1435.8 516.6 1436.6 515.9 1437.3 517.0 1438.0 516.8 1438.7 517.1 1439.4 517.4 1439.5 517.0 1439.5 515.5 1439.6 514.7 1439.6 514.4 1439.7 514.2 1439.8 512.1 1439.8 512.6 1439.9 510.4 1439.9 510.9 1440.0 509.6 1440.0 508.8 1440.1 508.3 1440.2 508.1 1440.2 506.6 1440.3 505.3 1440.3 504.8 1440.4 504.4 1440.5 503.6 1440.5 503.0 1440.6 502.5 1440.6 501.6 1440.7 500.9 1440.8 499.3 1440.8 500.0 1440.9 499.9 1440.9 496.3 1441.0 495.3 1441.0 496.9 1441.1 496.0 1441.2 494.9 1441.2 494.9 1441.3 493.8 1441.3 493.1 1441.4 492.3 1442.1 492.5 1442.9 492.3 1443.6 491.9 1444.3 492.9 1445.0 492.1 1445.8 492.2 1446.5 492.3 1447.2 491.6 1447.9 491.4 1448.7 492.2 1449.4 492.0 1450.1 491.0 1450.8 490.8 1451.5 492.0 1452.3 490.9 1453.0 491.8 1453.1 490.7 1453.2 489.3 1453.3 489.9 1453.3 487.8 1453.4 487.6 1453.5 487.3 1453.6 487.1 1453.7 485.4 1453.8 485.1 1453.9 484.7 1454.0 483.5 1454.0 482.7 1454.1 481.7 1454.2 481.3 1454.3 481.2 1454.4 480.5 1454.5 479.6 1454.6 479.5 1454.7 477.7 1454.7 476.9 1454.8 475.8 1454.9 476.1 1455.0 474.7 1455.7 475.1 1456.4 474.2 1457.1 475.3 1457.8 476.8 1458.5 474.6 1459.2 474.2 1459.9 474.4 1460.6 475.7 1461.3 473.8 1462.0 473.6 1462.7 474.2 1463.4 473.8 1464.1 473.5 1464.8 473.0 1465.5 473.2 1466.2 473.1 1466.9 473.2 1467.6 472.6 1468.3 472.4 1469.0 471.3 1469.7 472.8 1470.4 472.6 1471.1 471.9 1471.8 470.8 1472.5 471.9 1473.2 471.6 1473.9 470.1 1474.6 471.2 1475.3 471.6 1476.0 472.3 1476.7 472.0 1477.4 472.4 1478.1 471.6 1478.8 471.9 1479.5 472.2 1480.2 471.9 1480.8 472.5 1481.5 473.5 1482.2 473.3 1482.9 473.3 1483.6 473.2 1484.3 473.3 1485.0 474.0 1485.7 473.7 1486.5 473.2 1487.3 473.8 1488.0 473.6 1488.8 474.3 1489.6 474.5 1489.6 474.1 1489.7 473.8 1489.7 476.3 1489.7 476.5 1489.7 477.5 1489.8 478.5 1489.8 479.0 1489.8 479.2 1489.9 479.7 1489.9 481.5 1489.9 482.2 1490.0 483.5 1490.0 483.2 1490.0 483.7 1490.0 484.7 1490.1 485.5 1490.1 485.7 1490.1 487.7 1490.2 487.1 1490.2 487.9 1490.2 489.1 1490.2 490.8 1490.3 490.6 1490.3 491.8 1490.3 492.9 1490.4 492.6 1490.4 493.5 1490.4 495.3 1490.5 495.9 1490.5 495.6 1490.5 496.4 1490.5 496.7 1490.6 497.9 1490.6 498.7 1491.2 498.3 1491.8 498.2 1492.5 497.3 1493.1 497.9 1493.7 496.6 1494.3 496.4 1494.9 496.0 1495.5 495.3 1496.2 494.6 1496.8 494.2 1497.4 492.6 1497.5 493.7 1497.5 494.4 1497.6 495.0 1497.6 496.6 1497.7 497.5 1497.7 497.8 1497.8 498.4 1497.8 499.2 1497.9 499.6 1498.0 500.3 1498.0 501.5 1498.1 502.5 1498.1 503.3 1498.2 504.6 1498.2 505.4 1498.3 506.1 1498.3 505.8 1498.4 506.5 1498.5 506.2 1498.5 508.0 1498.6 508.8 1498.6 509.8 1498.7 509.6 1498.7 510.1 1498.8 510.5 1498.8 511.4 1498.9 513.2 1499.0 514.2 1499.0 514.2 1499.1 515.1 1499.1 516.0 1499.2 516.0 1499.2 517.7 1499.3 517.8 1499.3 518.2 1499.4 519.7 1500.0 519.6 1500.5 519.9 1501.1 520.0 1501.6 520.7 1502.2 522.2 1502.7 522.3 1503.3 523.2 1503.4 523.5 1503.5 524.0 1503.5 525.2 1503.6 525.5 1503.7 527.3 1503.8 527.6 1503.8 528.6 1503.9 528.0 1504.0 530.7 1504.1 530.2 1504.2 531.4 1504.2 529.7 1504.3 533.0 1504.4 533.6 1504.5 533.9 1504.6 535.3 1504.6 535.7 1504.7 535.4 1504.8 536.7 1504.9 537.3 1504.9 538.1 1505.0 539.3 1505.1 540.4 1505.2 540.6 1505.3 541.2 1505.3 541.7 1505.4 542.2 1505.5 542.2 1505.6 542.9 1505.7 544.6 1505.7 544.9 1505.8 545.4 1505.9 546.7 1506.0 546.7 1506.0 547.1 1506.1 548.4 1506.2 549.2 1506.9 549.1 1507.6 548.5 1508.3 549.8 1509.0 549.1 1509.7 549.8 1510.4 550.0 1511.1 549.3 1511.8 550.6 1512.6 549.9 1513.3 550.4 1514.0 550.4 1514.7 549.6 1515.4 550.0 1516.1 550.0 1516.8 550.2 1517.5 550.6 1518.2 550.8 1518.9 549.8 1519.2 549.7 1519.5 548.9 1519.8 549.1 1520.0 547.1 1520.3 546.1 1520.6 547.2 1520.9 545.2 1521.6 546.0 1522.2 547.9 1522.8 547.0 1523.5 548.5 1524.2 548.5 1524.8 547.9 1524.9 548.9 1524.9 549.8 1525.0 549.1 1525.0 550.6 1525.1 550.7 1525.2 552.4 1525.2 552.6 1525.3 552.4 1525.4 554.2 1525.4 554.4 1525.5 555.4 1525.5 556.2 1525.6 557.0 1525.7 557.7 1525.7 558.6 1525.8 558.5 1525.8 559.2 1525.8 559.2 1525.9 560.7 1525.9 561.5 1525.9 561.3 1525.9 562.7 1525.9 563.6 1525.9 565.0 1526.0 565.4 1526.0 565.0 1526.0 565.3 1526.0 566.5 1526.0 568.0 1526.0 568.5 1526.1 569.9 1526.1 569.9 1526.1 570.4 1526.1 571.5 1526.1 571.5 1526.1 573.4 1526.2 573.7 1526.2 574.9 1526.2 575.5 1526.2 578.8 1526.2 577.8 1526.3 577.5 1526.3 578.1 1526.3 579.6 1526.3 579.5 1526.3 579.8 1526.3 580.6 1526.4 581.9 1526.4 584.2 1526.4 582.8 1526.4 583.5 1526.4 583.7 1526.4 584.9 1526.5 585.3 1526.5 585.1 1526.5 586.4 1526.5 587.7 1526.5 588.5 1526.5 589.2 1526.6 589.6 1526.6 590.7 1526.6 591.5 1526.6 591.7 1526.6 592.6 1526.7 593.6 1526.7 594.8 1526.7 595.2 1526.7 596.7 1526.7 596.3 1526.7 596.5 1526.8 597.5 1526.8 597.9 1526.8 598.7 1526.8 599.5 1526.8 599.9 1526.8 602.2 1526.9 602.3 1526.9 603.1 1526.9 604.0 1526.9 603.9 1526.9 604.9 1526.9 605.9 1527.0 606.1 1527.0 607.0 1527.0 608.3 1527.0 608.2 1527.0 609.1 1527.1 610.2 1527.1 610.0 1527.1 611.3 1527.1 611.2 1527.1 612.6 1527.1 612.8 1527.2 613.7 1527.2 614.5 1527.2 615.3 1527.2 615.5 1527.2 616.0 1527.2 617.3 1527.3 617.2 1527.3 619.3 1527.3 618.5 1527.3 620.7 1527.3 620.5 1527.3 621.5 1527.4 622.8 1527.4 622.7 1527.4 623.6 1527.4 624.4 1527.4 625.0 1527.4 625.9 1527.5 626.4 1527.5 628.0 1527.5 627.4 1527.5 628.5 1527.5 628.6 1527.6 629.8 1527.6 630.2 1527.6 631.0 1527.6 632.5 1527.6 631.8 1527.6 631.5 1527.7 634.4 1527.7 634.1 1527.7 634.9 1527.7 635.3 1527.7 637.1 1527.7 637.9 1527.8 638.9 1527.8 639.4 1527.8 640.3 1527.8 639.8 1527.8 639.8 1527.8 641.4 1527.9 642.7 1527.9 644.0 1527.9 643.4 1527.9 644.9 1527.9 646.3 1528.0 646.5 1528.0 646.6 1528.0 646.9 1528.0 648.9 1528.0 649.3 1528.0 649.1 1528.1 650.5 1528.1 651.2 1528.1 651.6 1528.1 652.6 1528.1 652.8 1528.1 654.0 1528.2 655.8 1528.2 654.5 1528.2 656.5 1528.2 656.9 1528.2 658.0 1528.2 658.0 1528.3 659.6 1528.3 659.6 1528.3 660.0 1528.3 660.8 1528.3 662.0 1528.4 661.7 1528.4 662.6 1528.4 663.5 1528.4 663.8 1528.4 664.9 1528.4 665.3 1528.5 665.8 1528.5 666.6 1528.5 668.2 1528.5 668.4 1528.5 669.5 1528.5 670.5 1528.6 670.9 1528.6 670.8 1528.6 671.2 1528.6 672.5 1528.6 673.4 1528.6 673.8 1528.7 674.8 1528.7 676.5 1528.7 675.8 1528.8 677.8 1529.0 678.1 1529.1 678.9 1529.2 678.3 1529.4 679.4 1529.5 682.5 1529.7 681.2 1529.8 682.3 1529.9 682.2 1530.1 683.2 1530.2 683.8 1530.3 684.5 1530.5 685.1 1530.6 686.0 1531.3 685.9 1532.0 686.0 1532.7 686.0 1533.4 685.8 1534.1 685.9 1534.8 686.0 1535.5 686.0 1536.2 686.0 1536.9 686.0 1537.6 685.8 1538.3 686.0 1539.0 685.9 1539.7 685.5 1540.4 686.1 1540.9 685.6 1541.4 684.7 1541.9 684.2 1542.3 683.4 1542.8 682.9 1543.3 682.3 1543.8 681.7 1544.3 681.0 1545.0 681.0 1545.7 681.1 1546.4 680.8 1547.1 680.7 1547.8 680.7 1548.6 680.6 1549.3 680.6 1550.0 680.3 1550.7 680.5 1551.4 680.4 1552.1 680.4 1552.8 680.3 1553.5 680.4 1554.2 680.5 1554.9 680.4 1555.6 680.6 1556.3 680.7 1557.0 680.8 1557.7 680.8 1558.4 680.9 1559.1 681.1 1559.8 681.1 1560.5 681.1 1561.2 681.2 1561.9 681.1 1562.6 681.1 1563.3 681.1 1564.0 681.4 1564.7 681.4 1565.4 681.5 1566.1 681.6 1566.8 681.4 1567.5 681.7 1568.2 681.6 1568.9 681.8 1569.6 681.8 1570.3 681.8 1571.0 681.9 1571.7 682.0 1572.4 681.8 1573.1 682.0 1573.9 682.1 1574.6 682.0 1575.3 682.2 1576.0 682.3 1576.8 682.3 1577.5 682.3 1578.2 682.1 1578.9 682.3 1579.6 682.5 1580.4 682.5 1581.1 682.5 1581.8 682.6 1582.5 682.7 1583.3 682.7 1584.0 682.7 1584.7 682.9 1585.4 682.7 1586.1 682.9 1586.9 682.9 1587.6 682.9 1588.3 682.8 1589.0 682.9 1589.8 683.1 1590.5 683.1 1591.2 683.3 1591.9 683.3 1592.6 683.5 1593.3 683.7 1594.0 684.3 1594.7 684.3 1595.4 684.6 1596.1 684.5 1596.8 684.5 1597.5 684.8 1598.2 685.6 1598.9 685.4 1599.6 685.6 1600.3 685.8 1601.0 686.1 1601.2 685.3 1601.5 684.7 1601.7 683.8 1602.0 683.1 1602.2 682.2 1602.4 681.8 1602.7 680.9 1602.9 680.2 1603.6 680.3 1604.3 680.2 1605.0 680.4 1605.7 680.5 1606.4 680.5 1607.1 680.4 1607.8 680.5 1608.5 680.7 1609.2 680.7 1609.9 680.8 1610.6 680.6 1611.3 680.7 1612.0 680.9 1612.7 681.0 1613.5 681.2 1614.3 681.3 1615.0 681.7 1615.8 681.9 1616.6 682.0 1617.3 681.9 1618.0 682.1 1618.7 682.1 1619.4 681.9 1620.1 682.0 1620.9 682.1 1621.6 682.1 1622.3 681.9 1623.0 681.8 1623.7 682.0 1624.4 681.9 1625.1 682.2 1625.8 681.9 1626.5 681.9 1627.2 681.8 1627.9 682.0 1628.7 682.2 1629.4 682.0 1630.1 682.0 1630.8 682.0 1631.5 682.1 1632.2 682.1 1632.9 682.2 1633.6 682.2 1634.3 682.0 1635.0 682.1 1635.7 682.1 1636.5 681.9 1637.2 682.0 1637.9 681.8 1638.6 682.0 1639.3 682.1 1640.0 681.9 1640.7 682.0 1641.4 681.9 1642.1 682.0 1642.8 681.9 1643.5 682.0 1644.3 682.2 1645.0 682.0 1645.7 682.0 1646.4 681.9 1647.1 682.0 1647.8 682.0 1647.8 681.3 1647.9 680.6 1647.9 679.8 1647.9 679.2 1648.0 678.6 1648.0 677.7 1648.0 677.1 1648.1 676.5 1648.1 675.5 1648.1 674.8 1648.2 674.0 1648.2 673.4 1648.2 672.8 1648.3 671.9 1648.3 671.1 1648.3 670.6 1648.3 669.9 1648.4 669.1 1648.4 668.3 1648.4 667.8 1648.5 666.7 1648.5 665.8 1648.5 665.2 1648.6 664.7 1648.6 664.0 1648.6 663.4 1648.7 662.4 1648.7 661.6 1648.7 660.9 1648.8 660.4 1648.8 659.5 1649.6 659.6 1650.3 659.6 1651.1 659.7 1651.8 659.8 1652.6 659.5 1653.3 659.5 1654.1 659.7 1654.8 659.6 1655.6 659.6 1655.6 658.8 1655.6 658.2 1655.6 657.5 1655.7 657.0 1655.7 656.2 1655.7 655.6 1655.7 654.7 1655.7 654.2 1655.7 653.6 1655.8 652.8 1655.8 651.9 1655.8 651.2 1655.8 650.5 1655.8 649.9 1655.8 649.0 1655.8 648.4 1655.9 647.7 1655.9 646.9 1655.9 646.4 1655.9 645.7 1655.9 645.3 1655.9 644.4 1656.0 643.5 1656.0 643.0 1656.0 642.2 1656.0 641.3 1656.0 640.7 1656.0 640.1 1656.1 639.3 1656.1 638.7 1656.1 637.8 1656.1 637.2 1656.1 636.9 1656.1 635.7 1656.1 635.2 1656.2 634.5 1656.2 633.9 1656.2 633.3 1656.2 632.3 1656.2 631.7 1656.2 630.8 1656.3 630.2 1656.3 629.5 1656.3 628.7 1656.3 628.1 1656.3 627.2 1656.3 626.5 1656.3 626.0 1656.4 625.3 1656.4 624.5 1656.4 624.0 1656.4 623.0 1656.4 622.6 1656.4 621.7 1656.5 620.9 1656.5 620.2 1656.5 619.5 1656.5 618.7 1656.5 618.1 1656.5 617.5 1656.6 616.8 1656.6 616.0 1656.6 615.2 1656.6 614.6 1657.3 614.6 1658.1 614.6 1658.8 614.9 1659.5 614.9 1660.3 614.9 1661.0 614.7 1661.8 614.7 1662.5 614.8 1662.5 614.0 1662.5 613.2 1662.5 612.6 1662.5 612.0 1662.5 611.2 1662.6 610.7 1662.6 609.8 1662.6 609.2 1662.6 608.5 1662.6 607.7 1662.6 607.1 1662.6 606.3 1662.6 605.5 1662.6 604.9 1662.6 603.9 1662.6 603.4 1662.7 602.8 1662.7 602.0 1662.7 601.3 1662.7 600.5 1662.7 600.0 1662.7 599.3 1662.7 598.7 1662.7 597.9 1662.7 597.1 1662.7 596.5 1662.8 595.8 1662.8 595.1 1662.8 594.3 1662.8 593.5 1662.8 593.1 1662.8 592.1 1662.8 591.8 1662.8 590.9 1662.8 590.3 1662.8 589.4 1662.8 588.7 1662.9 588.5 1662.9 587.4 1662.9 586.7 1662.9 585.9 1662.9 585.1 1662.9 584.7 1662.9 583.5 1662.9 583.1 1662.9 582.5 1662.9 581.8 1662.9 581.0 1663.0 580.4 1663.0 579.7 1663.0 578.9 1663.0 578.0 1663.0 577.3 1663.0 576.8 1663.0 576.2 1663.0 575.2 1663.0 574.5 1663.0 573.9 1663.0 573.2 1663.1 572.7 1663.1 571.9 1663.1 571.3 1663.1 570.4 1663.1 569.9 1663.1 568.7 1663.1 568.2 1663.1 567.8 1663.1 567.0 1663.1 566.2 1663.1 565.6 1663.2 564.9 1663.2 564.1 1663.2 563.5 1663.2 562.8 1663.2 561.9 1663.2 561.3 1663.2 560.6 1663.2 559.8 1663.2 559.3 1663.2 558.1 1663.3 557.9 1663.3 557.2 1663.3 556.2 1663.3 555.8 1663.3 554.9 1663.3 554.4 1663.3 553.9 1663.3 552.9 1663.3 552.1 1663.3 551.2 1663.3 550.7 1663.4 550.0 1663.4 549.4 1663.4 548.6 1663.4 547.7 1663.4 547.2 1663.4 546.5 1664.1 546.4 1664.9 546.3 1665.6 546.5 1666.3 546.3 1667.1 546.3 1667.8 546.5 1668.6 546.5 1669.3 546.7 1669.3 545.9 1669.3 545.2 1669.4 544.4 1669.4 543.8 1669.4 542.9 1669.4 542.2 1669.4 541.6 1669.5 541.0 1669.5 540.2 1669.5 539.4 1669.5 538.9 1669.5 538.1 1669.6 537.8 1669.6 536.7 1669.6 535.9 1669.6 535.4 1669.6 534.7 1669.7 533.9 1669.7 533.2 1669.7 532.4 1669.7 531.8 1669.8 531.1 1669.8 530.4 1669.8 529.8 1669.8 529.1 1669.8 528.2 1669.9 527.6 1669.9 527.0 1669.9 526.3 1669.9 525.5 1669.9 524.8 1670.0 524.0 1670.0 523.6 1670.0 522.5 1670.0 521.9 1670.0 521.2 1670.1 520.5 1670.1 519.9 1670.1 519.2 1670.1 518.5 1670.1 517.6 1670.2 516.9 1670.2 516.3 1670.2 515.6 1670.2 514.7 1670.2 514.3 1670.3 513.4 1670.3 512.7 1670.3 512.2 1670.3 511.6 1670.3 510.8 1670.4 510.2 1670.4 509.4 1670.4 508.4 1670.4 508.2 1670.4 507.2 1670.5 506.7 1670.5 505.9 1670.5 505.2 1670.5 504.6 1670.6 503.6 1670.6 503.1 1670.6 502.5 1670.6 501.9 1670.6 501.1 1670.7 500.3 1670.7 499.7 1670.7 498.9 1670.7 498.2 1670.7 497.5 1670.8 496.8 1670.8 495.8 1670.8 495.4 1670.8 494.5 1670.8 494.0 1670.9 493.3 1670.9 492.8 1670.9 492.0 1670.9 491.0 1670.9 490.5 1671.0 489.9 1671.0 489.0 1671.0 488.3 1671.0 487.6 1671.0 486.9 1671.1 486.3 1671.1 485.6 1671.1 484.8 1671.1 484.1 1671.1 483.5 1671.2 482.6 1671.2 482.1 1671.2 481.5 1671.2 480.7 1671.2 480.1 1672.0 480.1 1672.7 480.2 1673.4 480.1 1674.1 480.1 1674.8 480.0 1675.5 480.1 1676.2 480.1 1676.9 480.0 1677.6 480.1 1678.3 480.1 1679.0 480.1 1679.0 479.2 1679.0 478.5 1679.1 477.9 1679.1 477.3 1679.1 476.4 1679.1 475.8 1679.1 475.0 1679.2 474.4 1679.2 473.8 1679.2 473.1 1679.2 472.3 1679.3 471.5 1679.3 470.9 1679.3 470.1 1679.3 469.4 1679.3 468.6 1679.4 468.0 1679.4 467.2 1679.4 466.5 1679.4 465.9 1679.4 465.3 1679.5 464.6 1679.5 463.7 1679.5 463.3 1679.5 462.4 1679.6 461.8 1679.6 461.1 1679.6 460.2 1679.6 459.5 1679.6 459.0 1679.7 458.1 1679.7 457.4 1679.7 456.8 1679.7 456.0 1679.7 455.5 1679.8 454.8 1679.8 453.8 1679.8 453.3 1679.8 452.5 1679.9 452.0 1679.9 451.1 1679.9 450.4 1679.9 449.6 1679.9 449.1 1680.0 448.3 1680.0 447.5 1680.0 446.8 1680.0 446.3 1680.0 445.6 1680.1 444.9 1680.1 444.0 1680.1 443.0 1680.1 442.6 1680.1 441.8 1680.2 441.3 1680.2 440.3 1680.2 439.8 1680.2 439.1 1680.3 438.4 1680.3 437.7 1680.3 436.8 1680.3 436.1 1680.3 435.5 1680.4 434.8 1680.4 434.2 1680.4 433.6 1680.4 432.6 1680.4 431.9 1680.5 431.4 1680.5 430.6 1680.5 430.0 1680.5 429.4 1680.6 428.4 1680.6 427.8 1680.6 426.9 1680.6 426.5 1680.6 425.5 1680.7 425.0 1680.7 424.3 1680.7 423.5 1680.7 422.7 1680.7 422.2 1680.8 421.3 1680.8 420.7 1680.8 420.2 1680.8 419.2 1680.9 418.4 1680.9 417.9 1680.9 417.1 1680.9 416.3 1680.9 415.8 1681.0 415.2 1681.0 414.6 1681.0 413.9 1681.2 413.0 1681.3 412.3 1681.5 411.7 1681.6 411.0 1681.8 410.3 1681.9 409.6 1682.0 409.0 1682.2 408.3 1682.3 407.4 1682.5 406.9 1682.7 406.3 1682.8 405.5 1683.0 404.7 1683.1 404.0 1683.2 403.5 1683.4 402.9 1683.5 402.0 1683.7 401.4 1683.8 400.6 1684.0 399.8 1684.0 399.3 1684.1 398.7 1684.1 398.0 1684.1 397.2 1684.2 396.7 1684.2 395.7 1684.3 395.0 1684.3 394.4 1684.3 393.7 1684.4 392.9 1684.4 392.2 1684.4 391.7 1684.5 390.9 1684.5 390.1 1684.6 389.6 1684.6 388.7 1684.6 388.1 1684.7 387.5 1684.7 386.7 1684.7 385.8 1684.8 385.3 1684.8 384.4 1684.8 383.8 1684.9 382.9 1684.9 382.3 1685.0 381.6 1685.0 380.8 1685.0 380.2 1685.1 379.6 1685.1 378.9 1685.1 378.0 1685.2 377.5 1685.2 376.6 1685.2 376.0 1685.3 375.2 1685.3 374.6 1685.4 373.8 1685.4 373.1 1685.4 372.6 1685.5 371.9 1685.5 370.9 1685.5 370.6 1685.6 369.6 1685.6 369.0 1685.7 368.2 1685.7 367.8 1685.7 366.9 1685.8 366.0 1685.8 365.3 1685.8 364.9 1685.9 364.0 1685.9 363.7 1685.9 362.6 1686.0 362.0 1686.0 361.1 1686.1 360.4 1686.1 359.7 1686.1 359.2 1686.2 358.3 1686.2 357.7 1686.2 357.0 1686.3 356.2 1686.3 356.0 1686.3 354.9 1686.4 354.3 1686.4 353.4 1686.5 352.8 1686.5 352.2 1686.5 351.5 1686.6 350.7 1686.6 350.1 1686.6 349.2 1686.7 348.6 1686.7 347.9 1686.8 347.1 1686.8 346.3 1686.8 345.9 1686.9 345.1 1686.9 344.3 1687.6 344.3 1688.4 344.4 1689.1 344.5 1689.8 344.3 1690.6 344.2 1691.3 344.3 1692.0 344.2 1692.8 344.1 1692.8 343.6 1692.8 343.0 1692.8 342.2 1692.8 341.4 1692.8 340.3 1692.8 340.0 1692.9 339.4 1692.9 338.5 1692.9 338.0 1692.9 337.3 1692.9 336.7 1692.9 336.0 1692.9 335.3 1693.0 334.6 1693.0 333.6 1693.0 332.9 1693.0 332.3 1693.0 331.6 1693.0 331.0 1693.0 330.1 1693.1 329.7 1693.1 328.8 1693.1 328.2 1693.1 327.4 1693.1 326.8 1693.1 326.0 1693.2 325.2 1693.2 324.5 1693.2 324.0 1693.2 323.0 1693.2 322.6 1693.2 321.7 1693.2 321.0 1693.3 320.3 1693.3 319.7 1693.3 319.0 1693.3 318.3 1693.3 317.7 1693.3 317.1 1693.3 316.2 1693.4 315.7 1693.4 315.0 1693.4 314.1 1693.4 313.4 1693.4 312.5 1693.4 312.0 1693.4 311.3 1693.5 310.4 1693.5 309.8 1693.5 309.2 1693.5 308.4 1693.5 307.6 1693.5 307.1 1693.6 306.3 1693.6 305.6 1693.6 305.0 1693.6 304.4 1693.6 303.6 1693.6 302.8 1693.6 302.2 1693.7 301.5 1693.7 301.1 1693.7 299.9 1693.7 299.3 1694.5 299.3 1695.2 299.4 1696.0 299.4 1696.8 299.4 1697.5 299.4 1698.3 299.3 1699.1 299.3 1699.8 299.4 1700.6 299.2 1700.6 298.6 1700.7 297.9 1700.7 297.3 1700.7 296.5 1700.7 295.9 1700.8 295.2 1700.8 294.6 1700.8 293.7 1700.9 293.1 1700.9 292.5 1700.9 291.7 1700.9 290.8 1701.0 290.2 1701.0 289.6 1701.0 288.7 1701.0 288.1 1701.1 287.2 1701.1 286.6 1701.1 286.0 1701.2 285.5 1701.2 284.6 1701.2 284.1 1701.2 283.1 1701.3 282.5 1701.3 281.4 1701.3 281.1 1701.4 280.5 1701.4 279.6 1701.4 279.1 1701.4 278.4 1701.5 277.5 1701.5 277.0 1702.3 277.1 1703.0 277.4 1703.8 277.2 1704.6 277.5 1705.3 277.3 1706.1 277.5 1706.9 277.7 1707.6 277.8 1708.4 277.8 1708.4 277.1 1708.5 276.5 1708.5 275.6 1708.5 275.0 1708.6 274.0 1708.6 273.4 1708.6 272.8 1708.6 272.1 1708.7 271.5 1708.7 270.8 1708.7 269.8 1708.8 269.2 1708.8 268.7 1708.8 267.9 1708.9 267.1 1708.9 266.6 1708.9 265.6 1708.9 265.3 1709.0 264.4 1709.0 263.8 1709.0 262.9 1709.1 262.4 1709.1 261.5 1709.1 260.9 1709.2 260.0 1709.2 259.5 1709.2 258.7 1709.2 257.9 1709.3 257.2 1709.3 256.4 1709.3 255.8 1709.4 255.1 1709.4 254.3 1710.2 254.3 1710.9 254.4 1711.7 254.3 1712.4 254.2 1713.2 254.2 1713.9 254.4 1714.7 254.4 1715.4 254.5 1716.2 254.3 1716.2 253.6 1716.3 252.9 1716.3 252.4 1716.3 251.8 1716.4 251.1 1716.4 250.3 1716.4 249.5 1716.5 249.0 1716.5 248.0 1716.5 247.6 1716.5 246.7 1716.6 246.0 1716.6 244.9 1716.6 244.6 1716.7 243.9 1716.7 243.1 1716.7 242.3 1716.8 241.8 1716.8 241.0 1716.8 240.3 1716.9 239.6 1716.9 239.2 1716.9 238.3 1717.0 237.8 1717.0 237.0 1717.0 236.1 1717.0 235.5 1717.1 234.7 1717.1 234.2 1717.1 233.8 1717.2 232.7 1717.2 232.1 1717.9 232.2 1718.6 232.0 1719.3 232.1 1720.0 231.9 1720.7 231.9 1721.4 232.0 1722.1 231.9 1722.8 232.1 1723.6 232.0 1724.3 232.0 1725.0 232.0 1725.7 232.0 1726.4 232.1 1727.1 232.2 1727.8 232.1 1728.5 232.1 1729.2 232.0 1729.9 231.9 1729.9 231.1 1729.9 230.4 1729.9 229.9 1729.9 229.2 1729.9 228.5 1729.9 227.6 1729.9 227.0 1729.9 226.3 1729.9 225.7 1729.9 225.1 1729.9 224.4 1729.9 223.7 1729.9 223.1 1729.9 222.3 1729.9 221.4 1729.9 220.9 1729.9 220.2 1729.9 219.3 1729.9 218.7 1729.9 218.1 1729.9 217.1 1729.9 216.5 1729.9 215.6 1729.9 215.0 1729.9 214.6 1729.9 213.7 1729.9 212.9 1729.9 212.3 1729.9 211.6 1729.9 210.9 1729.9 210.2 1729.9 209.3 1730.6 209.3 1731.3 209.4 1732.0 209.4 1732.7 209.6 1733.4 209.5 1734.1 209.5 1734.8 209.3 1735.5 209.2 1736.2 209.4 1736.9 209.5 1737.6 209.5 1738.3 209.4 1739.0 209.6 1739.7 209.4 1740.4 209.5 1741.1 209.5 1741.8 209.4 1742.5 209.4 1743.2 209.2 1743.9 209.2 1744.6 209.3 1745.3 209.3 1746.0 209.3 1746.7 209.4 1747.4 209.1 1748.1 209.4 1748.8 209.5 1749.5 209.4 1750.2 209.5 1750.9 209.4 1751.6 209.4 1752.3 209.5 1753.0 209.6 1753.7 209.1 1754.4 209.4 1755.1 209.4 1755.8 209.5 1756.5 209.9 1757.2 209.4 1757.9 209.2 1758.6 209.4 1759.3 209.4 1760.0 209.2 1760.7 209.3 1761.4 209.4 1762.1 209.5 1762.8 209.4 1763.6 209.4 1764.3 209.4 1765.0 209.4 1765.7 209.5 1766.4 209.4 1767.1 209.6 1767.8 209.4 1768.5 209.4 1769.2 209.4 1769.9 209.4 1770.6 209.4 1771.3 209.6 1772.0 209.6 1772.7 209.5 1773.4 209.5 1774.1 209.6 1774.8 209.5 1775.5 209.4 1776.2 209.4 1776.9 209.5 1777.6 209.8 1778.3 209.3 1779.0 209.3 1779.7 209.1 1780.4 209.3 1781.1 209.4 1781.8 209.5 1782.5 209.5 1783.2 209.6 1783.9 209.5 1784.6 209.4 1785.3 209.4 1786.0 209.3 1786.7 209.2 1787.4 209.3 1788.1 209.2 1788.8 209.5 1789.5 209.8 1790.2 209.2 1790.9 209.3 1791.6 209.4 1792.3 209.3 1793.0 209.2 1793.7 209.3 1794.4 209.4 1795.1 209.5 1795.8 209.4 1796.5 209.4 1797.2 209.5 1797.3 210.0 1797.3 210.8 1797.4 211.6 1797.4 212.2 1797.5 212.8 1797.5 213.7 1797.6 214.4 1797.6 215.0 1797.7 215.9 1797.8 216.7 1797.8 217.3 1797.9 218.1 1797.9 218.6 1798.0 219.4 1798.0 220.1 1798.1 220.9 1798.1 221.5 1798.2 222.4 1798.3 223.1 1798.3 223.7 1798.4 224.4 1798.4 225.0 1798.5 225.9 1798.5 226.5 1798.6 227.1 1798.6 228.0 1798.7 228.7 1798.8 229.5 1798.8 230.2 1798.9 230.8 1798.9 231.6 1799.0 232.3 1799.0 233.1 1799.1 233.6 1799.1 234.4 1799.2 235.0 1799.2 235.7 1799.3 236.4 1799.3 237.2 1799.3 238.0 1799.4 238.7 1799.4 239.1 1799.5 240.0 1799.5 240.7 1799.5 241.3 1799.6 242.2 1799.6 242.7 1799.6 243.5 1799.7 244.2 1799.7 245.1 1799.8 245.7 1799.8 246.6 1799.8 247.1 1799.9 247.9 1799.9 248.6 1799.9 249.3 1800.0 250.2 1800.0 250.7 1800.1 251.5 1800.1 252.3 1800.1 253.1 1800.2 253.8 1800.2 254.3 1800.9 254.4 1801.7 254.4 1802.4 254.6 1803.1 254.5 1803.8 254.5 1804.5 254.6 1805.3 254.4 1806.0 254.6 1806.1 255.2 1806.1 255.9 1806.2 256.6 1806.3 257.3 1806.3 257.8 1806.4 258.7 1806.5 259.5 1806.5 260.1 1806.6 260.9 1806.7 261.5 1806.7 262.7 1806.8 263.3 1806.9 263.8 1806.9 264.5 1807.0 265.1 1807.1 265.7 1807.1 266.6 1807.2 267.2 1807.3 268.0 1807.3 268.9 1807.4 269.5 1807.5 270.2 1807.5 271.0 1807.6 271.7 1807.7 272.5 1807.7 273.2 1807.8 273.7 1807.9 274.3 1807.9 275.4 1808.0 276.0 1808.7 275.9 1809.5 276.1 1810.2 276.4 1810.9 276.6 1811.6 276.5 1812.3 276.6 1813.1 276.6 1813.8 276.8 1813.8 277.5 1813.9 278.1 1813.9 279.1 1813.9 279.7 1814.0 280.3 1814.0 281.1 1814.0 281.7 1814.0 282.6 1814.1 283.1 1814.1 283.8 1814.1 284.5 1814.2 285.2 1814.2 286.1 1814.2 286.7 1814.3 287.6 1814.3 288.2 1814.3 288.9 1814.4 289.6 1814.4 290.3 1814.4 291.0 1814.5 291.6 1814.5 292.4 1814.5 293.2 1814.5 293.9 1814.6 294.6 1814.6 295.1 1814.6 295.9 1814.7 296.7 1814.7 297.2 1814.7 297.8 1814.8 298.4 1814.8 299.2 1815.5 299.0 1816.2 299.1 1816.9 299.3 1817.6 299.4 1818.3 299.2 1819.0 299.2 1819.7 299.2 1820.4 299.0 1821.1 299.5 1821.8 299.5 1822.5 299.3 1823.2 299.4 1823.9 299.4 1824.7 299.2 1825.4 299.3 1826.1 299.6 1826.8 299.3 1827.5 299.4 1828.2 299.2 1828.9 299.5 1829.6 299.3 1830.3 299.4 1831.0 299.3 1831.7 299.6 1832.4 299.1 1833.1 299.5 1833.8 299.3 1834.5 299.4 1835.2 299.3 1835.9 299.4 1836.6 299.6 1837.3 299.5 1838.0 299.7 1838.7 299.3 1839.4 299.3 1840.1 299.5 1840.8 299.1 1841.5 299.5 1842.2 299.5 1842.9 299.4 1843.6 299.3 1844.4 299.4 1845.1 299.3 1845.8 299.5 1846.5 299.5 1847.2 299.5 1847.9 299.5 1848.6 299.5 1849.3 299.4 1850.0 299.5 1850.7 299.4 1851.4 299.4 1852.1 299.5 1852.8 299.5 1853.5 299.5" stroke="#38abd9" stroke-width="3.9" stroke-linejoin="miter" stroke-miterlimit="2.5"/>
<path d="M491.4 640.0L492.2 640.4 493.1 641.5 493.9 639.2 494.8 639.2 495.6 641.2 496.5 640.8 497.3 640.7 498.2 642.2 499.0 639.0 499.8 642.4 500.6 641.5 501.4 641.9 502.2 642.7 503.0 641.2 503.8 641.7 504.6 641.3 505.4 642.4 506.2 643.7 507.0 642.2 507.8 641.5 508.6 641.3 509.4 641.4 510.2 640.8 511.0 641.3 511.8 640.0 512.7 641.1 513.5 640.6 514.3 640.8 515.1 640.2 515.9 640.5 516.7 642.0 517.5 640.9 518.3 640.5 519.1 639.7 519.9 641.0 520.7 641.0 521.5 640.3 522.3 640.2 523.1 641.3 523.9 640.8 524.7 639.9 525.5 639.7 526.3 640.9 527.1 639.2 527.9 640.0 528.7 640.3 529.5 639.8 530.3 639.3 531.1 639.8 531.9 639.5 532.7 638.3 533.5 638.9 534.3 639.3 535.1 639.6 535.9 638.7 536.7 640.1 537.5 638.8 538.3 639.4 539.2 639.1 540.0 639.2 540.8 638.6 541.6 638.3 542.4 637.7 543.2 638.3 544.0 639.2 544.8 638.4 545.6 638.8 546.4 638.9 547.2 639.1 548.0 637.8 548.8 638.0 549.6 638.0 550.4 638.5 551.2 638.7 552.0 639.1 552.8 637.8 553.6 638.4 554.4 637.7 555.2 638.0 556.0 637.8 556.8 637.9 557.6 637.5 558.4 638.5 559.2 637.4 560.0 638.6 560.8 638.3 561.6 637.2 562.4 637.3 563.2 637.9 564.0 637.1 564.8 637.9 565.6 638.2 566.4 637.8 567.2 637.5 568.0 637.7 568.8 636.8 569.6 637.4 570.4 636.3 571.2 637.4 572.0 637.1 572.8 637.2 573.6 636.8 574.4 636.5 575.2 636.0 576.0 636.1 576.8 636.7 577.6 637.3 578.4 636.8 579.2 636.5 580.0 636.1 580.8 636.7 581.7 637.1 582.5 636.7 583.3 637.1 584.1 637.3 584.9 636.4 585.7 636.8 586.5 636.4 587.3 636.4 588.1 637.8 588.9 636.9 589.7 637.3 590.5 636.1 591.3 636.6 592.1 636.3 592.9 635.6 593.7 635.9 594.5 636.4 595.3 636.5 596.1 635.3 596.9 636.0 597.7 635.6 598.5 635.6 599.3 636.9 600.1 635.5 600.9 636.9 601.7 636.8 602.5 636.4 603.3 636.0 604.1 636.8 604.9 637.0 605.7 636.1 606.5 634.9 607.3 636.3 608.1 636.0 608.9 636.0 609.7 635.5 610.5 635.4 611.3 636.1 612.1 635.0 612.9 635.1 613.7 635.1 614.5 635.5 615.3 634.3 616.1 634.3 616.9 634.0 617.7 632.6 618.5 634.2 619.3 633.8 620.1 634.3 620.9 634.0 621.7 634.3 622.5 634.4 623.3 634.8 624.1 635.1 624.9 633.7 625.7 634.5 626.5 633.3 627.3 633.8 628.1 633.1 628.9 633.6 629.7 634.2 630.5 634.8 631.3 634.3 632.1 634.0 632.9 633.2 633.7 636.5 634.5 634.4 635.3 633.9 636.1 634.0 636.9 634.6 637.7 634.4 638.5 634.5 639.3 633.5 640.1 633.3 640.9 634.3 641.8 632.8 642.6 633.1 643.4 634.0 644.2 634.1 645.0 633.8 645.8 631.9 646.6 633.5 647.4 633.7 648.2 633.1 649.0 633.8 649.8 632.7 650.6 633.1 651.4 633.6 652.2 633.3 653.0 633.4 653.8 634.2 654.6 632.0 655.4 633.6 656.2 631.6 657.0 632.1 657.8 632.6 658.6 632.4 659.4 633.2 660.2 632.3 661.0 632.5 661.8 633.1 662.6 632.3 663.4 633.4 664.2 633.0 665.0 632.7 665.8 632.4 666.6 632.3 667.4 632.9 668.2 632.5 669.0 632.8 669.8 632.1 670.6 632.0 671.4 631.8 672.2 632.6 673.0 631.8 673.8 631.3 674.6 632.7 675.4 632.3 676.2 631.9 677.0 631.2 677.8 631.4 678.6 631.6 679.5 632.0 680.3 630.9 681.1 631.4 681.9 631.0 682.7 632.3 683.5 632.3 684.3 632.3 685.1 632.6 685.9 632.1 686.7 631.5 687.5 631.4 688.3 631.0 689.1 631.5 689.9 631.8 690.7 632.8 691.5 632.4 692.4 633.1 693.2 632.9 694.0 631.8 694.8 632.2 695.6 632.1 696.4 631.5 697.2 633.0 698.0 631.9 698.8 631.7 699.6 632.8 700.4 632.1 701.2 632.4 702.0 631.8 702.8 632.4 703.6 633.0 704.4 632.3 705.2 633.2 706.0 632.4 706.8 632.1 707.6 633.3 708.4 633.0 709.2 632.5 710.0 632.3 710.8 632.4 711.6 633.6 712.4 635.6 713.2 633.8 714.0 631.4 714.8 631.9 715.6 632.5 716.4 631.8 717.2 634.5 718.0 628.9 718.8 631.6 719.6 632.5 720.4 632.2 721.2 631.4 722.0 631.6 722.8 631.2 723.6 634.3 724.4 632.8 725.2 629.5 726.0 631.7 726.8 632.9 727.6 631.7 728.4 631.6 729.2 632.7 730.0 631.1 730.8 631.2 731.6 630.9 732.4 632.1 733.2 631.3 734.0 632.3 734.8 631.4 735.6 631.9 736.4 630.9 737.2 630.8 738.0 631.0 738.8 630.4 739.6 629.9 740.4 630.1 741.2 629.7 742.0 630.3 742.8 630.4 743.6 631.8 744.4 630.4 745.2 632.9 746.0 630.9 746.8 630.8 747.6 630.3 748.4 629.3 749.2 630.8 750.0 631.0 750.8 631.0 751.6 630.8 752.4 629.7 753.2 630.5 754.0 631.0 754.8 630.0 755.6 629.8 756.4 630.4 757.2 630.5 758.0 630.5 758.8 631.2 759.6 630.1 760.4 630.7 761.2 630.1 762.0 632.0 762.8 630.2 763.7 630.3 764.5 629.7 765.3 630.6 766.1 630.7 766.9 630.8 767.7 630.8 768.5 629.6 769.3 630.9 770.1 630.2 770.9 630.5 771.7 630.8 772.5 631.1 773.3 630.9 774.1 629.6 774.9 632.0 775.7 629.6 776.5 629.6 777.3 630.1 778.1 629.1 778.9 628.9 779.7 630.7 780.5 629.6 781.3 630.6 782.1 630.5 782.9 630.2 783.7 629.5 784.5 629.4 785.3 629.3 786.1 630.2 786.9 629.1 787.7 629.5 788.5 629.6 789.3 629.2 790.1 629.8 790.9 628.8 791.8 630.2 792.6 629.6 793.4 628.7 794.2 628.5 795.0 628.1 795.8 628.3 796.6 628.7 797.4 629.4 798.2 628.7 799.0 628.8 799.9 628.9 800.7 628.6 801.5 627.6 802.3 628.9 803.1 628.9 803.9 628.2 804.7 628.9 805.5 628.2 806.3 629.3 807.1 628.6 808.0 629.1 808.8 629.1 809.6 628.4 810.4 627.9 811.2 628.6 812.0 628.4 812.8 628.8 813.6 628.4 814.4 629.0 815.2 628.2 816.1 628.7 816.9 627.9 817.7 627.7 818.5 628.0 819.3 627.7 820.1 628.6 820.9 628.4 821.7 629.1 822.5 628.2 823.3 628.7 824.2 628.9 825.0 628.0 825.8 628.4 826.6 628.6 827.4 628.5 828.2 628.5 829.0 628.0 829.8 627.9 830.6 628.1 831.4 627.8 832.3 627.3 833.1 627.7 833.9 626.9 834.7 627.5 835.5 626.5 835.6 626.1 835.6 624.7 835.7 624.3 835.8 623.9 835.9 622.7 835.9 622.9 836.0 621.8 836.1 621.1 836.1 619.4 836.2 619.4 836.3 618.8 836.3 617.5 836.4 616.0 836.5 616.2 836.6 614.1 836.6 613.1 836.7 614.0 836.8 612.9 836.8 612.7 836.9 611.0 837.0 610.0 837.1 609.0 837.1 608.9 837.2 609.5 837.3 607.0 837.3 607.1 837.4 605.4 837.5 605.3 837.6 604.2 837.6 604.0 837.7 602.6 837.8 601.3 837.8 601.3 837.9 600.9 838.0 599.7 838.0 598.4 838.1 598.5 838.2 597.5 838.3 596.8 838.3 594.8 838.4 594.5 838.5 594.6 838.6 592.6 838.8 592.3 838.9 592.4 839.0 591.9 839.1 590.8 839.3 588.3 839.4 587.5 839.5 586.7 839.6 587.3 839.7 586.0 839.9 583.6 840.0 583.8 840.1 582.1 840.2 582.3 840.3 582.5 840.5 580.3 840.6 579.4 840.7 578.5 840.8 578.9 841.0 577.0 841.1 576.2 841.2 576.0 841.3 574.6 841.4 574.0 841.6 573.4 841.7 572.8 841.8 572.1 841.9 572.1 842.1 570.7 842.2 569.4 842.3 568.8 842.4 567.7 842.5 567.1 842.5 566.6 842.6 565.1 842.7 564.8 842.8 564.0 842.9 563.8 843.0 563.6 843.0 562.1 843.1 561.4 843.2 560.3 843.3 559.9 843.4 557.9 843.5 557.5 843.5 556.7 843.6 555.7 843.7 554.5 843.8 553.5 843.9 552.2 844.0 552.9 844.0 552.4 844.1 550.2 844.2 550.7 844.3 549.8 844.4 547.7 844.6 547.8 844.7 546.6 844.9 546.3 845.0 544.1 845.1 544.0 845.3 543.6 845.4 543.1 845.6 542.0 845.7 541.4 845.8 539.6 846.0 539.6 846.1 537.5 846.2 537.3 847.1 537.7 848.0 538.6 848.8 537.4 849.7 535.3 850.6 538.0 851.4 537.2 852.3 537.7 853.1 537.7 854.0 537.0 854.1 537.9 854.3 539.3 854.4 539.5 854.6 540.4 854.7 541.2 854.8 542.4 855.0 543.8 855.1 544.8 855.2 546.9 855.4 544.9 855.5 545.6 855.7 547.2 855.8 549.3 855.9 548.5 856.1 549.8 856.2 550.7 856.3 551.7 856.5 551.9 856.6 554.4 856.8 553.4 856.9 555.4 857.0 556.0 857.2 555.7 857.3 556.4 857.4 558.5 857.6 558.3 857.7 560.0 857.9 560.4 858.0 561.3 858.6 561.1 859.3 562.1 860.0 562.8 860.6 562.9 861.2 563.9 861.9 566.0 862.1 563.3 862.3 562.4 862.5 562.7 862.7 562.6 862.9 560.5 863.1 561.1 863.3 559.5 863.5 558.9 863.7 557.6 863.8 557.5 864.0 556.4 864.2 555.6 864.4 555.1 864.6 554.2 864.8 553.9 865.0 551.9 865.2 553.7 865.4 551.4 865.6 550.0 865.8 548.6 866.5 548.9 867.2 547.8 867.9 547.6 868.6 548.3 869.3 546.6 870.0 548.5 870.6 545.3 871.3 545.6 872.0 545.1 872.7 544.0 873.4 544.0 874.1 543.0 874.8 543.8 875.5 543.4 876.1 543.7 876.7 545.2 877.2 544.6 877.8 544.8 878.4 545.0 879.0 546.6 879.5 546.6 880.1 546.8 880.7 547.8 881.3 548.8 881.8 548.8 882.4 550.1 883.0 550.2 883.6 551.5 884.1 551.1 884.7 552.5 885.3 551.5 886.1 554.0 886.9 554.4 887.6 554.3 888.4 555.7 889.2 555.3 889.7 555.0 890.1 554.0 890.6 554.2 891.0 552.4 891.5 551.4 892.0 551.2 892.4 550.0 892.9 548.4 893.3 547.8 893.8 548.4 894.2 547.8 894.7 547.2 895.2 545.2 895.6 545.5 896.1 545.6 896.5 544.1 897.0 543.9 897.7 543.5 898.5 544.3 899.2 542.3 899.9 542.5 900.7 542.2 901.4 541.9 902.1 541.9 902.9 541.0 903.6 541.0 904.3 541.8 905.1 539.9 905.8 539.5 906.5 539.7 907.3 538.2 908.0 538.3 908.7 538.9 909.5 538.8 910.2 539.1 910.9 538.2 911.7 537.2 912.4 537.2 913.1 537.2 913.9 536.2 914.6 535.0 915.4 535.3 916.2 535.2 917.0 535.3 917.8 535.2 918.6 534.5 919.4 535.1 920.2 534.1 921.0 534.0 921.8 533.6 922.6 533.5 923.4 534.1 924.2 532.9 925.0 532.6 925.8 532.4 926.6 533.1 927.4 532.1 928.2 531.9 929.0 532.2 929.8 531.0 930.6 531.5 931.4 531.2 932.2 530.6 933.0 530.9 933.9 530.5 934.7 532.9 935.6 530.8 936.4 531.0 937.3 530.6 938.1 531.3 938.9 531.8 939.8 531.4 940.6 530.8 941.5 532.4 942.3 531.6 943.2 532.3 944.0 531.9 944.8 532.2 945.6 532.3 946.4 531.6 947.2 533.2 948.0 533.7 948.9 533.5 949.7 534.0 950.5 533.8 951.3 533.8 952.1 533.1 952.9 532.9 953.7 533.3 954.5 532.8 955.3 533.7 956.1 532.7 956.9 533.8 957.7 532.3 958.5 533.2 959.4 533.5 960.2 533.6 961.0 534.3 961.8 533.9 962.6 534.9 963.4 533.8 964.1 534.9 964.8 533.7 965.5 533.2 966.2 532.6 966.9 531.6 967.6 532.4 968.3 530.9 969.0 530.9 969.7 529.6 970.4 529.2 971.1 529.2 971.8 529.2 972.5 528.2 973.2 528.6 973.9 527.7 974.5 527.4 975.2 526.0 975.8 525.1 976.5 524.7 977.1 524.8 977.8 524.3 978.4 524.2 979.1 522.8 979.7 523.2 980.4 522.4 981.0 522.0 981.7 520.9 982.3 521.3 983.0 520.5 983.5 519.5 984.1 518.0 984.6 518.3 985.1 518.2 985.7 517.2 986.2 517.3 986.8 516.0 987.3 514.6 987.8 512.8 988.4 513.7 988.9 513.6 989.5 512.6 990.0 511.6 990.5 510.2 991.1 511.0 991.6 509.1 992.1 509.3 992.7 508.8 993.2 508.4 993.8 506.5 994.3 506.1 994.8 506.9 995.4 505.8 995.9 504.7 996.4 505.6 997.0 504.0 997.5 503.6 998.0 501.9 998.6 502.4 999.1 500.9 999.7 500.4 1000.2 500.0 1000.7 499.0 1001.3 497.3 1001.8 498.3 1002.4 498.2 1002.9 498.0 1003.4 496.7 1004.0 496.6 1004.5 494.8 1005.3 495.3 1006.2 495.4 1007.0 495.0 1007.8 495.1 1008.6 495.9 1009.5 494.7 1010.3 495.5 1011.1 495.7 1011.9 495.7 1012.8 495.3 1013.6 495.9 1014.4 496.0 1015.2 495.4 1016.1 496.6 1016.9 495.7 1017.7 496.8 1018.6 496.6 1019.4 496.5 1020.2 497.2 1021.0 495.8 1021.9 497.0 1022.7 496.4 1023.5 496.5 1024.3 496.2 1025.2 497.2 1026.0 497.2 1026.6 496.0 1027.3 496.0 1027.9 496.1 1028.6 495.0 1029.2 493.4 1029.9 493.2 1030.5 493.5 1031.2 492.1 1031.8 493.0 1032.6 493.1 1033.4 492.1 1034.2 492.6 1035.1 492.6 1035.9 492.1 1036.7 492.1 1037.5 491.8 1038.3 492.0 1039.1 490.3 1040.0 490.5 1040.8 491.3 1041.6 491.4 1042.3 491.4 1043.1 492.3 1043.8 492.5 1044.6 493.2 1045.3 492.8 1046.1 492.6 1046.8 493.2 1047.6 493.4 1048.3 494.5 1049.1 493.1 1049.8 495.0 1050.6 494.6 1051.3 496.3 1052.1 496.1 1052.9 496.4 1053.7 495.9 1054.5 496.5 1055.3 497.2 1056.2 496.1 1057.0 497.1 1057.8 496.9 1058.6 495.7 1059.4 495.7 1060.2 496.7 1061.0 497.0 1061.8 497.3 1062.6 496.4 1063.4 497.1 1064.1 496.9 1064.9 497.6 1065.7 497.9 1066.5 497.5 1067.3 498.3 1068.1 497.4 1068.8 498.2 1069.6 497.6 1070.4 499.3 1071.2 499.3 1072.0 500.2 1072.8 499.2 1073.6 499.7 1074.3 499.8 1075.1 499.3 1075.9 500.1 1076.7 499.9 1077.4 499.5 1078.2 499.0 1078.9 499.7 1079.7 498.5 1080.4 499.2 1081.1 498.2 1081.9 498.6 1082.6 498.2 1083.4 498.1 1084.1 496.7 1084.8 496.3 1085.6 495.7 1086.3 496.8 1087.0 495.7 1087.8 495.9 1088.5 494.2 1089.3 494.0 1090.0 494.1 1090.7 491.6 1091.5 491.9 1092.2 492.6 1093.0 493.4 1093.7 492.9 1094.2 492.3 1094.6 491.2 1095.1 490.9 1095.6 490.1 1096.1 489.7 1096.5 488.8 1097.0 486.9 1097.5 487.1 1098.0 486.6 1098.4 485.5 1098.9 484.9 1099.4 484.4 1099.8 486.1 1100.3 483.1 1100.8 482.6 1101.3 481.9 1101.7 481.9 1102.2 481.1 1102.7 478.9 1103.1 478.9 1103.6 478.3 1104.1 478.5 1104.6 476.2 1105.0 476.5 1105.5 474.4 1106.0 471.3 1106.5 473.6 1106.9 472.7 1107.4 471.9 1107.9 472.4 1108.4 470.8 1108.9 471.2 1109.4 470.3 1109.9 470.5 1110.4 470.2 1110.9 469.5 1111.4 466.6 1111.9 467.9 1112.4 466.0 1112.9 465.1 1113.4 464.9 1113.9 465.0 1114.5 463.5 1115.0 463.7 1115.5 462.4 1116.0 462.3 1116.5 461.3 1117.0 460.2 1117.5 459.4 1118.0 460.0 1118.5 459.4 1119.0 457.5 1119.5 458.1 1120.0 456.7 1120.5 455.9 1121.0 455.9 1121.6 453.8 1122.2 456.0 1122.8 454.3 1123.4 455.8 1124.0 451.8 1124.6 451.5 1125.2 450.4 1125.8 451.2 1126.4 451.2 1127.0 450.8 1127.6 447.8 1128.2 448.9 1128.8 449.4 1129.5 449.3 1130.1 448.9 1130.7 448.2 1131.3 447.7 1131.9 446.7 1132.5 445.5 1133.1 442.5 1133.7 443.9 1134.3 444.0 1134.9 443.9 1135.5 443.2 1136.1 442.3 1136.7 441.3 1137.1 440.7 1137.6 440.3 1138.0 439.9 1138.5 439.6 1138.9 438.6 1139.4 437.5 1139.8 437.2 1140.3 436.7 1140.7 436.1 1141.2 435.5 1141.6 434.9 1142.0 433.8 1142.5 433.0 1142.9 431.9 1143.4 431.2 1143.8 430.5 1144.3 431.2 1144.7 429.5 1145.2 430.0 1145.6 429.3 1146.1 429.4 1146.5 427.4 1147.0 427.2 1147.4 426.2 1147.8 425.8 1148.3 424.7 1148.7 424.4 1149.2 422.7 1149.6 422.2 1150.1 421.9 1150.5 421.0 1151.0 420.7 1151.4 420.3 1151.9 420.5 1152.3 419.5 1152.9 418.6 1153.4 418.5 1154.0 417.1 1154.6 416.0 1155.1 416.6 1155.7 415.2 1156.3 415.2 1156.8 415.1 1157.4 414.2 1158.0 413.2 1158.5 412.9 1159.1 411.6 1159.7 410.1 1160.2 407.8 1160.8 409.7 1161.4 408.5 1162.0 408.2 1162.5 407.5 1163.1 406.9 1163.7 406.2 1164.2 405.8 1164.8 406.0 1165.4 405.8 1165.9 405.2 1166.5 402.3 1167.1 404.1 1167.6 403.4 1168.2 402.3 1168.8 401.3 1169.3 400.9 1169.9 401.6 1170.6 400.7 1171.3 400.4 1172.1 398.8 1172.8 398.6 1173.5 399.0 1174.2 399.2 1175.0 398.4 1175.7 397.8 1176.4 397.1 1177.1 396.3 1177.8 396.9 1178.6 396.6 1179.3 395.7 1180.0 395.5 1180.7 395.4 1181.5 394.0 1182.2 395.6 1182.9 394.1 1183.6 393.5 1184.3 393.4 1185.1 394.2 1185.8 393.9 1186.5 392.2 1187.2 392.6 1188.0 391.6 1188.7 391.4 1189.4 391.3 1190.2 390.3 1191.0 390.5 1191.7 389.9 1192.5 391.1 1193.3 390.3 1194.1 388.9 1194.9 388.3 1195.6 388.3 1196.4 388.1 1197.2 388.2 1198.0 386.6 1198.8 387.8 1199.5 387.2 1200.3 387.7 1201.1 387.6 1201.9 387.3 1202.7 387.2 1203.4 386.7 1204.2 386.2 1205.0 386.5 1205.8 386.3 1206.6 385.3 1207.4 385.0 1208.2 384.8 1209.0 386.3 1209.8 386.0 1210.6 385.1 1211.4 385.6 1212.3 385.5 1213.1 386.0 1213.9 385.9 1214.7 385.3 1215.5 384.3 1216.3 384.7 1217.1 384.2 1217.9 385.4 1218.7 384.7 1219.5 385.9 1220.3 385.7 1221.1 386.3 1222.0 385.7 1222.8 386.2 1223.6 385.3 1224.4 386.0 1225.2 387.1 1226.0 385.5 1226.8 386.4 1227.7 386.6 1228.5 387.1 1229.3 385.2 1230.1 386.1 1230.9 385.7 1231.7 386.7 1232.5 386.8 1233.4 386.0 1234.2 386.0 1235.0 386.1 1235.8 386.5 1236.6 386.9 1237.4 387.3 1238.2 386.7 1239.1 386.8 1239.9 386.8 1240.7 387.2 1241.5 387.7 1242.3 386.6 1243.1 387.6 1243.9 386.8 1244.8 386.7 1245.6 386.2 1246.4 386.8 1247.2 387.4 1248.0 386.9 1248.8 387.2 1249.6 386.4 1250.5 386.4 1251.3 386.8 1252.1 387.3 1252.9 387.2 1253.7 386.9 1254.5 386.9 1255.3 387.1 1256.1 388.0 1257.0 387.2 1257.8 387.6 1258.6 387.9 1259.4 387.3 1260.2 387.1 1261.0 386.1 1261.8 387.1 1262.7 387.1 1263.5 387.0 1264.3 385.9 1265.1 385.5 1265.9 385.3 1266.7 385.1 1267.5 387.5 1268.4 386.1 1269.2 385.7 1270.0 385.8 1270.8 385.6 1271.6 386.8 1272.4 385.2 1273.2 386.7 1274.0 385.9 1274.9 385.6 1275.7 386.7 1276.5 386.0 1277.3 386.0 1278.1 385.8 1278.9 386.1 1279.7 385.4 1280.6 385.3 1281.4 385.6 1282.2 385.4 1283.0 386.0 1283.8 385.8 1284.6 386.2 1285.4 386.0 1286.3 384.4 1287.1 386.7 1287.9 385.9 1288.7 386.8 1289.5 386.1 1290.3 387.0 1291.1 388.1 1292.0 388.4 1292.8 388.1 1293.6 387.8 1294.4 388.3 1295.2 388.4 1296.0 386.3 1296.8 387.8 1297.7 387.3 1298.5 387.8 1299.3 387.7 1300.1 387.5 1300.9 387.4 1301.7 386.7 1302.6 386.4 1303.4 386.9 1304.2 387.9 1305.0 387.8 1305.8 387.4 1306.6 388.7 1307.4 388.7 1308.3 388.0 1309.1 388.2 1309.9 389.3 1310.7 389.5 1311.5 388.3 1312.3 388.0 1313.1 387.2 1314.0 388.0 1314.8 387.9 1315.6 388.4 1316.4 387.9 1317.2 388.2 1318.0 387.5 1318.8 388.2 1319.7 388.8 1320.5 389.1 1321.3 388.7 1322.1 388.1 1322.9 389.8 1323.7 388.7 1324.5 389.2 1325.3 389.3 1326.2 388.4 1327.0 388.1 1327.8 387.7 1328.6 388.1 1329.4 387.1 1330.2 387.0 1331.0 388.0 1331.8 386.5 1332.7 388.0 1333.5 387.6 1334.3 387.8 1335.1 387.5 1335.9 388.0 1336.7 388.2 1337.5 387.8 1338.3 387.6 1339.2 387.5 1340.0 388.6 1340.8 386.6 1341.6 387.6 1342.4 387.0 1343.2 387.0 1344.0 386.7 1344.8 387.7 1345.7 386.0 1346.5 387.2 1347.3 386.1 1348.1 387.2 1348.9 387.5 1349.7 386.7 1350.5 386.9 1351.3 386.8 1352.2 387.2 1353.0 387.2 1353.8 387.5 1354.6 385.6 1355.4 387.3 1356.2 387.9 1357.0 386.7 1357.8 389.2 1358.6 386.6 1359.5 387.3 1360.3 387.0 1361.1 387.8 1361.9 387.1 1362.7 387.9 1363.5 388.2 1364.3 388.4 1365.1 387.1 1365.9 389.0 1366.8 387.4 1367.6 388.3 1368.4 388.1 1369.2 386.7 1370.0 386.8 1370.8 387.3 1371.6 387.8 1372.4 387.9 1373.2 388.7 1374.1 388.0 1374.9 389.0 1375.7 389.4 1376.5 389.1 1377.3 388.8 1378.1 388.8 1378.9 389.1 1379.7 389.6 1380.6 388.4 1381.4 388.7 1382.2 387.8 1383.0 389.0 1383.8 388.8 1384.6 387.9 1385.4 388.8 1386.2 389.1 1387.0 388.7 1387.9 389.0 1388.7 388.9 1389.5 388.7 1390.3 388.6 1391.1 389.2 1391.9 388.9 1392.7 389.0 1393.5 387.6 1394.3 389.1 1395.2 389.7 1396.0 390.0 1396.8 390.4 1397.6 390.6 1398.4 388.3 1399.2 390.9 1400.0 390.1 1400.7 390.4 1401.5 391.7 1402.3 390.6 1403.1 391.3 1403.9 391.3 1404.6 391.5 1405.4 391.8 1406.2 392.5 1407.0 391.9 1407.8 392.2 1408.5 394.3 1409.3 393.8 1410.1 392.3 1410.9 392.9 1411.7 394.4 1412.4 393.9 1413.2 394.4 1414.0 394.0 1414.7 394.4 1415.5 394.0 1416.2 395.0 1416.9 395.4 1417.6 396.2 1418.4 396.7 1419.1 396.5 1419.8 397.4 1420.5 396.9 1421.3 397.4 1422.0 397.3 1422.7 399.0 1423.4 397.6 1424.2 399.2 1424.9 399.3 1425.6 399.7 1426.3 400.7 1427.1 400.8 1427.8 401.0 1428.5 401.6 1429.2 402.4 1430.0 402.6 1430.7 401.8 1431.4 402.9 1432.1 403.4 1432.9 403.4 1433.6 404.8 1434.3 404.9 1435.0 404.7 1435.8 406.0 1436.5 406.8 1437.2 406.3 1437.9 406.5 1438.6 408.6 1439.3 407.1 1440.1 408.6 1440.8 409.2 1441.5 410.0 1442.2 410.1 1442.9 409.4 1443.7 410.0 1444.4 411.1 1445.1 411.8 1445.8 411.2 1446.5 411.3 1447.3 411.8 1448.0 411.7 1448.7 412.7 1449.4 413.1 1450.1 413.4 1450.8 414.2 1451.6 414.3 1452.3 415.3 1453.0 416.0 1453.7 414.9 1454.4 415.1 1455.1 416.6 1455.8 416.0 1456.5 415.7 1457.2 416.5 1457.9 416.5 1458.6 417.0 1459.2 418.0 1459.9 418.4 1460.6 420.1 1461.3 419.5 1462.0 420.7 1462.7 420.4 1463.4 420.2 1464.1 421.0 1464.8 422.5 1465.5 422.0 1466.3 423.1 1467.0 423.7 1467.8 423.6 1468.5 423.3 1469.3 424.0 1470.0 424.6 1470.8 425.1 1471.5 425.2 1472.3 425.2 1473.0 424.6 1473.8 424.7 1474.5 426.6 1475.3 427.2 1476.0 426.9 1476.8 426.9 1477.5 427.5 1478.3 427.8 1479.0 428.8 1479.8 427.6 1480.5 428.3 1481.3 429.4 1482.0 430.0 1482.8 429.2 1483.5 429.4 1484.3 429.1 1485.0 431.5 1485.8 432.6 1486.6 432.1 1487.3 432.5 1488.1 431.6 1488.8 432.1 1489.6 433.9 1490.4 434.3 1491.3 434.5 1492.1 435.1 1493.0 436.0 1493.8 435.1 1494.7 435.8 1495.5 434.5 1495.8 434.4 1496.0 432.9 1496.3 431.5 1496.5 432.0 1496.8 430.7 1497.1 430.1 1497.3 429.1 1497.6 428.9 1497.8 428.0 1498.1 427.4 1498.4 426.4 1498.6 425.5 1498.9 424.6 1499.1 423.2 1499.4 422.8 1500.0 423.2 1500.6 422.1 1501.2 421.7 1501.8 421.4 1502.4 419.5 1503.0 420.6 1503.6 420.3 1504.2 418.4 1504.8 417.7 1505.4 416.7 1506.0 415.3 1506.6 414.7 1507.2 415.4 1507.8 414.6 1508.4 413.1 1509.0 414.6 1509.6 413.2 1510.2 412.8 1510.8 412.1 1511.4 411.1 1512.0 411.3 1512.6 409.6 1513.2 408.6 1513.8 408.1 1514.4 408.1 1515.0 407.4 1515.8 406.9 1516.6 408.2 1517.3 407.3 1518.1 406.7 1518.9 406.8 1519.7 405.8 1520.5 407.5 1521.2 406.8 1522.0 405.8 1522.8 405.5 1523.0 404.5 1523.1 404.0 1523.3 403.8 1523.4 403.3 1523.6 402.3 1523.7 401.1 1523.9 401.0 1524.0 400.1 1524.2 397.8 1524.4 397.2 1524.5 397.7 1524.7 396.4 1524.8 395.9 1525.0 395.4 1525.1 393.7 1525.3 393.7 1525.5 393.3 1525.6 391.6 1525.8 390.1 1525.9 389.2 1526.1 388.4 1526.2 387.5 1526.4 387.0 1526.5 385.8 1526.7 386.5 1526.7 385.0 1526.8 383.9 1526.8 383.3 1526.8 382.9 1526.9 381.7 1526.9 380.5 1526.9 380.8 1526.9 379.9 1527.0 379.7 1527.0 378.9 1527.0 377.3 1527.1 377.7 1527.1 376.4 1527.1 375.5 1527.2 374.7 1527.2 373.3 1527.2 371.9 1527.3 371.5 1527.3 371.0 1527.3 369.1 1527.3 368.8 1527.4 368.3 1527.4 367.9 1527.4 367.6 1527.5 366.2 1527.5 365.5 1527.5 364.1 1527.6 363.4 1527.6 364.1 1527.6 362.9 1527.7 361.9 1527.7 359.8 1527.7 359.9 1527.8 359.1 1527.8 359.0 1527.8 357.6 1527.8 356.1 1527.9 356.9 1527.9 354.8 1527.9 353.2 1528.0 352.2 1528.0 351.7 1528.0 351.9 1528.1 350.6 1528.1 349.4 1528.1 348.3 1528.2 347.9 1528.2 346.6 1528.2 345.9 1528.2 346.1 1528.3 344.2 1528.3 344.3 1528.3 344.3 1528.4 342.3 1528.4 342.8 1528.4 341.2 1528.5 340.9 1528.5 340.2 1528.5 340.5 1528.6 338.9 1528.6 337.2 1528.6 336.8 1528.6 334.4 1528.7 335.1 1528.7 332.9 1528.7 333.0 1528.8 331.1 1528.8 331.9 1528.8 330.4 1528.9 330.2 1528.9 329.5 1528.9 328.7 1529.0 327.4 1529.0 326.2 1529.0 326.0 1529.1 323.7 1529.1 324.1 1529.1 323.5 1529.1 322.6 1529.2 321.2 1529.2 320.4 1529.2 319.3 1529.3 319.1 1529.3 318.1 1529.3 317.4 1529.4 316.5 1529.4 316.3 1529.4 313.9 1529.5 313.5 1529.5 312.9 1529.5 311.7 1529.5 311.6 1529.6 308.7 1529.6 310.3 1529.6 308.9 1529.7 308.7 1529.7 308.6 1529.7 307.1 1529.8 306.4 1529.8 303.5 1529.8 305.1 1529.9 303.9 1529.9 302.8 1529.9 303.0 1530.0 300.5 1530.0 300.6 1530.0 300.1 1530.0 299.1 1530.1 299.0 1530.1 298.8 1530.1 296.8 1530.2 296.4 1530.2 295.2 1530.2 294.3 1530.3 292.8 1530.3 292.3 1530.3 290.9 1530.4 290.3 1530.4 291.0 1530.4 289.9 1530.5 288.1 1530.5 288.6 1530.5 287.3 1530.6 286.8 1530.6 286.0 1530.6 283.9 1530.7 283.3 1530.7 283.7 1530.7 281.8 1530.7 281.0 1530.8 280.7 1530.8 279.3 1530.8 279.7 1530.9 278.6 1530.9 277.1 1530.9 277.4 1531.0 276.8 1531.0 275.9 1531.0 274.9 1531.1 273.4 1531.1 272.9 1531.1 270.2 1531.2 270.6 1531.2 270.1 1531.2 268.8 1531.3 269.1 1531.3 267.4 1531.3 267.4 1531.3 266.7 1531.4 265.4 1531.4 264.6 1531.4 263.7 1531.5 262.7 1531.5 261.8 1531.5 260.0 1531.6 260.7 1531.6 258.2 1531.7 258.4 1531.9 257.4 1532.0 256.6 1532.1 256.7 1532.3 256.0 1532.4 254.4 1532.5 254.2 1532.7 252.8 1532.8 252.2 1532.9 251.3 1533.0 250.1 1533.2 249.3 1533.3 249.0 1533.4 247.6 1533.6 247.3 1533.7 245.7 1533.8 246.3 1534.0 244.6 1534.1 244.2 1534.2 242.1 1534.4 242.2 1534.5 240.8 1534.7 239.5 1534.9 239.9 1535.1 238.6 1535.3 237.7 1535.5 237.0 1535.7 237.1 1535.9 235.2 1536.1 236.1 1536.3 233.9 1536.5 233.4 1536.7 234.0 1536.9 233.1 1537.1 231.8 1537.3 231.3 1537.5 232.3 1537.6 230.1 1537.7 228.7 1537.8 228.4 1537.9 227.4 1538.0 226.5 1538.0 226.3 1538.1 224.4 1538.2 223.3 1538.3 223.6 1538.4 222.3 1538.5 221.0 1538.6 220.7 1538.7 221.5 1538.8 220.2 1538.9 218.9 1539.0 218.4 1539.0 216.6 1539.1 216.1 1539.2 215.6 1539.3 214.1 1539.4 213.1 1539.5 213.5 1539.6 210.8 1539.7 210.3 1539.8 210.0 1539.9 209.0 1539.9 208.6 1540.0 206.7 1540.1 206.8 1540.2 206.0 1540.3 205.4 1540.4 204.5 1540.6 205.3 1540.8 207.9 1541.1 206.7 1541.3 207.1 1541.5 208.1 1541.7 208.9 1541.9 210.0 1542.1 210.5 1542.4 211.4 1542.6 212.1 1542.8 212.9 1543.0 214.2 1543.2 213.4 1543.5 216.3 1543.7 216.7 1543.9 216.5 1544.1 217.8 1544.3 218.1 1544.6 219.4 1544.8 219.9 1545.0 220.6 1545.2 222.2 1545.4 222.0 1545.6 223.1 1545.9 223.9 1546.1 225.3 1546.3 227.2 1546.8 225.7 1547.3 224.6 1547.8 223.3 1548.2 223.0 1548.7 222.0 1549.2 222.2 1549.7 221.5 1550.2 219.7 1550.9 218.6 1551.5 219.3 1552.2 218.1 1552.8 217.4 1553.5 218.5 1554.1 218.6 1554.8 216.1 1555.4 217.5 1556.1 216.8 1556.7 216.0 1557.4 216.2 1558.0 216.1 1558.7 214.9 1559.3 214.4 1560.0 212.1 1560.5 212.9 1561.0 212.1 1561.5 212.0 1562.0 210.4 1562.4 208.8 1562.9 209.9 1563.4 207.3 1563.9 208.5 1564.4 207.2 1564.9 204.8 1565.4 203.7 1565.8 204.1 1566.3 203.4 1566.8 202.2 1567.3 201.5 1567.8 202.0 1568.3 201.7 1568.8 199.4 1569.3 200.1 1569.8 199.7 1570.2 196.8 1570.7 198.2 1571.2 195.3 1571.7 192.6 1572.0 194.8 1572.3 196.0 1572.6 194.3 1572.9 194.2 1573.2 191.7 1573.5 192.1 1573.8 192.4 1574.1 191.4 1574.4 190.5 1574.7 189.8 1575.0 188.7 1575.3 187.9 1575.6 186.3 1576.4 187.9 1577.2 186.5 1578.0 188.1 1578.8 187.4 1579.6 188.9 1580.4 188.3 1580.6 188.1 1580.8 187.4 1581.0 188.1 1581.2 186.6 1581.4 184.7 1581.6 185.2 1581.8 185.6 1582.0 183.4 1582.2 182.9 1582.4 182.3 1582.6 179.8 1582.8 178.6 1583.0 178.4 1583.2 176.4 1583.4 176.0 1583.9 177.3 1584.3 177.1 1584.8 175.4 1585.2 176.0 1585.7 174.3 1586.2 174.9 1586.6 170.2 1587.1 171.4 1587.5 170.3 1588.0 169.8 1588.4 170.8 1588.9 169.5 1589.4 168.4 1589.8 166.8 1590.3 167.0 1590.7 164.9 1591.2 165.3 1591.7 164.4 1592.1 163.5 1592.6 163.1 1593.0 161.9 1593.5 160.8 1594.0 160.8 1594.4 160.1 1594.9 160.1 1595.3 157.9 1595.8 160.1 1596.2 159.1 1596.7 156.6 1597.2 157.4 1597.6 156.9 1598.1 155.9 1598.5 155.2 1599.0 153.5 1599.3 153.5 1599.5 154.1 1599.8 153.0 1600.1 150.6 1600.3 152.2 1600.6 150.4 1600.9 147.3 1601.1 146.3 1601.4 147.3 1601.7 145.7 1601.9 145.3 1602.2 145.0 1602.5 144.9 1602.7 144.0 1603.0 143.4 1603.4 140.1 1603.8 140.1 1604.2 139.2 1604.7 139.3 1605.1 139.0 1605.5 138.7 1605.9 136.6 1606.3 137.2 1606.7 136.6 1607.1 134.6 1607.6 134.0 1608.0 134.9 1608.4 133.0 1608.8 132.3 1609.2 132.1 1609.6 129.9 1610.1 129.5 1610.5 130.5 1610.9 127.7 1611.3 126.2 1611.8 126.1 1612.2 126.2 1612.6 127.5 1613.0 124.7 1613.4 123.2 1613.9 123.3 1614.3 122.8 1614.7 123.2 1615.1 119.8 1615.5 121.8 1616.0 121.2 1616.4 119.4 1616.8 118.6 1617.2 120.0 1617.7 117.3 1618.1 116.6 1618.5 116.2 1619.0 115.0 1619.4 116.9 1619.9 114.6 1620.3 112.8 1620.8 113.6 1621.3 113.0 1621.7 112.5 1622.2 110.8 1622.6 111.3 1623.1 111.2 1623.5 108.9 1624.0 108.8 1624.5 107.9 1624.9 105.5 1625.4 107.5 1625.8 104.6 1626.3 106.7 1626.8 104.9 1627.4 104.8 1627.9 103.1 1628.4 101.5 1628.9 101.9 1629.5 101.8 1630.0 100.9 1630.5 98.6 1631.0 99.4 1631.6 98.6 1632.1 99.3 1632.6 98.0 1633.1 96.5 1633.7 96.0 1634.2 96.8 1634.7 96.1 1635.3 94.6 1635.8 94.7 1636.3 94.6 1636.8 94.1 1637.4 93.4 1637.9 91.8 1638.4 90.7 1638.9 88.8 1639.5 90.2 1640.0 89.9 1640.8 88.9 1641.5 87.5 1642.3 87.0 1643.0 86.5 1643.8 86.0 1644.5 85.8 1645.3 83.9 1646.0 84.1 1646.8 84.2 1647.5 84.9 1648.3 84.9 1649.0 83.2 1649.8 82.9 1650.6 84.4 1651.4 84.0 1652.2 85.9 1653.0 83.4 1653.8 85.2 1654.7 85.7 1655.5 85.2 1656.3 84.5 1657.1 85.1 1657.9 85.3 1658.7 84.7 1659.5 85.3 1660.3 86.0 1661.1 84.4 1662.0 85.7 1662.8 85.4 1663.6 86.7 1664.4 84.4 1665.2 87.2 1666.0 87.7 1666.8 88.8 1667.7 87.6 1668.5 87.8 1669.3 88.0 1670.0 86.5 1670.7 88.3 1671.4 88.5 1672.1 88.6 1672.8 90.4 1673.5 91.3 1674.2 92.5 1674.8 92.4 1675.5 92.4 1676.2 93.9 1676.9 92.3 1677.6 93.8 1678.3 94.0 1679.0 94.0 1679.5 96.6 1679.9 97.0 1680.4 96.0 1680.9 97.4 1681.3 98.1 1681.8 99.9 1682.3 101.4 1682.7 100.8 1683.2 100.6 1683.7 101.8 1684.1 102.5 1684.6 103.4 1685.1 102.4 1685.5 103.8 1686.0 104.8 1686.5 103.3 1686.9 104.9 1687.4 106.2 1687.9 108.2 1688.3 108.2 1688.8 109.1 1689.5 109.9 1690.1 110.1 1690.8 109.1 1691.4 110.5 1692.1 112.0 1692.8 114.8 1693.4 113.6 1694.1 114.0 1694.7 114.1 1695.4 113.3 1696.0 114.1 1696.7 114.9 1697.2 115.7 1697.7 115.8 1698.2 117.6 1698.6 116.0 1699.1 115.8 1699.6 117.4 1700.1 119.2 1700.6 120.6 1701.1 119.9 1701.5 120.4 1702.0 122.0 1702.5 122.0 1703.0 123.1 1703.5 123.9 1704.0 125.3 1704.4 125.0 1704.9 126.7 1705.4 126.7 1705.5 126.6 1705.6 125.5 1705.7 124.4 1705.7 122.9 1705.8 123.1 1705.9 123.5 1706.0 124.7 1706.1 118.9 1706.2 120.1 1706.3 117.6 1706.3 117.0 1706.4 117.1 1706.5 116.2 1706.6 115.3 1706.7 113.8 1706.8 114.1 1706.9 111.4 1706.9 111.4 1707.0 110.8 1707.1 110.1 1707.2 110.3 1707.3 106.7 1707.4 106.1 1707.5 104.6 1707.5 107.2 1707.6 105.3 1707.7 103.6 1707.8 103.5 1707.9 101.8 1708.0 101.6 1708.1 100.5 1708.1 100.7 1708.2 99.2 1708.3 100.6 1708.4 98.6 1708.8 99.8 1709.1 100.3 1709.5 100.0 1709.9 100.7 1710.3 100.5 1710.6 101.1 1711.0 101.5 1711.4 104.4 1711.8 105.1 1712.1 106.5 1712.5 105.6 1712.9 107.7 1713.3 108.6 1713.6 109.3 1714.0 108.9 1714.4 109.8 1714.8 109.7 1715.1 110.7 1715.5 111.1 1715.9 112.5 1716.3 113.0 1716.6 113.9 1717.0 115.5 1717.4 115.1 1717.8 117.0 1718.1 116.9 1718.5 116.7 1718.9 118.8 1719.3 119.3 1719.6 119.7 1720.0 121.0 1720.5 121.7 1721.0 121.4 1721.6 122.9 1722.1 123.5 1722.6 123.9 1723.1 123.7 1723.6 124.0 1724.2 125.4 1724.7 125.1 1725.2 125.4 1725.7 127.2 1726.3 128.3 1726.8 127.9 1727.3 129.1 1727.8 128.9 1728.3 129.6 1728.9 129.8 1729.4 131.4 1729.9 132.1 1730.3 132.0 1730.8 132.8 1731.2 133.3 1731.7 133.8 1732.1 135.1 1732.5 134.8 1733.0 135.4 1733.4 135.4 1733.9 138.2 1734.3 139.4 1734.8 140.0 1735.2 141.7 1735.6 141.4 1736.1 142.3 1736.5 141.7 1737.0 143.8 1737.4 143.8 1737.8 145.6 1738.3 146.0 1738.7 145.7 1739.2 146.8 1739.6 147.7 1740.0 147.9 1740.5 148.5 1740.9 150.1 1741.4 151.1 1741.8 151.3 1742.3 152.5 1742.8 153.8 1743.2 153.3 1743.6 154.1 1744.1 153.4 1744.5 157.2 1745.0 156.1 1745.4 156.5 1745.9 158.7 1746.3 157.8 1746.8 159.7 1747.2 159.7 1747.7 160.0 1748.1 161.8 1748.6 161.8 1749.0 162.5 1749.5 164.9 1750.0 163.5 1750.4 164.6 1750.8 164.0 1751.3 165.1 1752.0 165.6 1752.6 167.2 1753.3 167.4 1753.9 168.7 1754.6 168.8 1755.2 169.0 1755.9 169.2 1756.5 170.0 1757.2 170.2 1757.8 170.3 1758.5 170.4 1759.1 172.2 1759.8 174.9 1760.4 172.3 1761.1 173.3 1761.6 173.0 1762.0 173.6 1762.5 175.3 1763.0 175.5 1763.4 175.4 1763.9 176.0 1764.4 177.9 1764.8 178.9 1765.3 178.4 1765.8 179.0 1766.2 179.0 1766.7 181.6 1767.2 181.7 1767.6 181.3 1768.1 183.0 1768.6 182.7 1769.0 183.6 1769.5 185.1 1770.0 185.0 1770.4 186.1 1770.9 186.3 1771.4 187.2 1772.0 187.7 1772.5 189.4 1773.1 189.7 1773.6 190.1 1774.1 191.1 1774.7 191.8 1775.2 192.4 1775.8 192.9 1776.3 192.9 1776.8 194.7 1777.4 194.5 1777.9 196.5 1778.4 197.3 1779.0 197.8 1779.5 197.0 1780.1 195.9 1780.6 199.7 1781.3 198.5 1782.0 199.2 1782.8 199.4 1783.5 200.3 1784.2 200.8 1784.9 201.5 1785.6 202.2 1786.4 201.3 1787.1 202.9 1787.8 203.0 1788.5 203.5 1789.3 203.3 1790.0 204.5 1790.7 205.2 1791.4 204.4 1792.1 204.9 1792.9 205.0 1793.6 204.8 1794.3 206.4 1794.9 206.0 1795.5 206.4 1796.1 207.3 1796.8 209.0 1797.4 210.0 1798.0 206.8 1798.6 209.4 1799.2 210.4 1799.8 210.4 1800.5 211.6 1801.1 213.1 1801.7 212.0 1802.3 212.5 1802.9 214.3 1803.5 214.7 1804.2 215.7 1804.8 215.4 1805.4 216.4 1806.0 216.7 1806.6 216.7 1807.2 217.2 1807.7 216.9 1808.3 217.8 1808.9 218.9 1809.5 218.7 1810.0 220.2 1810.6 220.9 1811.2 222.0 1811.8 221.8 1812.3 221.5 1812.9 223.0 1813.5 222.6 1814.1 224.4 1814.6 224.7 1815.2 225.9 1815.8 226.0 1816.5 227.5 1817.1 227.2 1817.8 228.5 1818.4 229.0 1819.1 228.9 1819.7 230.6 1820.4 231.5 1821.0 232.1 1821.7 231.3 1822.3 231.7 1823.0 231.5 1823.6 232.8 1824.3 231.8 1824.9 232.4 1825.6 234.0 1826.4 234.8 1827.2 233.8 1828.0 234.4 1828.8 233.8 1829.6 235.5 1830.4 235.8 1831.2 235.5 1832.0 235.4 1832.8 236.0 1833.6 235.5 1834.4 236.4 1835.2 236.2 1836.0 237.0 1836.8 237.9 1837.6 236.5 1838.4 237.6 1839.2 237.4 1840.0 238.7 1840.8 237.4 1841.6 238.5 1842.4 239.2 1843.2 239.4 1844.0 239.0 1844.8 239.1 1845.6 239.3 1846.5 239.5 1847.3 241.3 1848.1 240.6 1848.9 241.0 1849.7 240.5 1850.5 240.5 1851.3 240.3 1852.1 242.0 1852.9 241.7" stroke="#e8553c" stroke-width="4"/>
<path d="M313.6 642.0L314.0 639.9 314.3 640.8 314.7 640.1 315.1 642.3 315.4 639.2 315.8 638.2 316.2 635.1 316.6 636.4 316.9 639.4 317.3 637.8 317.7 637.2 318.0 639.1 318.4 639.5 318.8 638.7 319.1 638.1 319.5 634.5 319.9 634.1 320.2 635.4 320.6 638.0 321.0 636.9 321.4 637.5 321.7 639.2 322.1 638.1 322.5 641.9 322.8 639.1 323.2 644.6 323.6 639.3 324.0 642.6 324.3 640.5 324.7 641.1 325.1 643.1 325.4 642.1 325.8 641.3 326.2 641.3 326.6 641.1 326.9 639.9 327.3 644.3 327.8 643.3 328.2 641.4 328.7 640.2 329.1 639.0 329.6 642.5 330.0 642.2 330.4 637.6 330.9 639.3 331.4 638.8 331.8 638.0 332.2 638.3 332.7 641.5 333.1 637.8 333.6 639.3 334.1 638.6 334.5 636.1 334.9 638.8 335.4 639.2 335.9 639.6 336.3 637.3 336.8 637.8 337.2 641.6 337.6 640.4 338.1 640.5 338.6 643.7 339.0 637.5 339.4 641.4 339.9 637.1 340.3 642.3 340.8 639.7 341.2 640.0 341.6 637.9 342.1 642.9 342.5 639.4 343.0 641.2 343.4 642.0 343.8 638.9 344.3 638.0 344.7 642.6 345.2 642.6 345.6 635.5 346.0 642.2 346.5 641.9 346.9 643.3 347.4 643.6 347.8 642.9 348.2 641.3 348.7 642.0 349.1 641.2 349.6 643.0 350.0 641.8 350.4 644.1 350.9 643.9 351.3 643.0 351.8 641.5 352.2 642.3 352.6 646.5 353.1 644.1 353.5 643.7 354.0 642.5 354.4 646.1 354.8 643.3 355.3 646.7 355.7 642.1 356.2 647.3 356.6 643.1 357.1 642.4 357.5 645.8 358.0 643.6 358.4 646.5 358.9 646.8 359.3 643.4 359.8 644.2 360.2 645.2 360.7 645.2 361.1 646.0 361.6 646.4 362.0 643.0 362.5 644.3 363.0 643.5 363.4 646.6 363.9 644.2 364.3 644.3 364.8 644.6 365.2 648.1 365.7 647.2 366.1 648.6 366.6 649.9 367.0 647.2 367.5 647.0 367.9 643.4 368.4 642.9 368.8 643.6 369.3 649.8 369.8 649.0 370.2 644.4 370.7 648.4 371.1 646.3 371.6 643.7 372.0 645.5 372.5 649.9 372.9 644.8 373.4 647.9 373.8 649.3 374.3 647.1 374.7 646.5 375.2 651.6 375.6 648.7 376.1 646.8 376.6 644.3 377.0 646.6 377.5 645.6 377.9 648.8 378.4 640.0 378.8 644.7 379.3 641.4 379.7 643.9 380.2 647.0 380.6 647.0 381.1 647.5 381.5 645.3 382.0 646.0 382.4 645.5 382.9 646.9 383.3 647.4 383.8 648.3 384.2 650.2 384.6 646.6 385.1 645.8 385.5 648.5 386.0 645.0 386.4 642.9 386.8 641.7 387.3 645.1 387.7 642.8 388.2 645.0 388.6 643.4 389.0 645.6 389.5 644.5 389.9 645.3 390.4 642.6 390.8 643.3 391.2 640.0 391.7 642.9 392.1 642.7 392.6 646.1 393.0 645.7 393.4 642.2 393.9 646.0 394.3 643.7 394.8 647.1 395.2 643.4 395.6 646.6 396.1 647.9 396.5 641.4 397.0 642.0 397.4 642.3 397.8 644.0 398.3 641.1 398.7 644.0 399.2 642.6 399.6 641.4 400.1 640.5 400.5 643.6 401.0 641.4 401.4 640.6 401.9 642.1 402.4 644.1 402.8 639.0 403.3 640.3 403.7 642.0 404.2 638.1 404.6 641.3 405.1 638.2 405.6 642.2 406.0 642.5 406.5 639.2 406.9 642.6 407.4 643.8 407.9 638.1 408.3 638.8 408.8 640.6 409.2 640.6 409.7 639.1 410.2 640.2 410.6 641.1 411.1 639.9 411.5 641.2 412.0 641.0 412.4 639.1 412.9 637.0 413.4 637.4 413.8 639.4 414.3 636.7 414.7 638.1 415.2 640.7 415.7 637.5 416.1 641.1 416.6 639.5 417.0 640.6 417.5 638.6 418.0 641.7 418.4 638.8 418.9 639.0 419.3 637.4 419.8 637.7 420.2 638.5 420.7 637.9 421.2 642.3 421.6 640.3 422.1 643.8 422.5 641.2 423.0 643.4 423.5 639.2 423.9 640.5 424.4 643.7 424.8 641.8 425.3 643.0 425.8 636.3 426.2 644.4 426.7 642.5 427.1 644.4 427.6 644.4 428.0 644.5 428.5 644.3 429.0 641.8 429.4 640.6 429.9 641.1 430.3 642.7 430.8 641.1 431.2 639.9 431.7 641.9 432.1 641.4 432.5 641.1 433.0 640.8 433.4 639.8 433.8 641.4 434.3 640.9 434.7 643.7 435.1 644.0 435.5 643.6 436.0 639.7 436.4 643.6 436.8 643.4 437.3 638.3 437.7 643.0 438.1 639.9 438.6 639.6 439.0 641.6 439.4 638.5 439.9 638.7 440.3 642.0 440.7 639.1 441.2 639.8 441.6 638.9 442.0 638.3 442.5 638.9 442.9 640.7 443.3 640.5 443.8 636.3 444.2 638.7 444.6 637.8 445.0 638.5 445.5 635.7 445.9 635.1 446.3 636.3 446.8 638.2 447.2 634.9 447.6 637.8 448.1 641.0 448.5 638.2 448.9 639.0 449.4 638.8 449.8 636.2 450.2 634.2 450.7 637.6 451.1 637.6 451.5 637.5 452.0 637.0 452.4 636.3 452.8 635.0 453.3 632.2 453.7 635.1 454.1 633.0 454.5 632.0 455.0 632.8 455.4 634.2 455.8 635.1 456.3 634.0 456.7 635.0 457.1 635.2 457.6 633.6 458.0 637.6 458.5 636.2 458.9 635.9 459.4 636.1 459.8 633.6 460.3 633.7 460.7 632.2 461.2 633.5 461.7 634.2 462.1 632.6 462.6 634.8 463.0 633.2 463.5 633.9 464.0 634.5 464.4 632.1 464.9 635.4 465.3 637.2 465.8 636.9 466.2 635.6 466.7 630.0 467.2 631.9 467.6 633.8 468.1 632.6 468.5 633.7 469.0 632.2 469.5 631.7 469.9 634.7 470.4 632.8 470.8 636.2 471.3 634.7 471.7 634.6 472.2 633.1 472.7 630.8 473.1 631.5 473.6 634.4 474.0 632.9 474.5 631.6 475.0 632.3 475.4 634.8 475.9 634.3 476.3 631.1 476.8 632.3 477.2 632.5 477.7 636.2 478.2 635.2 478.6 634.8 479.1 637.9 479.6 631.8 480.0 634.9 480.5 631.5 481.0 634.2 481.4 635.0 481.9 635.7 482.4 633.8 482.8 632.4 483.3 635.1 483.8 631.0 484.3 631.7 484.7 629.8 485.2 631.5 485.7 633.7 486.1 635.3 486.6 634.7 487.1 630.7 487.5 634.5 488.0 630.9 488.5 631.2 488.9 632.6 489.4 631.3 489.8 630.7 490.2 633.4 490.6 629.6 490.9 627.3 491.3 628.2 491.7 628.7 492.1 627.0 492.5 632.2 492.9 633.7 493.2 629.6 493.6 629.8 494.0 631.5 494.4 629.1 494.8 629.5 495.2 632.1 495.5 631.6 495.9 628.3 496.3 630.4 496.7 630.8 497.1 629.8 497.5 636.7 497.8 627.8 498.2 626.9 498.6 628.9 499.0 627.2 499.4 629.5 499.7 627.9 500.1 629.0 500.4 629.3 500.8 626.7 501.1 626.9 501.5 626.9 501.9 628.9 502.2 636.6 502.6 630.0 502.9 632.5 503.3 631.9 503.6 629.4 504.0 632.3 504.4 632.1 504.7 630.0 505.1 630.1 505.4 633.5 505.8 632.0 506.1 631.7 506.5 632.5 506.9 630.1 507.2 629.6 507.6 632.5 507.9 633.7 508.3 634.6 508.6 633.0 509.0 635.9 509.4 635.5 509.7 637.9 510.1 634.3 510.5 641.6 510.9 632.7 511.2 634.7 511.6 635.2 512.0 636.1 512.4 635.6 512.7 636.3 513.1 636.1 513.5 637.2 513.9 633.6 514.2 630.3 514.6 631.8 515.0 631.0 515.3 629.0 515.7 629.7 516.1 629.9 516.5 629.3 516.8 630.1 517.2 629.7 517.6 627.7 518.0 628.5 518.3 629.9 518.7 627.3 519.1 629.3 519.6 629.3 520.0 626.7 520.4 625.0 520.9 626.7 521.3 629.4 521.7 629.3 522.2 627.1 522.6 627.8 523.0 631.8 523.5 629.6 523.9 631.1 524.3 628.4 524.8 632.8 525.2 633.0 525.6 630.8 526.1 630.4 526.5 632.3 526.8 631.4 527.1 629.3 527.5 630.9 527.8 633.1 528.1 630.7 528.5 628.0 528.8 627.0 529.1 627.7 529.4 626.7 529.8 624.7 530.1 625.2 530.4 626.5 530.7 626.9 531.0 624.2 531.4 625.7 531.7 628.9 532.0 623.6 532.3 624.0 532.7 623.3 533.0 621.7 533.3 623.2 533.6 626.3 534.0 620.1 534.3 622.1 534.7 624.0 535.2 623.7 535.6 620.2 536.1 625.3 536.5 622.2 537.0 623.3 537.4 624.3 537.8 619.0 538.3 621.2 538.7 622.7 539.2 618.3 539.6 619.2 540.1 622.7 540.5 620.2 540.9 622.2 541.4 623.6 541.8 620.6 542.3 623.4 542.7 622.1 543.1 624.3 543.6 621.6 544.0 620.9 544.5 620.9 544.9 619.8 545.4 616.7 545.8 620.1 546.2 618.4 546.7 620.8 547.1 621.1 547.6 620.9 548.0 618.3 548.5 620.1 548.9 616.2 549.3 617.1 549.8 620.9 550.2 619.1 550.7 620.1 551.1 619.3 551.6 617.0 552.0 617.5 552.5 615.7 552.9 619.9 553.4 618.9 553.8 618.5 554.3 615.1 554.8 619.1 555.2 617.1 555.7 621.3 556.1 618.9 556.6 618.4 557.1 620.0 557.5 620.6 558.0 622.2 558.4 616.4 558.9 620.2 559.4 617.1 559.8 620.1 560.3 620.3 560.8 616.0 561.2 617.0 561.7 616.6 562.1 616.0 562.6 618.3 563.1 618.7 563.5 616.5 564.0 617.2 564.4 618.2 564.9 617.8 565.4 618.3 565.8 620.4 566.3 618.6 566.7 610.7 567.2 615.6 567.7 614.3 568.1 618.5 568.6 615.4 569.0 616.0 569.5 617.6 569.7 619.7 569.9 621.7 570.1 618.4 570.3 617.7 570.5 620.0 570.7 619.8 570.9 620.3 571.1 618.9 571.3 619.4 571.6 621.5 571.8 620.9 572.0 621.8 572.2 622.8 572.4 623.7 572.6 623.2 572.8 625.2 573.0 622.9 573.2 623.8 573.4 624.0 573.8 626.4 574.3 624.4 574.7 623.4 575.1 623.6 575.5 627.0 576.0 627.0 576.4 627.2 576.8 627.3 577.3 625.2 577.7 625.5 578.1 625.8 578.6 623.4 579.0 622.3 579.4 618.8 579.8 627.0 580.3 623.6 580.7 620.8 581.1 623.5 581.6 621.6 582.0 623.1 582.4 625.9 582.8 620.9 583.3 624.0 583.7 624.0 584.1 620.3 584.6 621.4 585.0 623.6 585.4 619.9 585.8 622.6 586.3 617.9 586.7 620.3 587.1 619.8 587.6 621.0 588.0 624.5 588.4 619.2 588.9 622.5 589.3 621.9 589.7 618.1 590.1 618.0 590.6 618.5 591.0 622.9 591.4 622.7 591.9 619.9 592.3 619.9 592.7 620.2 593.1 617.2 593.6 619.7 594.0 617.6 594.4 616.8 594.8 620.8 595.3 620.8 595.7 618.6 596.1 622.5 596.5 613.5 597.0 619.2 597.4 618.9 597.8 618.3 598.3 616.2 598.7 617.6 599.1 618.3 599.5 620.5 600.0 618.2 600.4 616.0 600.8 615.7 601.2 614.8 601.7 614.6 602.1 616.4 602.5 615.2 603.0 616.4 603.4 616.2 603.8 616.3 604.2 614.5 604.7 613.5 605.1 614.5 605.5 616.5 605.9 616.4 606.4 614.2 606.8 614.9 607.2 614.0 607.6 613.3 608.1 606.1 608.5 612.8 608.9 615.6 609.4 614.7 609.8 612.8 610.3 615.5 610.7 612.7 611.2 616.0 611.6 617.3 612.1 614.4 612.5 612.9 613.0 614.0 613.4 616.3 613.9 615.1 614.3 613.2 614.8 615.5 615.2 616.1 615.7 615.1 616.1 614.9 616.6 615.4 617.0 612.5 617.5 615.6 617.9 613.7 618.4 618.2 618.8 614.9 619.2 616.4 619.7 615.9 620.1 616.0 620.6 615.4 621.0 617.2 621.5 613.8 621.9 616.7 622.4 615.0 622.8 616.9 623.3 614.6 623.7 615.1 624.2 614.8 624.6 616.8 625.1 618.7 625.5 615.3 626.0 616.7 626.4 615.8 626.9 611.0 627.3 618.7 627.8 616.2 628.2 616.6 628.7 615.1 629.1 616.7 629.6 616.3 630.0 619.6 630.5 617.7 630.9 619.8 631.4 618.9 631.8 617.0 632.2 617.6 632.7 615.2 633.1 616.8 633.6 616.6 634.1 615.9 634.5 615.8 635.0 616.8 635.4 618.0 635.9 615.7 636.3 618.3 636.8 617.2 637.2 618.6 637.6 616.5 638.1 617.7 638.6 614.9 639.0 616.9 639.5 615.6 639.9 619.0 640.4 619.7 640.8 617.6 641.2 627.2 641.7 618.4 642.1 615.8 642.5 616.5 642.9 618.5 643.4 615.0 643.8 615.2 644.2 616.8 644.6 616.4 645.0 617.6 645.4 615.2 645.9 616.5 646.3 616.3 646.7 619.6 647.1 615.1 647.5 617.6 647.9 616.6 648.3 614.2 648.8 616.4 649.2 614.6 649.6 614.4 650.0 611.9 650.4 616.3 650.8 611.3 651.2 611.6 651.7 613.3 652.1 611.6 652.5 612.3 652.9 612.4 653.3 612.7 653.7 611.8 654.2 612.7 654.6 608.9 655.0 612.0 655.4 612.2 655.8 617.6 656.2 613.4 656.6 614.7 657.0 611.9 657.4 609.3 657.8 610.9 658.1 606.9 658.5 611.1 658.9 612.9 659.3 608.9 659.7 607.2 660.1 608.0 660.5 604.7 660.9 606.6 661.3 609.8 661.7 607.4 662.1 607.0 662.5 608.3 662.8 605.5 663.2 605.3 663.6 603.0 664.0 604.9 664.4 609.6 664.8 607.0 665.2 606.8 665.6 606.0 665.9 605.3 666.3 607.4 666.6 605.4 667.0 606.0 667.3 604.1 667.7 604.0 668.0 604.8 668.4 606.2 668.7 602.5 669.1 603.9 669.5 603.4 669.8 601.8 670.2 604.6 670.5 603.5 670.9 603.0 671.2 602.7 671.6 600.6 671.9 598.7 672.3 599.6 672.6 592.7 673.0 603.2 673.4 599.6 673.7 602.2 674.1 600.1 674.4 599.3 674.8 598.1 675.1 595.9 675.5 597.4 675.8 597.9 676.2 596.0 676.5 598.6 676.9 596.5 677.3 599.1 677.6 599.4 678.0 596.6 678.3 597.5 678.7 596.9 679.0 595.5 679.4 597.2 679.7 594.9 680.1 593.2 680.4 593.4 680.8 591.4 681.2 594.7 681.7 592.2 682.1 594.2 682.5 594.9 683.0 596.1 683.4 597.8 683.8 596.2 684.3 597.2 684.7 592.8 685.1 593.2 685.6 597.5 686.0 593.8 686.1 596.0 686.3 596.5 686.4 594.5 686.6 595.5 686.7 594.1 686.9 591.5 687.0 590.4 687.2 591.3 687.3 588.2 687.5 590.5 687.6 586.8 687.8 588.7 687.9 591.0 688.0 593.7 688.2 589.2 688.3 591.4 688.5 589.4 688.6 591.7 688.8 588.6 688.9 586.3 689.1 585.5 689.2 584.7 689.4 585.9 689.5 591.4 689.6 584.4 689.8 583.5 689.9 583.4 690.1 580.8 690.2 580.3 690.4 581.1 690.5 583.1 690.7 579.5 690.8 579.1 691.0 581.5 691.1 580.3 691.3 577.4 691.4 579.3 691.5 580.4 691.7 575.9 691.8 572.4 692.0 575.8 692.1 574.1 692.3 572.6 692.4 575.2 692.6 573.6 692.7 574.1 692.9 576.9 693.0 573.2 693.1 574.2 693.3 573.0 693.4 574.2 693.6 573.9 693.7 575.3 693.9 575.9 694.0 573.8 694.2 572.0 694.3 570.7 694.5 573.8 694.6 569.6 694.8 568.8 694.9 572.4 695.0 572.4 695.1 572.2 695.2 572.4 695.3 572.2 695.4 568.2 695.5 574.3 695.6 574.5 695.7 578.0 695.8 571.4 695.9 576.1 696.0 571.5 696.1 573.9 696.2 572.0 696.3 571.9 696.4 579.3 696.5 577.6 696.6 579.1 696.7 580.0 696.8 578.2 696.9 577.6 697.0 580.3 697.1 579.9 697.2 581.1 697.3 581.5 697.4 581.9 697.5 581.5 697.6 581.6 697.7 577.8 697.9 577.3 698.0 578.8 698.1 583.7 698.2 582.9 698.3 580.6 698.4 585.2 698.5 583.6 698.6 585.0 698.7 589.9 698.8 585.9 698.9 587.3 699.0 585.7 699.1 586.0 699.2 584.0 699.3 585.8 699.4 586.7 699.5 589.1 699.6 588.2 699.7 585.6 699.8 588.0 699.9 590.0 700.0 587.5 700.1 588.5 700.2 587.6 700.3 589.5 700.4 591.8 700.5 594.2 700.6 595.7 700.7 595.6 700.8 595.1 701.0 589.3 701.1 593.3 701.2 590.3 701.4 590.9 701.5 592.7 701.7 591.7 701.8 589.1 701.9 592.4 702.1 587.3 702.2 587.2 702.3 587.3 702.5 584.0 702.6 585.6 702.7 588.2 702.9 585.4 703.0 585.1 703.2 579.6 703.3 582.1 703.4 582.6 703.6 586.1 703.7 583.5 703.8 586.0 704.0 585.4 704.1 583.0 704.2 584.9 704.4 583.3 704.5 579.8 704.6 580.3 704.8 582.0 704.9 581.5 705.1 580.8 705.2 582.4 705.3 580.0 705.5 579.3 705.6 582.0 705.9 581.4 706.1 581.4 706.4 583.7 706.6 584.5 706.9 579.6 707.1 580.6 707.4 583.5 707.7 580.1 707.9 584.6 708.2 584.8 708.4 581.2 708.7 582.1 708.9 583.5 709.2 584.7 709.5 582.9 709.7 580.8 710.0 585.6 710.2 586.2 710.5 582.2 710.7 587.3 711.0 587.8 711.3 587.2 711.5 588.7 711.8 585.9 712.0 585.7 712.3 585.0 712.5 585.6 712.8 588.0 713.1 589.1 713.3 586.2 713.6 591.2 713.8 589.4 714.1 591.8 714.3 592.6 714.6 593.0 714.9 589.8 715.1 592.0 715.4 593.4 715.6 593.5 715.9 596.6 716.1 597.6 716.4 594.0 716.7 596.1 716.9 595.3 717.2 595.0 717.4 591.1 717.7 595.2 717.9 591.0 718.2 591.2 718.4 590.4 718.7 591.2 718.9 590.1 719.2 586.9 719.5 590.2 719.7 587.5 720.0 590.4 720.2 587.6 720.5 585.6 720.7 585.7 721.0 588.6 721.2 586.2 721.5 588.8 721.8 586.2 722.0 586.3 722.3 589.9 722.5 585.0 722.8 584.1 723.0 587.7 723.3 584.5 723.5 581.0 723.8 582.3 724.0 585.8 724.3 583.2 724.6 582.4 724.8 582.4 725.1 583.0 725.3 578.3 725.6 577.1 725.8 580.1 726.1 580.8 726.3 580.1 726.6 581.8 726.8 579.2 727.1 579.1 727.5 579.8 727.9 579.8 728.4 578.4 728.8 578.0 729.2 579.5 729.6 578.0 730.1 580.2 730.5 577.4 730.9 577.4 731.3 575.5 731.7 580.3 732.2 578.3 732.6 577.8 733.0 577.1 733.4 574.8 733.8 578.6 734.3 576.1 734.7 576.3 735.1 579.6 735.5 574.5 736.0 576.4 736.4 577.3 736.8 574.8 737.2 572.3 737.6 573.4 738.1 572.3 738.5 575.0 738.9 576.2 739.3 575.2 739.7 573.9 740.2 574.3 740.6 573.9 741.0 573.6 741.4 574.0 741.9 574.8 742.3 577.0 742.7 572.6 743.2 573.1 743.6 575.4 744.1 571.6 744.6 570.8 745.0 572.6 745.5 570.1 745.9 572.2 746.4 574.0 746.9 569.5 747.3 568.5 747.8 573.5 748.3 572.0 748.7 571.0 749.2 574.3 749.6 569.9 750.1 568.9 750.6 573.2 751.0 570.8 751.5 573.3 751.9 571.3 752.3 574.2 752.7 574.0 753.0 574.0 753.4 575.2 753.8 577.7 754.2 572.2 754.6 573.5 755.0 574.4 755.3 573.4 755.7 575.0 756.1 577.6 756.5 575.5 756.9 573.5 757.3 573.0 757.7 576.0 758.0 577.4 758.4 575.3 758.8 576.3 759.2 579.3 759.6 580.6 760.0 581.1 760.4 579.6 760.7 576.8 761.1 578.5 761.5 577.0 761.9 578.6 762.3 581.6 762.7 579.0 763.0 580.1 763.4 582.7 763.8 581.9 764.2 580.1 764.6 580.6 765.1 582.7 765.5 579.4 765.9 579.2 766.3 579.7 766.8 578.1 767.2 577.9 767.6 580.2 768.0 577.9 768.5 579.2 768.9 576.8 769.3 576.6 769.7 580.3 770.2 578.3 770.6 575.2 771.0 577.5 771.4 579.5 771.9 578.9 772.3 576.7 772.7 575.4 773.1 577.0 773.6 583.1 774.0 577.9 774.2 575.7 774.3 576.9 774.5 575.4 774.6 577.4 774.8 574.1 774.9 576.1 775.1 575.3 775.3 573.7 775.4 570.2 775.6 574.5 775.7 570.6 775.9 572.2 776.1 571.8 776.2 569.6 776.4 567.9 776.5 571.5 776.7 569.8 776.8 571.0 777.0 566.8 777.2 568.1 777.3 567.4 777.5 564.8 777.6 566.8 777.8 566.6 778.0 566.4 778.1 563.2 778.3 566.6 778.4 566.7 778.6 566.0 778.7 559.7 778.9 562.0 779.1 562.1 779.2 561.1 779.4 557.3 779.5 562.8 779.7 560.3 779.9 558.6 780.0 562.2 780.2 558.1 780.3 557.3 780.5 558.7 780.6 559.8 780.8 556.2 781.0 555.6 781.1 560.1 781.3 555.3 781.4 557.2 781.6 555.9 781.7 557.2 781.9 556.4 782.1 550.6 782.2 554.4 782.4 553.3 782.5 549.3 782.7 550.6 782.9 553.2 783.0 554.0 783.2 552.6 783.3 549.9 783.5 553.1 783.6 552.1 783.8 550.8 784.0 550.0 784.1 548.1 784.3 547.5 784.4 549.7 784.6 549.3 784.8 544.8 784.9 546.2 785.1 547.9 785.2 545.3 785.4 546.2 785.5 542.4 785.7 544.0 785.9 546.6 786.1 546.2 786.3 543.0 786.5 544.4 786.7 546.9 786.9 550.1 787.1 546.6 787.3 548.3 787.5 547.9 787.7 548.4 787.9 549.1 788.1 550.5 788.3 544.4 788.5 549.9 788.8 550.1 789.0 549.1 789.2 549.3 789.4 554.1 789.6 553.4 789.8 553.3 790.0 555.8 790.2 557.7 790.4 552.4 790.6 555.8 790.8 555.2 791.0 553.7 791.2 554.2 791.4 555.3 791.6 555.6 791.8 553.6 792.0 553.0 792.2 553.8 792.3 555.5 792.5 557.0 792.7 553.7 792.9 555.0 793.1 553.7 793.3 557.0 793.4 552.7 793.6 553.0 793.8 549.9 794.0 551.4 794.2 551.7 794.4 548.8 794.5 551.3 794.7 548.8 794.9 547.9 795.1 551.1 795.3 547.6 795.5 549.6 795.6 550.4 795.8 546.5 796.0 544.5 796.2 544.8 796.4 549.0 796.6 548.5 796.7 544.4 796.9 546.3 797.1 543.0 797.3 545.5 797.5 544.0 797.7 545.3 797.8 543.7 798.0 541.3 798.2 544.6 798.4 543.8 798.6 541.5 798.8 541.5 798.9 541.2 799.1 543.5 799.3 542.2 799.5 540.1 799.7 537.3 799.9 537.7 800.0 539.5 800.2 537.3 800.4 535.7 800.6 535.6 800.8 534.5 801.0 536.1 801.1 533.0 801.3 535.7 801.5 532.4 801.7 535.5 801.9 535.3 802.1 534.8 802.2 534.8 802.4 532.6 802.6 532.2 802.8 532.8 803.0 533.0 803.2 532.2 803.3 531.6 803.5 529.5 803.7 529.1 803.9 531.5 804.1 526.3 804.3 526.1 804.4 527.4 804.6 527.7 804.8 523.8 805.0 522.4 805.2 525.8 805.4 516.2 805.5 523.4 805.7 524.4 805.9 522.9 806.1 525.5 806.3 525.9 806.5 523.3 806.6 525.1 806.8 524.6 807.0 522.2 807.2 520.4 807.4 525.7 807.5 524.9 807.7 522.6 807.8 525.7 808.0 522.8 808.1 523.9 808.3 526.9 808.4 526.3 808.6 528.2 808.8 526.4 808.9 528.2 809.1 525.8 809.2 527.3 809.4 528.6 809.5 529.5 809.7 529.4 809.9 527.7 810.0 529.9 810.2 532.2 810.3 529.3 810.5 530.8 810.6 531.7 810.8 530.0 810.9 532.5 811.1 532.1 811.3 531.3 811.4 535.1 811.6 534.4 811.7 533.3 811.9 535.4 812.0 538.2 812.2 538.5 812.3 535.4 812.5 535.0 812.7 539.0 812.8 536.5 813.0 540.4 813.1 538.8 813.3 537.9 813.4 538.8 813.6 544.5 813.8 543.4 813.9 541.7 814.1 540.0 814.2 538.4 814.4 540.1 814.5 543.6 814.7 541.3 814.8 543.8 815.0 546.7 815.2 542.5 815.5 546.3 815.7 543.8 815.9 541.4 816.2 540.3 816.4 540.7 816.6 543.1 816.9 542.2 817.1 540.6 817.3 540.1 817.6 539.0 817.8 539.8 818.0 540.5 818.3 541.5 818.5 537.9 818.7 536.9 819.0 535.4 819.2 534.9 819.4 533.2 819.7 528.6 819.9 536.6 820.1 536.8 820.4 534.8 820.6 535.7 820.9 531.1 821.1 533.4 821.3 531.9 821.6 531.7 821.8 530.4 822.0 527.7 822.3 529.2 822.5 529.9 822.7 529.7 823.0 528.8 823.2 529.9 823.4 528.4 823.7 531.5 823.9 529.3 824.1 527.5 824.4 525.6 824.6 529.4 824.8 527.2 825.1 526.1 825.3 524.1 825.5 521.8 825.8 525.8 826.0 524.6 826.2 524.0 826.5 522.5 826.7 526.2 826.8 523.9 826.9 526.8 827.0 525.6 827.1 526.5 827.2 526.2 827.3 525.4 827.4 524.2 827.5 527.2 827.6 529.1 827.7 525.2 827.8 528.5 827.9 527.4 828.0 527.4 828.1 529.1 828.2 533.3 828.3 527.6 828.4 528.6 828.5 533.6 828.6 531.5 828.7 531.5 828.8 534.9 828.9 534.6 829.0 534.6 829.1 534.3 829.2 535.9 829.3 534.7 829.4 535.1 829.5 535.9 829.6 533.7 829.7 537.1 829.8 542.6 829.9 542.9 830.0 538.6 830.1 537.6 830.2 537.3 830.3 539.0 830.4 538.0 830.5 538.1 830.6 539.0 830.6 542.5 830.7 544.3 830.8 541.7 830.9 543.1 831.0 543.7 831.1 547.8 831.2 543.5 831.3 542.7 831.4 544.6 831.5 545.2 831.6 545.2 831.7 545.2 831.8 548.1 831.9 548.1 832.0 547.1 832.1 546.6 832.2 555.0 832.3 555.0 832.4 550.4 832.5 550.4 832.6 551.9 832.7 544.9 832.8 552.6 832.9 551.5 833.0 551.9 833.1 552.4 833.2 549.1 833.3 552.9 833.4 552.7 833.5 553.4 833.6 555.7 833.7 553.2 833.8 554.5 833.9 557.3 834.0 557.3 834.1 558.6 834.2 554.5 834.3 557.4 834.4 558.0 834.5 561.9 834.6 560.0 834.7 561.0 834.8 557.7 834.9 558.3 834.9 558.7 835.0 557.0 835.1 556.2 835.2 556.9 835.3 552.3 835.4 556.9 835.5 557.1 835.6 553.0 835.7 554.8 835.7 553.1 835.8 554.5 835.9 553.2 836.0 549.5 836.1 550.5 836.2 551.9 836.3 549.2 836.4 546.9 836.5 550.1 836.5 546.6 836.6 545.9 836.7 548.7 836.8 550.5 836.9 549.6 837.0 545.8 837.1 549.2 837.2 545.6 837.2 546.7 837.3 545.7 837.4 547.5 837.5 545.9 837.6 544.4 837.7 540.7 837.8 543.4 837.9 542.9 838.0 541.5 838.0 542.6 838.1 538.9 838.2 541.3 838.3 537.9 838.4 540.9 838.5 540.2 838.5 537.2 838.6 536.0 838.6 535.8 838.7 538.8 838.8 541.3 838.8 541.1 838.9 544.4 838.9 539.8 839.0 537.1 839.1 543.7 839.1 545.7 839.2 542.8 839.2 547.2 839.3 547.1 839.4 548.2 839.4 547.0 839.5 547.2 839.5 548.8 839.6 547.7 839.7 550.7 839.7 548.9 839.8 548.4 839.8 549.4 839.9 550.8 840.0 554.8 840.0 551.8 840.1 554.4 840.1 551.1 840.2 554.3 840.3 554.5 840.3 553.7 840.4 553.9 840.4 553.9 840.5 552.2 840.6 554.5 840.6 558.2 840.7 555.5 840.7 557.8 840.8 555.1 840.9 560.6 840.9 559.3 841.0 558.9 841.0 558.3 841.1 559.5 841.2 558.8 841.2 562.8 841.3 560.8 841.3 558.5 841.4 562.1 841.5 562.0 841.5 565.4 841.6 564.5 841.6 564.5 841.7 563.4 841.8 567.8 841.8 568.9 841.9 566.0 841.9 568.7 842.0 568.0 842.1 568.7 842.1 567.4 842.2 566.3 842.2 569.0 842.3 566.7 842.5 566.9 842.7 568.0 842.9 568.3 843.1 564.8 843.3 567.0 843.5 563.7 843.7 563.5 843.9 562.1 844.1 566.3 844.3 564.8 844.5 560.4 844.8 562.7 845.0 565.1 845.2 560.8 845.4 563.0 845.6 560.8 845.8 562.9 846.0 561.5 846.2 562.3 846.4 562.2 846.6 559.5 846.8 559.5 847.0 558.1 847.2 559.5 847.4 559.4 847.6 558.0 847.8 560.8 848.0 556.4 848.2 552.5 848.4 559.3 848.6 555.4 848.8 557.1 849.0 554.2 849.2 555.0 849.4 553.9 849.6 554.4 849.9 554.2 850.1 554.5 850.3 554.8 850.5 552.9 850.7 554.7 850.9 554.7 851.1 550.2 851.3 548.9 851.5 548.2 851.7 549.2 851.9 549.6 852.1 551.2 852.3 550.0 852.4 546.9 852.6 547.2 852.7 545.8 852.9 550.0 853.0 547.0 853.2 545.9 853.3 548.9 853.5 544.8 853.6 545.3 853.8 544.8 853.9 544.9 854.1 541.4 854.2 544.6 854.4 545.3 854.5 545.4 854.7 544.6 854.9 543.8 855.0 543.9 855.2 541.3 855.3 543.7 855.5 540.8 855.6 539.2 855.8 538.9 855.9 540.4 856.1 538.9 856.2 534.0 856.4 534.9 856.5 538.1 856.7 540.0 856.8 538.1 857.0 533.4 857.2 535.9 857.3 534.1 857.5 537.1 857.6 537.7 857.8 535.3 857.9 531.3 858.1 531.8 858.2 531.1 858.4 530.6 858.5 527.9 858.7 531.1 858.8 528.1 859.0 533.0 859.1 527.0 859.3 531.1 859.5 529.1 859.6 529.3 859.8 529.2 859.9 527.6 860.1 526.5 860.2 524.2 860.4 525.1 860.5 525.3 860.7 524.7 860.8 525.7 861.0 525.2 861.1 524.7 861.3 522.8 861.4 523.8 861.6 521.9 861.7 520.7 861.9 520.8 862.1 520.5 862.3 521.5 862.5 520.0 862.6 525.0 862.8 524.0 863.0 525.8 863.2 526.9 863.4 523.8 863.6 526.4 863.8 524.6 863.9 529.7 864.1 527.3 864.3 528.6 864.5 528.1 864.7 530.7 864.9 535.7 865.1 528.1 865.2 530.1 865.4 531.7 865.6 533.2 865.8 533.4 866.0 530.4 866.2 533.3 866.4 530.6 866.5 533.9 866.7 534.4 866.9 533.4 867.1 533.0 867.3 536.4 867.5 537.9 867.7 534.5 867.8 537.3 868.0 535.0 868.2 534.6 868.4 538.7 868.6 537.9 868.8 536.1 869.0 538.5 869.1 537.6 869.3 537.6 869.5 536.2 869.7 539.5 869.9 538.2 870.1 537.8 870.3 536.0 870.5 538.1 870.7 537.5 870.9 538.7 871.1 534.6 871.3 539.0 871.5 537.1 871.8 536.1 872.0 537.0 872.2 533.1 872.4 529.9 872.6 531.3 872.8 531.7 873.0 531.7 873.2 531.2 873.4 528.7 873.6 530.4 873.8 531.4 874.0 532.4 874.2 532.5 874.4 531.5 874.6 530.9 874.8 532.9 875.0 532.1 875.2 530.5 875.4 528.4 875.7 529.4 875.9 525.5 876.1 524.1 876.3 527.1 876.5 526.7 876.7 528.6 876.9 528.1 877.1 527.7 877.3 525.6 877.5 527.0 877.7 526.9 878.0 523.5 878.2 525.2 878.4 526.9 878.6 526.5 878.9 528.9 879.1 527.1 879.3 524.3 879.6 523.6 879.8 527.8 880.0 529.4 880.3 531.7 880.5 530.0 880.7 533.7 880.9 531.4 881.2 528.3 881.4 530.7 881.6 531.2 881.9 531.0 882.1 532.8 882.3 527.5 882.5 532.3 882.8 531.5 883.0 531.9 883.2 535.8 883.5 533.9 883.7 532.4 883.9 534.1 884.2 533.4 884.4 534.1 884.6 533.8 884.8 536.1 885.1 533.9 885.3 538.6 885.5 536.7 885.7 538.3 885.9 533.8 886.1 536.4 886.3 532.3 886.5 533.5 886.7 532.2 886.9 535.4 887.1 532.2 887.3 535.4 887.5 531.9 887.7 534.8 887.9 532.4 888.1 530.5 888.3 533.3 888.5 530.0 888.7 527.3 888.9 530.0 889.1 528.2 889.4 531.6 889.6 528.8 889.8 524.5 890.0 529.6 890.2 527.4 890.4 525.2 890.6 526.2 890.8 528.5 891.0 526.6 891.2 523.0 891.4 522.2 891.6 524.4 891.8 525.7 892.0 527.1 892.2 526.4 892.4 525.6 892.6 523.4 892.8 525.5 893.0 526.0 893.3 523.1 893.5 523.1 893.8 522.2 894.0 518.3 894.3 521.3 894.5 519.3 894.8 518.9 895.0 520.1 895.3 519.9 895.5 517.6 895.8 520.3 896.0 521.6 896.3 518.9 896.5 519.0 896.8 514.4 897.0 516.4 897.3 515.9 897.5 513.3 897.8 514.5 898.0 514.4 898.3 517.9 898.5 512.7 898.8 512.1 899.0 514.2 899.3 513.1 899.5 514.4 899.8 512.1 900.0 514.1 900.3 513.5 900.5 509.4 900.8 508.5 901.0 508.3 901.3 509.2 901.5 509.8 901.8 508.1 902.0 506.2 902.3 508.7 902.5 507.6 902.8 509.8 903.0 508.9 903.3 509.0 903.5 504.9 903.8 504.9 904.0 506.4 904.3 503.0 904.5 505.2 904.8 502.0 904.9 506.5 905.0 504.0 905.1 503.1 905.2 499.7 905.4 501.7 905.5 503.6 905.6 500.4 905.7 501.2 905.8 499.3 905.9 498.6 906.0 500.0 906.1 499.9 906.2 502.0 906.4 498.3 906.5 500.8 906.6 497.2 906.7 498.1 906.8 494.0 906.9 497.2 907.0 492.7 907.1 493.4 907.2 494.8 907.4 494.7 907.5 493.8 907.6 494.2 907.7 493.4 907.8 493.2 907.9 490.2 908.0 493.4 908.1 490.8 908.3 496.5 908.4 491.6 908.5 488.6 908.6 489.8 908.7 490.2 908.8 489.8 908.9 487.3 909.0 486.4 909.1 485.3 909.3 487.5 909.4 484.6 909.5 483.0 909.6 485.4 909.7 485.1 909.8 486.1 909.9 485.4 909.9 485.5 910.0 486.9 910.1 489.7 910.2 489.8 910.2 489.5 910.3 489.7 910.4 492.2 910.5 488.2 910.5 489.0 910.6 493.2 910.7 493.7 910.8 490.4 910.9 490.6 910.9 493.1 911.0 492.5 911.1 491.4 911.2 492.1 911.2 491.1 911.3 491.9 911.4 493.8 911.5 495.1 911.5 494.9 911.6 497.3 911.7 495.5 911.8 497.5 911.9 500.1 911.9 497.8 912.0 498.2 912.1 498.5 912.2 497.2 912.2 499.3 912.3 499.7 912.4 503.9 912.5 502.8 912.5 501.8 912.6 501.7 912.7 502.0 913.0 504.8 913.4 504.3 913.7 501.7 914.0 504.3 914.3 505.8 914.7 507.7 915.0 504.4 915.3 505.9 915.6 507.2 916.0 503.4 916.3 504.3 916.6 510.2 916.9 503.7 917.2 504.4 917.6 508.7 917.9 507.3 918.2 505.6 918.5 508.1 918.9 505.8 919.2 508.1 919.5 509.4 919.9 504.5 920.2 506.8 920.5 516.3 920.7 510.9 920.9 507.9 921.1 508.6 921.3 509.6 921.5 509.5 921.7 508.5 922.0 508.2 922.2 509.2 922.4 506.3 922.6 504.8 922.8 503.5 923.0 502.4 923.2 503.4 923.4 499.5 923.6 503.4 923.8 501.0 924.0 495.2 924.2 503.5 924.4 500.3 924.6 501.1 924.8 501.1 925.1 500.3 925.3 502.1 925.5 497.1 925.7 496.0 925.9 500.6 926.1 497.8 926.3 497.0 926.5 499.7 926.7 498.8 927.0 498.0 927.2 496.9 927.4 498.8 927.6 495.1 927.8 497.1 928.1 495.9 928.3 494.3 928.5 492.1 928.7 490.8 928.9 492.0 929.2 490.1 929.4 491.2 929.6 493.6 929.8 492.5 930.0 491.2 930.3 491.9 930.5 490.3 930.7 489.7 930.9 490.3 931.1 488.6 931.4 489.2 931.6 487.9 931.8 487.9 932.0 487.9 932.3 486.3 932.5 487.2 932.7 488.2 932.9 485.8 933.1 488.3 933.4 487.7 933.6 483.7 933.8 488.5 934.0 487.3 934.2 482.4 934.5 486.9 934.7 484.6 934.9 482.4 935.1 483.1 935.3 482.7 935.6 483.6 935.8 481.9 936.0 480.5 936.4 483.6 936.9 483.7 937.3 479.5 937.8 480.0 938.2 483.0 938.6 483.1 939.1 483.6 939.5 483.5 940.0 479.8 940.4 481.7 940.8 483.3 941.3 480.7 941.7 484.6 942.1 485.5 942.6 481.0 943.0 482.0 943.5 483.5 943.9 485.8 944.1 484.2 944.2 485.3 944.4 485.1 944.5 486.2 944.7 485.9 944.8 486.9 945.0 486.2 945.1 484.2 945.3 486.4 945.5 488.1 945.6 488.5 945.8 486.0 945.9 485.1 946.1 489.2 946.2 490.2 946.4 486.1 946.6 488.8 946.7 487.6 946.9 493.0 947.0 490.3 947.2 492.4 947.3 491.3 947.5 490.7 947.6 493.5 947.8 492.9 948.0 493.7 948.1 494.1 948.3 494.2 948.5 495.2 948.6 489.8 948.8 490.2 949.0 492.7 949.2 491.5 949.3 489.0 949.5 491.9 949.7 487.0 949.8 485.0 950.0 486.9 950.2 485.1 950.3 487.3 950.5 487.7 950.7 486.5 950.8 485.8 951.0 481.4 951.2 484.6 951.4 486.4 951.5 485.8 951.7 487.7 951.9 482.6 952.0 481.7 952.2 482.9 952.4 482.0 952.5 482.8 952.7 483.1 952.9 483.2 953.0 481.4 953.2 479.9 953.4 482.8 953.6 482.0 953.7 481.2 953.9 477.7 954.1 476.6 954.2 476.8 954.4 479.3 954.6 476.5 954.7 477.7 954.9 475.3 955.1 476.0 955.2 473.1 955.4 476.3 955.6 474.3 955.7 471.6 955.9 473.4 956.1 472.3 956.3 475.3 956.4 474.7 956.6 471.5 956.8 471.0 956.9 464.1 957.1 471.3 957.3 468.9 957.4 469.7 957.6 473.2 957.8 467.8 957.9 470.5 958.1 466.0 958.3 468.7 958.5 469.3 958.6 465.5 958.8 465.4 959.0 464.9 959.1 464.1 959.3 466.6 959.5 463.8 959.6 461.6 959.8 463.8 960.0 459.4 960.1 462.4 960.3 459.0 960.5 460.9 960.7 457.0 960.8 457.6 961.0 460.6 961.2 462.6 961.3 462.1 961.5 457.4 961.9 458.5 962.3 458.8 962.7 460.2 963.1 459.8 963.5 459.8 963.8 462.5 964.2 458.2 964.6 461.4 965.0 458.8 965.4 463.7 965.8 456.2 966.2 458.0 966.6 456.6 967.0 455.5 967.4 457.9 967.8 454.0 968.2 455.4 968.5 454.5 968.9 453.3 969.3 454.7 969.7 447.8 970.1 452.1 970.5 453.0 970.9 455.6 971.3 454.0 971.7 455.0 972.1 455.5 972.5 453.7 972.9 449.9 973.2 452.9 973.6 452.9 974.0 453.1 974.4 453.9 974.8 454.2 975.2 454.6 975.3 450.7 975.4 453.9 975.5 452.5 975.6 454.3 975.7 454.9 975.9 452.1 976.0 452.4 976.1 454.0 976.2 454.0 976.3 456.3 976.4 456.3 976.5 464.0 976.6 458.7 976.7 460.5 976.8 459.7 976.9 458.3 977.0 459.1 977.2 456.1 977.3 462.8 977.4 462.6 977.5 463.6 977.6 464.4 977.7 461.6 977.8 462.0 977.9 461.6 978.0 462.6 978.1 465.0 978.2 461.4 978.3 461.3 978.5 463.1 978.6 464.2 978.7 465.3 978.8 466.7 978.9 468.1 979.0 466.5 979.2 467.5 979.3 468.7 979.5 466.6 979.7 467.9 979.8 462.4 980.0 464.3 980.1 463.7 980.3 462.9 980.5 464.5 980.6 462.2 980.8 461.1 981.0 461.3 981.1 459.2 981.3 460.3 981.5 460.4 981.6 456.8 981.8 461.4 981.9 459.9 982.1 460.8 982.3 458.7 982.4 458.2 982.6 461.5 982.8 458.6 982.9 460.2 983.1 456.9 983.2 458.2 983.4 459.3 983.6 454.5 983.7 455.8 983.9 457.1 984.1 454.4 984.2 452.5 984.4 451.7 984.6 452.5 984.7 449.6 984.9 452.8 985.0 452.6 985.2 449.3 985.4 453.7 985.5 452.5 985.7 449.6 985.9 449.3 986.0 450.5 986.2 446.9 986.3 447.9 986.5 448.9 986.7 446.1 986.8 448.0 987.0 445.2 987.2 443.9 987.3 443.9 987.5 441.5 987.7 440.4 987.8 442.3 988.0 441.1 988.1 440.9 988.3 441.7 988.5 440.6 988.6 442.4 988.8 441.9 989.0 443.7 989.1 441.0 989.3 444.1 989.4 444.1 989.6 441.0 989.8 440.1 989.9 440.9 990.1 432.7 990.2 435.2 990.4 435.7 990.6 438.2 990.7 436.6 990.9 434.7 991.0 435.2 991.2 435.4 991.4 430.4 991.5 435.8 991.7 433.2 991.8 435.2 992.0 434.9 992.1 432.8 992.3 428.5 992.5 428.9 992.6 434.1 992.8 431.3 992.9 431.3 993.1 432.2 993.3 429.8 993.4 428.8 993.6 427.1 993.7 431.0 993.9 428.7 994.1 429.5 994.2 424.9 994.4 424.7 994.5 427.8 994.7 426.3 995.0 427.9 995.3 428.3 995.6 428.6 995.9 428.2 996.2 427.8 996.5 426.7 996.8 431.6 997.1 431.0 997.4 429.4 997.7 428.4 998.0 431.7 998.3 431.0 998.6 427.4 998.9 432.2 999.2 433.7 999.5 429.6 999.7 432.5 1000.0 436.6 1000.3 434.9 1000.6 433.4 1000.9 432.9 1001.2 436.4 1001.5 433.2 1001.8 435.0 1002.1 437.7 1002.4 432.9 1002.7 434.9 1003.0 438.7 1003.3 435.7 1003.6 436.5 1003.9 438.3 1004.2 436.4 1004.5 439.6 1004.6 438.4 1004.6 438.1 1004.7 437.0 1004.7 437.8 1004.8 438.2 1004.9 434.3 1004.9 434.7 1005.0 433.8 1005.0 432.3 1005.1 430.7 1005.2 434.4 1005.2 437.0 1005.3 431.0 1005.3 433.6 1005.4 431.0 1005.5 433.4 1005.5 433.1 1005.6 430.2 1005.6 430.4 1005.7 422.3 1005.8 428.0 1005.8 426.4 1005.9 427.6 1006.0 425.9 1006.0 424.4 1006.1 427.5 1006.1 427.3 1006.2 423.6 1006.3 421.6 1006.3 421.9 1006.4 422.9 1006.4 421.6 1006.5 427.7 1006.6 423.7 1006.6 424.4 1006.7 421.4 1006.7 422.0 1006.8 425.5 1006.9 422.8 1006.9 421.0 1007.0 421.0 1007.0 420.3 1007.1 420.6 1007.2 420.0 1007.2 420.8 1007.3 416.6 1007.3 417.3 1007.4 416.7 1007.5 415.8 1007.5 415.8 1007.6 415.8 1007.6 417.5 1007.7 415.7 1007.8 413.6 1007.8 410.4 1007.9 410.8 1007.9 412.6 1008.0 406.7 1008.1 407.4 1008.1 412.8 1008.2 407.7 1008.2 409.3 1008.3 409.8 1008.4 408.9 1008.4 407.9 1008.5 409.1 1008.5 408.2 1008.6 409.0 1008.7 405.2 1008.7 409.7 1008.8 406.4 1008.8 407.8 1008.9 405.0 1009.0 406.4 1009.0 405.8 1009.1 406.5 1009.2 402.1 1009.2 404.3 1009.3 399.4 1009.3 404.2 1009.4 399.4 1009.5 402.4 1009.5 399.4 1009.6 400.4 1009.6 399.7 1009.7 400.0 1009.8 401.0 1009.8 396.8 1009.9 400.7 1009.9 398.4 1010.0 396.0 1010.1 394.1 1010.1 396.5 1010.2 395.0 1010.2 392.3 1010.3 402.3 1010.4 394.7 1010.4 396.8 1010.5 389.1 1010.5 392.7 1010.6 391.3 1010.6 389.5 1010.7 390.6 1010.8 388.8 1010.8 392.2 1010.9 389.1 1010.9 390.1 1011.0 388.3 1011.0 387.4 1011.1 386.2 1011.2 390.4 1011.2 387.6 1011.3 392.4 1011.3 387.2 1011.4 390.6 1011.4 384.6 1011.5 387.2 1011.5 384.8 1011.6 383.4 1011.7 385.2 1011.7 383.7 1011.8 382.0 1011.8 382.8 1011.9 381.4 1011.9 383.2 1012.0 382.0 1012.1 382.1 1012.1 381.6 1012.2 378.8 1012.2 379.2 1012.3 376.5 1012.3 381.3 1012.4 378.6 1012.5 374.9 1012.5 374.2 1012.6 376.9 1012.6 378.3 1012.7 372.5 1012.7 376.3 1012.8 372.4 1012.9 371.4 1012.9 372.8 1013.0 369.9 1013.0 371.4 1013.1 371.1 1013.1 370.3 1013.2 367.6 1013.2 368.5 1013.4 369.5 1013.6 369.5 1013.8 370.1 1013.9 371.6 1014.1 374.8 1014.3 370.5 1014.4 376.8 1014.6 372.8 1014.8 373.1 1014.9 373.0 1015.1 375.1 1015.3 377.2 1015.5 380.1 1015.6 379.0 1015.8 379.2 1016.0 377.7 1016.1 377.3 1016.3 377.0 1016.5 381.6 1016.6 377.5 1016.8 380.8 1017.0 381.2 1017.2 382.5 1017.3 383.8 1017.5 379.9 1017.7 381.7 1017.8 384.9 1018.0 384.5 1018.0 384.6 1018.0 382.1 1018.0 382.4 1018.1 383.9 1018.1 386.7 1018.1 387.1 1018.1 388.4 1018.1 387.8 1018.1 386.1 1018.1 386.4 1018.2 388.5 1018.2 391.0 1018.2 388.9 1018.2 391.6 1018.2 389.0 1018.2 388.1 1018.2 390.2 1018.3 392.9 1018.3 391.3 1018.3 391.9 1018.3 389.4 1018.3 398.1 1018.3 392.2 1018.3 400.9 1018.4 397.5 1018.4 394.9 1018.4 396.5 1018.4 392.9 1018.4 392.6 1018.4 394.0 1018.4 397.9 1018.5 398.2 1018.5 395.3 1018.5 395.8 1018.5 398.3 1018.5 399.3 1018.5 397.4 1018.5 397.2 1018.5 400.1 1018.6 400.5 1018.6 400.4 1018.6 402.8 1018.6 400.1 1018.6 401.2 1018.6 402.0 1018.6 402.9 1018.7 403.5 1018.7 405.2 1018.7 406.0 1018.7 405.6 1018.7 405.9 1018.7 404.9 1018.7 406.5 1018.8 403.7 1018.8 410.4 1018.8 408.9 1018.8 406.9 1018.8 407.9 1018.8 411.1 1018.8 408.3 1018.9 408.3 1018.9 411.9 1018.9 412.6 1018.9 412.8 1018.9 409.1 1018.9 412.9 1018.9 414.7 1019.0 414.5 1019.0 417.5 1019.0 419.2 1019.0 422.9 1019.0 417.9 1019.0 416.2 1019.0 418.6 1019.1 419.5 1019.1 420.7 1019.1 420.4 1019.1 420.6 1019.2 423.3 1019.3 415.9 1019.4 419.6 1019.4 418.7 1019.5 422.1 1019.6 414.3 1019.7 413.2 1019.8 416.6 1019.9 412.3 1019.9 415.7 1020.0 411.6 1020.1 413.4 1020.2 411.7 1020.3 414.1 1020.4 414.1 1020.4 415.3 1020.5 411.5 1020.6 415.7 1020.7 414.1 1020.8 413.5 1020.9 413.0 1021.0 412.5 1021.0 410.5 1021.1 407.0 1021.2 409.7 1021.3 405.8 1021.4 405.1 1021.5 406.0 1021.5 404.8 1021.6 406.8 1021.7 406.8 1021.8 404.6 1021.9 407.9 1022.0 402.1 1022.0 403.2 1022.1 400.0 1022.2 403.9 1022.3 401.9 1022.4 400.2 1022.5 397.9 1022.6 397.7 1022.6 393.5 1022.7 401.7 1022.8 397.6 1022.9 400.4 1023.0 393.8 1023.1 396.9 1023.1 397.2 1023.2 395.4 1023.3 392.0 1023.4 393.3 1023.5 397.1 1023.6 398.4 1023.7 395.3 1023.7 393.6 1023.8 393.2 1023.9 393.4 1024.0 397.7 1024.1 393.9 1024.2 392.2 1024.2 393.5 1024.3 388.0 1024.4 386.5 1024.5 387.9 1024.6 389.4 1024.7 390.7 1024.7 386.4 1024.8 387.6 1024.9 391.2 1025.0 385.3 1025.1 388.3 1025.2 387.1 1025.3 390.9 1025.4 392.2 1025.5 389.5 1025.6 391.7 1025.7 390.0 1025.8 392.1 1025.9 391.0 1026.0 389.4 1026.0 390.6 1026.1 391.2 1026.2 395.3 1026.3 393.2 1026.4 394.7 1026.5 397.2 1026.6 393.1 1026.7 398.6 1026.8 396.9 1026.9 396.5 1027.0 400.0 1027.1 400.3 1027.2 396.9 1027.3 402.0 1027.4 402.4 1027.5 399.8 1027.6 401.1 1027.7 400.2 1027.8 401.2 1027.9 402.3 1027.9 397.5 1028.0 405.4 1028.1 402.4 1028.2 404.0 1028.3 404.0 1028.4 404.7 1028.5 406.3 1028.6 405.7 1028.7 405.7 1028.8 403.8 1028.9 403.8 1029.0 407.5 1029.1 409.0 1029.2 411.7 1029.3 405.5 1029.4 408.2 1029.5 410.5 1029.6 410.7 1029.7 410.6 1029.8 412.4 1029.9 413.9 1029.9 412.9 1030.0 410.9 1030.1 410.4 1030.2 409.5 1030.3 410.3 1030.4 411.1 1030.5 411.4 1030.6 414.9 1030.7 409.4 1030.8 413.1 1030.9 415.6 1031.0 413.8 1031.1 419.5 1031.2 416.9 1031.3 417.8 1031.4 418.8 1031.5 415.8 1031.6 419.8 1031.7 419.8 1031.8 417.1 1031.8 417.7 1031.9 420.0 1032.0 420.0 1032.1 419.7 1032.2 421.8 1032.3 421.6 1032.4 426.0 1032.5 422.5 1032.6 422.6 1032.7 419.2 1032.8 418.9 1032.9 422.8 1033.0 422.3 1033.1 426.6 1033.2 425.0 1033.3 424.3 1033.4 425.3 1033.5 424.5 1033.6 427.5 1033.7 428.2 1033.8 428.8 1033.9 428.0 1034.0 427.8 1034.1 422.8 1034.2 422.0 1034.3 427.9 1034.4 422.9 1034.5 424.6 1034.6 422.7 1034.7 423.8 1034.8 422.2 1035.0 424.2 1035.1 421.7 1035.2 424.8 1035.3 422.2 1035.4 423.8 1035.5 420.9 1035.6 419.9 1035.7 417.7 1035.8 419.3 1035.9 417.8 1036.1 417.2 1036.2 416.1 1036.3 419.3 1036.4 418.6 1036.5 417.9 1036.6 414.7 1036.7 414.3 1036.8 416.8 1036.9 415.1 1037.0 412.7 1037.1 413.4 1037.3 415.3 1037.4 411.5 1037.5 415.6 1037.6 413.4 1037.7 411.1 1037.8 411.4 1037.9 412.2 1038.0 408.2 1038.1 410.1 1038.2 411.8 1038.4 410.1 1038.5 411.4 1038.6 407.9 1038.7 408.4 1038.8 407.0 1038.9 408.4 1039.0 409.8 1039.1 408.3 1039.2 407.5 1039.3 409.6 1039.4 404.2 1039.6 406.1 1039.7 403.5 1039.8 404.9 1039.9 400.9 1040.0 402.7 1040.1 404.1 1040.2 405.3 1040.3 401.2 1040.4 398.4 1040.5 397.8 1040.7 395.0 1040.8 396.1 1040.9 398.5 1041.0 396.6 1041.1 398.5 1041.2 396.7 1041.3 399.8 1041.4 396.2 1041.5 398.5 1041.6 398.5 1041.7 396.7 1041.9 398.9 1042.0 398.1 1042.1 393.6 1042.2 396.8 1042.3 394.3 1042.4 391.6 1042.5 395.6 1042.6 396.6 1042.7 394.2 1042.8 393.8 1043.0 391.2 1043.1 389.6 1043.2 389.1 1043.3 390.7 1043.4 391.8 1043.5 386.9 1043.6 386.8 1043.8 389.2 1043.9 387.6 1044.0 389.0 1044.2 390.6 1044.3 391.6 1044.4 392.0 1044.5 396.6 1044.7 395.2 1044.8 393.9 1044.9 396.8 1045.1 393.3 1045.2 392.1 1045.3 392.4 1045.5 398.0 1045.6 395.4 1045.7 399.1 1045.9 400.1 1046.0 395.7 1046.1 398.9 1046.3 400.7 1046.4 402.5 1046.5 402.2 1046.6 398.1 1046.8 398.0 1046.9 399.3 1047.0 403.7 1047.2 402.2 1047.3 404.8 1047.4 403.0 1047.6 405.8 1047.7 406.5 1047.8 405.8 1048.0 400.8 1048.1 406.3 1048.2 405.7 1048.4 405.7 1048.5 404.9 1048.6 407.3 1048.7 405.1 1048.9 405.9 1049.0 408.4 1049.1 408.4 1049.3 409.4 1049.4 405.4 1049.6 408.9 1049.7 407.6 1049.9 413.7 1050.1 409.7 1050.2 410.5 1050.4 410.3 1050.6 408.2 1050.8 408.4 1050.9 410.0 1051.1 413.2 1051.3 413.5 1051.4 412.1 1051.6 413.3 1051.8 411.3 1051.9 415.1 1052.1 417.1 1052.3 414.8 1052.5 417.6 1052.6 415.0 1052.8 416.9 1053.0 417.7 1053.1 417.6 1053.3 417.9 1053.5 416.9 1053.6 420.4 1053.8 418.8 1054.0 420.8 1054.1 420.2 1054.3 417.9 1054.5 417.2 1054.7 421.3 1054.8 420.8 1055.0 422.2 1055.2 423.0 1055.3 421.9 1055.5 423.4 1055.7 419.9 1055.8 423.5 1056.0 425.4 1056.2 425.0 1056.4 424.0 1056.5 424.0 1056.7 425.0 1056.9 427.2 1057.0 428.6 1057.2 426.0 1057.6 429.5 1058.1 429.3 1058.5 430.6 1058.9 433.1 1059.4 428.0 1059.8 425.9 1060.2 429.3 1060.7 426.7 1061.1 426.1 1061.5 423.6 1062.0 422.7 1062.4 422.7 1062.8 425.0 1063.3 426.9 1063.7 424.0 1064.1 423.4 1064.6 425.3 1065.0 425.3 1065.4 425.4 1065.9 425.5 1066.3 423.2 1066.7 422.9 1067.2 424.8 1067.6 422.5 1068.0 422.8 1068.5 424.5 1068.9 424.8 1069.0 421.0 1069.1 423.1 1069.3 420.5 1069.4 421.6 1069.5 421.7 1069.6 423.2 1069.7 419.3 1069.9 420.4 1070.0 421.1 1070.1 421.6 1070.2 417.2 1070.4 418.3 1070.5 420.1 1070.6 418.9 1070.7 418.8 1070.8 415.5 1071.0 416.4 1071.1 416.7 1071.2 417.2 1071.3 415.0 1071.4 413.4 1071.6 413.4 1071.7 414.9 1071.8 413.7 1071.9 414.4 1072.0 412.1 1072.2 410.4 1072.3 413.0 1072.4 411.7 1072.5 411.1 1072.7 409.7 1072.8 409.2 1072.9 410.9 1073.0 410.6 1073.1 407.9 1073.3 408.7 1073.4 407.4 1073.5 409.0 1073.6 407.6 1073.7 407.3 1073.9 406.2 1074.0 407.0 1074.1 407.0 1074.2 410.1 1074.3 402.9 1074.5 400.7 1074.6 396.0 1074.7 402.1 1074.8 403.2 1074.9 400.2 1075.1 398.3 1075.2 402.1 1075.3 399.9 1075.4 400.6 1075.6 401.3 1075.7 396.8 1075.8 400.4 1075.9 400.9 1076.0 395.8 1076.2 399.2 1076.3 395.6 1076.4 394.8 1076.5 393.4 1076.6 396.0 1076.8 394.6 1076.9 395.6 1077.0 392.4 1077.1 392.3 1077.2 392.7 1077.4 393.9 1077.5 394.3 1077.6 394.7 1077.7 391.2 1077.9 393.0 1078.0 395.3 1078.1 390.9 1078.2 393.2 1078.3 391.9 1078.5 394.1 1078.6 392.4 1078.7 390.6 1078.9 389.9 1079.0 389.3 1079.2 391.9 1079.3 390.4 1079.5 391.4 1079.6 391.8 1079.8 398.9 1080.0 394.4 1080.1 390.5 1080.3 395.5 1080.4 393.2 1080.6 395.2 1080.7 395.5 1080.9 396.4 1081.1 392.6 1081.2 393.2 1081.4 394.8 1081.5 396.5 1081.7 394.3 1081.8 396.0 1082.0 400.2 1082.1 398.7 1082.3 400.1 1082.5 396.9 1082.6 399.5 1082.8 399.6 1082.9 406.9 1083.1 401.9 1083.2 400.9 1083.4 403.0 1083.6 402.7 1083.7 402.5 1083.9 401.7 1084.0 403.7 1084.2 405.0 1084.3 405.1 1084.5 406.4 1084.7 402.7 1084.9 403.9 1085.2 405.4 1085.4 406.2 1085.6 403.7 1085.8 403.0 1086.0 404.1 1086.3 399.7 1086.5 401.1 1086.7 400.4 1086.9 398.1 1087.2 400.1 1087.4 398.3 1087.6 402.3 1087.8 397.3 1088.0 400.1 1088.3 397.2 1088.5 394.6 1088.7 396.8 1088.9 395.3 1089.1 392.9 1089.4 396.2 1089.6 392.0 1089.8 393.6 1090.1 392.4 1090.4 394.1 1090.7 394.9 1091.0 398.3 1091.2 399.0 1091.5 397.4 1091.8 399.4 1092.1 400.1 1092.4 399.0 1092.7 396.7 1093.0 398.5 1093.3 397.8 1093.6 401.0 1093.8 397.4 1094.1 400.2 1094.4 398.4 1094.7 399.6 1095.0 400.9 1095.3 401.8 1095.6 399.8 1095.9 403.4 1096.2 404.6 1096.4 403.0 1096.7 406.1 1097.0 402.5 1097.3 402.5 1097.6 403.2 1097.7 401.8 1097.9 406.0 1098.0 403.1 1098.1 406.3 1098.3 406.1 1098.4 404.5 1098.5 407.2 1098.6 405.4 1098.8 406.8 1098.9 409.0 1099.0 409.8 1099.2 407.6 1099.3 407.7 1099.4 407.7 1099.6 408.3 1099.7 403.1 1099.8 410.8 1100.0 412.0 1100.1 412.6 1100.2 413.4 1100.4 413.5 1100.5 412.6 1100.6 418.3 1100.7 416.2 1100.9 416.0 1101.0 415.6 1101.1 419.5 1101.3 418.9 1101.4 418.7 1101.5 420.7 1101.7 420.0 1101.8 419.9 1101.9 418.7 1102.1 422.1 1102.2 419.9 1102.3 419.5 1102.5 418.0 1102.6 425.8 1102.7 422.9 1102.8 424.3 1103.0 424.3 1103.1 423.7 1103.2 423.5 1103.4 423.3 1103.5 425.8 1103.9 427.4 1104.3 424.2 1104.7 423.9 1105.1 423.4 1105.5 421.4 1105.9 420.6 1106.3 421.6 1106.7 422.8 1107.1 423.1 1107.5 421.3 1107.9 418.8 1108.3 419.0 1108.7 421.4 1109.1 421.4 1109.5 417.3 1109.9 418.9 1110.3 417.7 1110.3 417.8 1110.3 420.0 1110.3 424.1 1110.3 421.6 1110.4 418.8 1110.4 420.0 1110.4 425.9 1110.4 421.3 1110.4 424.2 1110.4 422.8 1110.4 425.6 1110.4 424.8 1110.5 425.5 1110.5 424.1 1110.5 425.5 1110.5 427.7 1110.5 426.4 1110.5 428.0 1110.5 428.6 1110.5 428.5 1110.5 427.7 1110.6 428.2 1110.6 428.8 1110.6 430.1 1110.6 427.5 1110.6 428.4 1110.6 428.3 1110.6 428.3 1110.6 431.5 1110.6 431.4 1110.7 427.4 1110.7 435.3 1110.7 432.9 1110.7 434.7 1110.7 438.9 1110.7 438.3 1110.7 435.2 1110.7 435.1 1110.8 437.1 1110.8 434.8 1110.8 440.6 1110.8 441.6 1110.8 439.2 1110.8 441.2 1110.8 441.0 1110.8 438.7 1110.8 440.7 1110.9 445.5 1110.9 443.5 1110.9 441.2 1110.9 446.1 1110.9 445.8 1110.9 446.0 1110.9 444.9 1110.9 443.9 1111.0 443.4 1111.0 448.2 1111.0 445.7 1111.0 445.1 1111.0 444.5 1111.0 447.0 1111.0 447.6 1111.0 448.1 1111.0 452.4 1111.1 451.0 1111.1 450.8 1111.1 449.8 1111.1 450.3 1111.1 451.5 1111.1 449.4 1111.1 451.5 1111.1 447.9 1111.1 452.2 1111.2 453.1 1111.2 455.9 1111.2 455.6 1111.2 457.5 1111.2 455.9 1111.2 454.0 1111.2 456.8 1111.2 456.2 1111.3 458.9 1111.3 456.4 1111.3 457.1 1111.3 461.7 1111.3 459.8 1111.4 454.8 1111.5 456.6 1111.6 454.3 1111.7 455.0 1111.9 457.9 1112.0 458.3 1112.1 456.1 1112.2 456.9 1112.3 454.9 1112.4 454.3 1112.5 454.2 1112.6 452.1 1112.7 452.0 1112.9 451.7 1113.0 454.2 1113.1 450.2 1113.2 453.8 1113.3 449.3 1113.4 448.9 1113.5 454.5 1113.6 447.4 1113.8 448.8 1113.9 457.6 1114.0 450.8 1114.1 449.2 1114.2 446.4 1114.3 449.1 1114.4 444.4 1114.5 445.9 1114.6 444.3 1114.8 443.7 1114.9 447.0 1115.0 442.6 1115.1 445.1 1115.2 445.1 1115.3 444.9 1115.4 445.4 1115.5 446.5 1115.6 437.3 1115.8 442.2 1115.9 439.4 1116.0 447.2 1116.1 438.0 1116.2 436.9 1116.3 438.9 1116.5 442.5 1116.6 440.4 1116.7 442.2 1116.9 440.5 1117.0 440.3 1117.1 446.0 1117.3 445.0 1117.4 444.8 1117.5 445.0 1117.7 444.7 1117.8 448.7 1117.9 448.1 1118.1 445.0 1118.2 443.7 1118.3 448.8 1118.5 446.0 1118.6 449.7 1118.7 447.0 1118.9 447.1 1119.0 450.4 1119.1 449.2 1119.3 448.9 1119.4 452.7 1119.5 449.9 1119.7 451.9 1119.8 449.9 1119.9 449.0 1120.1 452.0 1120.2 451.5 1120.3 452.3 1120.5 452.2 1120.6 453.7 1120.7 453.5 1120.9 456.5 1121.0 454.6 1121.0 458.8 1121.1 457.6 1121.1 456.5 1121.2 459.0 1121.2 459.0 1121.3 459.9 1121.3 457.2 1121.4 460.9 1121.4 457.2 1121.5 461.1 1121.5 462.4 1121.6 464.1 1121.6 460.3 1121.6 459.4 1121.7 459.9 1121.7 459.6 1121.8 463.0 1121.8 464.0 1121.9 462.8 1121.9 464.0 1122.0 463.2 1122.0 467.8 1122.1 465.9 1122.1 466.6 1122.2 465.3 1122.2 464.5 1122.2 466.7 1122.3 466.6 1122.3 467.6 1122.4 471.1 1122.4 470.3 1122.5 471.8 1122.5 473.7 1122.6 471.5 1122.6 471.5 1122.7 474.4 1122.7 474.2 1122.8 474.2 1122.8 475.1 1122.8 473.0 1122.9 474.0 1122.9 473.9 1123.0 478.4 1123.0 477.4 1123.1 479.5 1123.1 478.4 1123.2 479.3 1123.2 476.7 1123.3 473.6 1123.3 479.9 1123.4 472.1 1123.4 477.0 1123.4 479.1 1123.5 477.0 1123.5 477.6 1123.6 480.0 1123.6 482.3 1123.7 479.7 1123.7 484.9 1123.8 485.4 1123.8 484.0 1123.9 482.9 1123.9 481.1 1124.0 486.5 1124.0 483.6 1124.1 483.6 1124.1 483.1 1124.2 483.0 1124.2 484.3 1124.3 481.6 1124.4 482.8 1124.4 483.0 1124.5 482.5 1124.6 479.1 1124.6 480.1 1124.7 479.3 1124.8 478.7 1124.8 479.6 1124.9 479.5 1124.9 477.8 1125.0 479.9 1125.1 475.8 1125.1 475.3 1125.2 480.0 1125.2 479.5 1125.3 475.0 1125.4 476.8 1125.4 472.5 1125.5 472.5 1125.6 475.2 1125.6 475.3 1125.7 473.9 1125.8 469.7 1125.8 471.4 1125.9 473.4 1125.9 470.8 1126.0 467.6 1126.1 473.1 1126.1 468.2 1126.2 468.1 1126.2 463.9 1126.3 466.4 1126.4 467.3 1126.4 464.1 1126.5 461.8 1126.6 465.4 1126.6 464.9 1126.7 464.2 1126.8 462.0 1126.8 464.7 1126.9 463.0 1126.9 460.9 1127.0 459.4 1127.1 462.6 1127.3 461.4 1127.4 463.9 1127.6 459.4 1127.7 455.2 1127.8 462.0 1128.0 462.3 1128.1 459.0 1128.3 462.5 1128.4 461.8 1128.6 457.3 1128.7 459.7 1128.8 460.6 1129.0 456.6 1129.1 456.4 1129.3 454.8 1129.4 455.7 1129.5 457.1 1129.7 454.9 1129.8 456.9 1130.0 454.2 1130.1 451.7 1130.3 451.1 1130.4 453.6 1130.5 453.8 1130.7 452.2 1130.8 454.9 1131.0 455.1 1131.1 452.3 1131.2 447.6 1131.4 454.3 1131.5 450.8 1131.7 453.5 1131.8 448.8 1132.0 449.8 1132.1 446.7 1132.2 448.1 1132.4 447.7 1132.5 447.2 1132.7 448.1 1132.8 447.3 1133.0 449.0 1133.1 449.1 1133.3 445.4 1133.4 446.7 1133.6 450.1 1133.7 450.9 1133.9 448.4 1134.0 445.2 1134.2 451.3 1134.4 451.0 1134.5 452.3 1134.7 451.3 1134.8 451.7 1135.0 453.7 1135.1 448.7 1135.3 451.8 1135.5 453.8 1135.6 451.6 1135.8 453.2 1135.9 454.1 1136.1 454.5 1136.2 457.9 1136.4 453.1 1136.5 456.2 1136.7 458.9 1136.9 457.0 1137.0 458.0 1137.2 456.9 1137.3 457.2 1137.5 458.7 1137.6 455.9 1137.8 457.3 1137.9 462.4 1138.1 460.5 1138.3 458.1 1138.4 461.0 1138.6 459.4 1138.7 462.8 1138.9 458.2 1139.0 460.1 1139.2 461.9 1139.4 462.8 1139.5 463.8 1139.7 462.9 1139.8 463.9 1140.0 468.2 1140.1 465.2 1140.3 463.5 1140.4 465.1 1140.6 468.1 1140.8 468.6 1141.1 469.7 1141.3 466.2 1141.5 468.5 1141.7 468.5 1142.0 472.7 1142.2 468.9 1142.4 473.3 1142.7 470.4 1142.9 473.9 1143.1 470.0 1143.3 476.3 1143.6 473.0 1143.8 473.7 1144.0 476.6 1144.3 475.3 1144.5 474.2 1144.7 475.6 1144.9 474.8 1145.2 475.6 1145.4 474.4 1145.6 474.9 1145.9 476.1 1146.1 476.3 1146.3 475.2 1146.5 477.4 1146.8 472.9 1147.0 477.0 1147.2 478.0 1147.4 479.4 1147.7 479.0 1147.9 480.3 1148.1 482.6 1148.4 478.4 1148.6 482.3 1148.8 478.6 1149.0 481.1 1149.3 482.8 1149.5 482.1 1149.7 479.5 1150.0 485.5 1150.2 478.8 1150.4 484.5 1150.6 483.7 1150.9 486.6 1151.1 488.2 1151.3 484.4 1151.6 484.9 1151.8 484.6 1152.0 486.8 1152.2 489.8 1152.5 487.5 1152.7 490.3 1152.9 486.4 1153.2 486.1 1153.4 488.9 1153.6 488.2 1153.8 487.9 1154.1 490.7 1154.3 490.5 1154.5 485.2 1154.6 487.4 1154.8 491.2 1155.0 488.1 1155.1 490.4 1155.3 487.1 1155.5 486.7 1155.6 487.4 1155.8 486.9 1156.0 488.2 1156.1 482.4 1156.3 481.6 1156.5 480.5 1156.6 483.1 1156.8 482.3 1157.0 483.9 1157.1 483.9 1157.3 483.4 1157.5 483.1 1157.6 482.5 1157.8 483.7 1158.0 482.0 1158.2 485.3 1158.3 481.4 1158.5 480.2 1158.7 482.9 1158.8 482.2 1159.0 481.9 1159.2 479.8 1159.3 478.9 1159.5 480.7 1159.7 477.3 1159.8 474.9 1160.0 474.5 1160.2 475.4 1160.3 475.3 1160.5 473.5 1160.7 474.8 1160.8 472.5 1161.0 473.4 1161.2 475.1 1161.3 475.0 1161.5 474.0 1161.7 473.3 1161.8 473.0 1162.0 472.1 1162.1 469.0 1162.2 472.9 1162.3 469.3 1162.4 468.7 1162.5 469.7 1162.6 465.5 1162.7 468.3 1162.8 465.1 1162.9 465.6 1163.0 467.4 1163.1 464.4 1163.2 465.0 1163.3 462.9 1163.4 463.4 1163.5 466.2 1163.6 458.5 1163.7 463.2 1163.8 460.8 1163.9 461.2 1164.1 459.9 1164.2 459.5 1164.3 456.9 1164.4 460.3 1164.5 455.5 1164.6 459.5 1164.7 455.9 1164.8 459.6 1164.9 456.6 1165.0 456.9 1165.1 457.3 1165.2 447.6 1165.3 456.8 1165.4 455.9 1165.5 454.2 1165.6 453.4 1165.7 454.0 1165.8 452.5 1165.9 453.3 1166.0 452.3 1166.2 451.3 1166.3 453.3 1166.5 454.2 1166.6 454.0 1166.8 452.4 1167.0 458.3 1167.1 459.0 1167.3 459.6 1167.5 458.4 1167.6 459.9 1167.8 457.3 1167.9 461.9 1168.1 460.8 1168.3 460.0 1168.4 459.1 1168.6 460.0 1168.7 456.1 1168.9 457.1 1169.1 459.6 1169.2 461.5 1169.4 458.6 1169.5 462.3 1169.7 464.1 1169.9 465.4 1170.0 461.6 1170.2 461.5 1170.3 468.1 1170.5 467.6 1170.7 466.8 1170.8 469.0 1171.0 464.9 1171.2 467.5 1171.3 467.3 1171.5 467.8 1171.6 467.7 1171.8 471.4 1172.1 468.2 1172.5 471.2 1172.8 470.1 1173.1 472.5 1173.4 473.4 1173.8 473.8 1174.1 469.5 1174.4 467.7 1174.8 471.3 1175.1 469.0 1175.4 465.7 1175.8 472.5 1176.1 469.5 1176.4 471.5 1176.7 475.8 1177.1 474.6 1177.4 476.3 1177.7 477.2 1178.1 479.2 1178.4 474.0 1178.7 475.2 1179.0 478.9 1179.4 475.3 1179.7 475.4 1179.9 476.4 1180.0 475.0 1180.2 478.2 1180.3 477.8 1180.5 478.8 1180.6 478.9 1180.8 478.1 1181.0 477.5 1181.1 474.0 1181.3 476.7 1181.4 473.6 1181.6 470.7 1181.7 470.0 1181.9 471.6 1182.1 469.8 1182.2 472.6 1182.4 468.7 1182.5 468.6 1182.7 468.3 1182.8 469.1 1183.0 469.5 1183.1 475.8 1183.3 466.1 1183.5 462.0 1183.6 466.1 1183.8 469.0 1183.9 468.3 1184.1 464.1 1184.2 465.4 1184.4 464.5 1184.6 464.1 1184.7 462.0 1184.9 465.7 1185.0 462.7 1185.2 464.5 1185.3 460.1 1185.5 461.4 1185.7 463.3 1186.0 462.3 1186.2 462.2 1186.4 455.7 1186.6 462.6 1186.9 462.3 1187.1 463.1 1187.3 463.1 1187.6 465.4 1187.8 461.2 1188.0 462.6 1188.2 467.6 1188.5 465.8 1188.7 469.3 1188.9 465.5 1189.2 469.7 1189.4 466.0 1189.6 467.9 1189.8 466.3 1190.1 468.2 1190.3 469.6 1190.5 466.4 1190.8 468.0 1191.0 471.0 1191.2 471.2 1191.4 472.6 1191.7 465.0 1191.9 470.2 1192.1 474.4 1192.3 473.9 1192.6 471.8 1192.8 471.3 1193.0 472.9 1193.3 470.9 1193.5 474.4 1193.7 476.7 1193.9 477.0 1194.2 477.2 1194.4 475.1 1194.6 474.6 1194.9 475.5 1195.1 479.3 1195.3 479.9 1195.5 477.6 1195.8 482.8 1196.0 483.8 1196.2 480.4 1196.5 480.7 1196.7 479.6 1196.9 480.0 1197.1 479.2 1197.4 483.3 1197.6 483.3 1197.8 482.6 1198.1 480.4 1198.3 484.4 1198.5 485.8 1198.7 485.6 1199.0 482.1 1199.2 486.5 1199.5 485.2 1199.7 486.2 1200.0 487.6 1200.2 487.8 1200.5 486.4 1200.7 487.8 1201.0 484.7 1201.2 488.1 1201.5 489.1 1201.7 489.0 1202.0 489.8 1202.2 497.1 1202.5 489.9 1202.7 488.5 1203.0 489.3 1203.2 484.2 1203.5 490.2 1203.7 488.5 1204.0 494.9 1204.2 496.0 1204.5 494.3 1204.7 494.7 1205.0 494.5 1205.2 493.5 1205.5 491.7 1205.7 492.4 1206.0 495.3 1206.2 495.7 1206.5 494.1 1206.7 495.6 1207.0 495.7 1207.2 494.6 1207.4 495.2 1207.6 494.7 1207.8 491.2 1207.9 495.9 1208.1 496.0 1208.3 495.1 1208.5 492.5 1208.7 490.7 1208.9 493.4 1209.1 490.4 1209.3 492.4 1209.5 493.8 1209.6 488.3 1209.8 491.0 1210.0 490.4 1210.2 489.2 1210.4 489.4 1210.6 487.0 1210.8 491.2 1211.0 486.6 1211.2 487.9 1211.3 489.5 1211.5 488.3 1211.7 482.1 1211.9 488.3 1212.1 486.7 1212.3 485.9 1212.5 484.0 1212.7 484.7 1212.8 483.9 1213.0 484.5 1213.2 484.3 1213.4 481.5 1213.6 478.0 1213.8 479.7 1214.0 479.1 1214.2 478.0 1214.4 481.9 1214.5 482.4 1214.7 481.2 1214.9 477.5 1215.1 478.0 1215.3 479.3 1215.5 483.2 1215.7 476.4 1215.9 477.7 1216.1 478.1 1216.2 475.2 1216.4 474.8 1216.6 474.4 1216.8 473.3 1217.0 475.8 1217.2 475.6 1217.4 470.9 1217.6 474.9 1217.8 474.5 1217.9 474.0 1218.1 471.1 1218.3 472.3 1218.5 470.6 1218.7 473.2 1218.8 471.2 1219.0 473.4 1219.1 472.9 1219.2 472.9 1219.4 475.3 1219.5 477.8 1219.6 476.9 1219.8 475.6 1219.9 473.4 1220.0 475.8 1220.2 472.3 1220.3 475.9 1220.4 476.3 1220.6 475.1 1220.7 476.2 1220.8 480.0 1220.9 480.9 1221.1 480.6 1221.2 480.4 1221.3 480.3 1221.5 479.1 1221.6 478.4 1221.7 478.5 1221.9 483.1 1222.0 482.0 1222.1 483.5 1222.3 480.9 1222.4 481.6 1222.5 485.6 1222.7 482.3 1222.8 485.4 1222.9 485.4 1223.1 485.3 1223.2 484.6 1223.3 488.0 1223.5 489.6 1223.6 488.7 1223.7 486.9 1223.9 489.0 1224.0 492.4 1224.1 493.1 1224.3 494.4 1224.4 490.3 1224.5 491.2 1224.6 494.1 1224.8 493.1 1224.9 494.1 1225.0 493.7 1225.2 491.9 1225.3 493.3 1225.4 490.5 1225.6 492.6 1225.7 490.7 1225.8 492.9 1226.0 501.3 1226.1 494.8 1226.2 493.3 1226.4 494.7 1226.5 493.8 1226.8 495.4 1227.2 493.1 1227.5 499.1 1227.9 492.6 1228.2 491.2 1228.6 494.9 1228.9 491.8 1229.3 491.6 1229.6 490.7 1230.0 494.9 1230.3 495.1 1230.6 492.3 1231.0 490.4 1231.3 491.7 1231.7 491.6 1232.0 496.5 1232.4 488.7 1232.7 490.3 1233.1 485.0 1233.4 490.2 1233.8 490.7 1234.1 489.0 1234.4 487.7 1234.8 490.3 1235.1 491.6 1235.5 487.6 1235.8 490.3 1236.2 489.4 1236.5 487.7 1236.9 486.5 1237.2 483.8 1237.6 487.7 1237.9 486.9 1238.2 489.5 1238.5 489.0 1238.7 488.7 1239.0 486.7 1239.2 485.3 1239.4 488.9 1239.7 488.5 1239.9 487.3 1240.1 487.7 1240.4 489.3 1240.6 492.6 1240.8 490.0 1241.1 489.2 1241.3 488.0 1241.5 490.0 1241.8 489.5 1242.0 492.0 1242.2 491.0 1242.5 492.6 1242.7 492.8 1243.0 492.5 1243.2 495.1 1243.4 496.5 1243.7 497.0 1243.9 490.7 1244.1 497.0 1244.4 495.7 1244.6 499.4 1244.8 495.9 1245.1 497.2 1245.3 500.1 1245.5 501.6 1245.8 498.0 1246.0 501.5 1246.2 499.1 1246.5 500.0 1246.7 502.2 1246.9 500.7 1247.2 504.2 1247.4 505.3 1247.7 503.1 1247.9 504.7 1248.1 504.4 1248.4 504.9 1248.6 506.1 1248.8 502.6 1249.1 505.3 1249.3 509.1 1249.5 506.6 1249.8 506.6 1250.0 504.2 1250.3 505.1 1250.5 508.6 1250.8 506.6 1251.1 505.3 1251.4 503.3 1251.6 504.2 1251.9 505.3 1252.2 503.3 1252.4 500.7 1252.7 498.6 1253.0 500.6 1253.3 497.1 1253.5 502.3 1253.8 500.6 1254.1 503.9 1254.4 497.2 1254.6 497.7 1254.9 501.5 1255.2 500.1 1255.4 499.8 1255.7 502.6 1256.0 498.7 1256.3 497.2 1256.5 493.5 1256.8 496.6 1257.1 493.5 1257.3 494.3 1257.6 492.8 1257.9 495.3 1258.2 491.7 1258.4 492.0 1258.7 495.5 1259.0 494.6 1259.3 492.9 1259.5 491.0 1259.8 491.5 1260.1 494.3 1260.3 490.1 1260.6 493.9 1260.9 494.7 1261.2 489.9 1261.4 492.3 1261.7 491.0 1261.9 491.6 1262.1 491.2 1262.3 492.9 1262.5 491.2 1262.6 491.9 1262.8 494.1 1263.0 494.5 1263.2 493.0 1263.4 492.2 1263.6 495.6 1263.8 497.1 1264.0 496.1 1264.2 495.4 1264.3 491.9 1264.5 497.4 1264.7 495.7 1264.9 498.8 1265.1 495.6 1265.3 498.3 1265.5 502.0 1265.7 502.8 1265.8 500.9 1266.0 500.5 1266.2 501.0 1266.4 505.3 1266.6 502.6 1266.8 504.2 1267.0 503.6 1267.2 495.3 1267.4 502.2 1267.5 503.6 1267.7 507.8 1267.9 504.0 1268.1 503.7 1268.3 503.6 1268.5 508.2 1268.7 507.0 1268.9 505.1 1269.0 508.0 1269.2 510.8 1269.4 508.5 1269.6 508.2 1269.8 502.9 1270.0 503.5 1270.2 507.8 1270.4 511.4 1270.6 508.8 1270.7 509.5 1270.9 508.7 1271.1 508.5 1271.3 513.0 1271.5 512.9 1271.8 516.2 1272.2 511.8 1272.5 512.3 1272.8 508.7 1273.1 508.7 1273.5 511.9 1273.8 513.5 1274.1 512.2 1274.4 512.4 1274.8 508.7 1275.1 508.9 1275.4 510.5 1275.7 507.5 1276.0 509.8 1276.4 509.5 1276.7 508.5 1277.0 507.7 1277.3 506.0 1277.7 503.0 1278.0 503.0 1278.3 507.0 1278.6 505.1 1279.0 507.1 1279.3 506.1 1279.4 506.6 1279.5 503.4 1279.6 502.7 1279.7 504.5 1279.8 504.6 1279.9 503.0 1280.0 503.6 1280.0 500.0 1280.1 504.2 1280.2 499.0 1280.3 499.5 1280.4 498.5 1280.5 500.3 1280.6 496.9 1280.7 506.0 1280.8 495.2 1280.9 488.4 1281.0 493.9 1281.1 497.9 1281.2 491.9 1281.3 495.0 1281.4 492.6 1281.4 494.3 1281.5 496.2 1281.6 496.2 1281.7 494.6 1281.8 494.7 1281.9 494.1 1282.0 492.8 1282.1 493.1 1282.2 491.9 1282.3 489.2 1282.4 490.0 1282.5 489.3 1282.6 489.6 1282.7 489.5 1282.8 485.9 1282.9 488.4 1282.9 489.3 1283.0 489.6 1283.1 492.0 1283.2 492.2 1283.3 488.6 1283.4 486.0 1283.5 486.9 1283.6 486.8 1283.7 484.1 1283.8 485.5 1283.9 485.7 1284.0 484.9 1284.1 484.3 1284.2 482.7 1284.3 479.2 1284.3 481.3 1284.4 478.9 1284.5 479.0 1284.6 478.1 1284.7 478.6 1284.8 477.6 1284.9 479.4 1285.0 476.6 1285.4 473.4 1285.8 474.0 1286.2 474.2 1286.6 473.5 1287.0 472.0 1287.4 469.9 1287.8 474.8 1288.2 476.6 1288.6 475.9 1289.0 472.5 1289.4 476.1 1289.8 470.9 1290.1 473.9 1290.5 470.6 1290.9 470.5 1291.3 469.3 1291.7 470.1 1292.1 471.6 1292.5 471.2 1292.9 467.4 1293.3 468.2 1293.7 466.4 1294.1 469.3 1294.5 469.7 1294.9 469.9 1295.2 471.5 1295.6 472.4 1295.9 470.3 1296.2 473.9 1296.6 473.4 1296.9 473.8 1297.2 472.0 1297.6 473.2 1297.9 467.9 1298.2 468.5 1298.6 467.4 1298.9 470.6 1299.2 466.1 1299.6 470.2 1299.9 468.2 1300.2 469.3 1300.6 466.0 1300.9 462.8 1301.3 463.8 1301.6 462.8 1301.9 460.6 1302.3 464.2 1302.6 464.9 1302.9 465.0 1303.3 461.7 1303.6 464.0 1303.9 462.1 1304.3 460.5 1304.6 458.9 1304.9 462.8 1305.3 460.2 1305.6 460.3 1305.9 458.6 1306.3 462.4 1306.6 459.4 1307.0 461.0 1307.5 459.1 1307.9 462.7 1308.4 459.8 1308.8 458.8 1309.3 458.8 1309.8 462.3 1310.2 459.0 1310.6 461.1 1311.1 461.4 1311.5 460.8 1312.0 459.1 1312.4 462.0 1312.9 463.8 1313.3 462.2 1313.8 465.2 1314.2 462.9 1314.7 458.9 1315.1 463.3 1315.6 464.6 1316.0 466.1 1316.5 465.6 1317.0 462.1 1317.4 461.2 1317.8 459.3 1318.3 466.7 1318.4 465.8 1318.6 464.6 1318.7 465.7 1318.8 464.2 1319.0 466.4 1319.1 467.6 1319.2 464.5 1319.3 465.0 1319.5 468.2 1319.6 464.5 1319.7 464.0 1319.9 465.2 1320.0 467.0 1320.1 470.4 1320.3 464.8 1320.4 469.2 1320.5 471.8 1320.7 469.3 1320.8 474.0 1320.9 472.6 1321.1 471.1 1321.2 470.7 1321.3 471.6 1321.4 471.1 1321.6 471.9 1321.7 472.4 1321.8 475.4 1322.0 475.0 1322.1 475.6 1322.2 475.5 1322.4 477.0 1322.5 476.1 1322.6 479.0 1322.8 479.1 1322.9 477.6 1323.0 480.8 1323.2 480.2 1323.3 478.9 1323.4 479.6 1323.5 482.2 1323.7 482.2 1323.8 483.6 1323.9 483.0 1324.1 483.5 1324.2 484.0 1324.4 478.5 1324.6 481.7 1324.9 478.6 1325.1 487.1 1325.3 485.5 1325.5 481.4 1325.8 482.8 1326.0 485.1 1326.2 489.1 1326.4 488.9 1326.7 487.1 1326.9 487.2 1327.1 489.8 1327.3 487.7 1327.5 492.6 1327.8 490.9 1328.0 489.0 1328.2 490.9 1328.4 487.4 1328.7 489.0 1328.9 492.3 1329.1 490.1 1329.3 490.2 1329.5 493.2 1329.8 489.3 1330.0 490.9 1330.2 493.4 1330.4 492.1 1330.7 494.6 1330.9 496.1 1331.1 498.1 1331.3 497.5 1331.5 497.2 1331.8 497.2 1332.0 497.8 1332.2 498.1 1332.4 499.0 1332.7 495.7 1332.9 497.9 1333.1 499.7 1333.3 503.3 1333.6 504.3 1333.8 503.4 1334.0 501.0 1334.2 500.2 1334.3 498.6 1334.5 500.2 1334.6 497.4 1334.8 500.8 1334.9 500.7 1335.1 502.3 1335.2 498.9 1335.4 497.2 1335.6 495.6 1335.7 497.3 1335.9 497.1 1336.0 497.3 1336.2 494.4 1336.3 496.6 1336.5 496.6 1336.7 492.8 1336.8 492.7 1337.0 490.9 1337.1 491.2 1337.3 493.4 1337.4 494.2 1337.6 493.0 1337.7 493.1 1337.9 489.5 1338.1 485.7 1338.2 490.2 1338.4 485.2 1338.5 484.5 1338.7 486.2 1338.8 488.5 1339.0 489.0 1339.1 487.8 1339.3 484.0 1339.5 483.0 1339.6 483.1 1339.8 488.0 1339.9 486.6 1340.1 482.3 1340.2 482.3 1340.4 485.4 1340.6 481.6 1340.7 484.8 1340.9 482.8 1341.0 481.3 1341.2 479.6 1341.3 477.0 1341.5 476.7 1341.6 482.9 1341.8 481.3 1342.1 483.6 1342.5 471.9 1342.8 475.5 1343.2 476.9 1343.5 473.8 1343.9 477.3 1344.2 475.6 1344.6 474.3 1344.9 475.7 1345.2 473.8 1345.6 475.5 1345.9 472.8 1346.3 475.4 1346.6 475.6 1347.0 475.6 1347.3 475.3 1347.7 476.3 1348.0 479.0 1348.3 475.0 1348.7 474.8 1349.0 473.4 1349.4 470.7 1349.7 472.7 1350.1 471.1 1350.4 475.0 1350.7 471.1 1351.1 469.5 1351.4 470.7 1351.8 471.8 1352.1 469.8 1352.5 472.4 1352.8 467.8 1353.2 470.2 1353.5 469.0 1353.7 468.4 1354.0 471.0 1354.2 470.6 1354.5 468.9 1354.7 471.0 1355.0 469.2 1355.2 467.4 1355.5 467.6 1355.7 469.9 1356.0 472.2 1356.2 469.6 1356.5 475.1 1356.7 476.9 1357.0 474.0 1357.2 473.7 1357.5 473.4 1357.7 469.0 1358.0 474.4 1358.2 471.1 1358.5 476.4 1358.7 474.3 1359.0 478.7 1359.2 478.8 1359.5 477.8 1359.7 479.3 1360.0 479.6 1360.2 481.0 1360.5 478.9 1360.7 479.1 1361.0 482.2 1361.2 481.7 1361.5 483.5 1361.7 482.8 1362.0 481.0 1362.2 479.8 1362.5 485.7 1362.7 483.2 1363.0 481.9 1363.2 486.8 1363.5 485.6 1363.7 486.5 1364.0 482.3 1364.2 486.2 1364.5 487.1 1364.7 487.2 1365.0 485.8 1365.2 485.3 1365.4 485.8 1365.5 483.0 1365.7 483.8 1365.9 484.1 1366.1 483.9 1366.2 481.7 1366.4 483.9 1366.6 484.5 1366.8 482.3 1367.0 483.8 1367.1 484.5 1367.3 483.1 1367.5 479.4 1367.7 479.2 1367.8 480.2 1368.0 480.8 1368.2 476.7 1368.4 474.6 1368.5 473.9 1368.7 475.8 1368.9 475.0 1369.0 475.5 1369.2 473.1 1369.4 478.8 1369.6 477.2 1369.8 478.1 1369.9 474.2 1370.1 473.8 1370.3 476.6 1370.5 477.4 1370.6 474.5 1370.8 475.4 1371.0 472.8 1371.2 473.3 1371.3 470.9 1371.5 472.4 1371.7 472.9 1371.8 472.6 1372.0 471.9 1372.2 469.2 1372.4 468.4 1372.5 467.7 1372.7 466.1 1372.9 465.1 1373.1 467.3 1373.2 468.7 1373.4 466.3 1373.6 467.5 1373.8 466.5 1374.0 464.4 1374.1 465.4 1374.3 463.2 1374.5 462.2 1374.7 461.3 1374.8 458.3 1375.0 459.4 1375.3 462.0 1375.7 460.1 1376.0 462.2 1376.4 461.1 1376.7 464.0 1377.0 467.6 1377.4 465.8 1377.7 466.3 1378.1 465.6 1378.4 468.6 1378.7 468.2 1379.1 467.6 1379.4 466.6 1379.7 471.8 1380.1 465.4 1380.4 470.0 1380.8 470.4 1381.1 471.4 1381.4 471.8 1381.8 468.3 1382.1 470.2 1382.5 471.5 1382.8 469.6 1383.1 470.6 1383.5 469.7 1383.8 468.8 1384.2 471.1 1384.5 471.1 1384.8 470.7 1385.2 470.2 1385.5 474.6 1385.9 473.7 1386.2 471.0 1386.5 473.4 1386.9 471.2 1387.2 473.9 1387.5 472.4 1387.9 473.1 1388.2 475.1 1388.6 476.8 1388.9 475.6 1389.2 475.5 1389.6 478.3 1389.9 475.0 1390.3 476.5 1390.6 476.9 1390.8 478.9 1391.0 477.1 1391.3 475.0 1391.5 479.3 1391.7 475.7 1391.9 479.0 1392.2 474.1 1392.4 472.8 1392.6 480.9 1392.8 474.1 1393.1 473.5 1393.3 474.5 1393.5 471.8 1393.7 473.2 1393.9 464.3 1394.2 469.0 1394.4 468.0 1394.6 469.1 1394.8 469.5 1395.1 462.2 1395.3 472.2 1395.5 468.0 1395.7 467.7 1395.9 469.4 1396.2 467.9 1396.4 467.3 1396.6 469.8 1396.8 464.8 1397.1 467.9 1397.3 465.7 1397.5 464.1 1397.7 462.5 1398.0 463.4 1398.2 462.5 1398.4 460.1 1398.8 462.7 1399.2 462.3 1399.7 463.4 1400.1 464.1 1400.5 461.5 1400.9 461.7 1401.3 463.7 1401.7 462.4 1402.2 460.7 1402.6 461.7 1403.0 464.4 1403.4 463.3 1403.8 463.2 1404.2 461.1 1404.7 457.7 1405.1 459.3 1405.5 460.6 1405.9 458.1 1406.3 458.8 1406.8 458.1 1407.2 460.0 1407.6 458.6 1408.0 459.5 1408.4 458.6 1408.8 469.1 1409.3 460.7 1409.7 461.4 1410.1 460.2 1410.4 458.5 1410.7 461.0 1411.0 459.0 1411.2 459.9 1411.5 459.0 1411.8 459.5 1412.1 462.6 1412.4 458.3 1412.7 462.6 1413.0 460.2 1413.2 461.4 1413.5 465.6 1413.8 468.8 1414.1 463.7 1414.4 462.7 1414.7 466.9 1415.0 468.3 1415.2 464.4 1415.5 466.7 1415.8 467.2 1416.1 467.2 1416.4 468.1 1416.7 468.4 1416.9 465.3 1417.2 464.2 1417.5 465.9 1417.8 464.8 1418.1 469.1 1418.4 465.5 1418.7 467.0 1418.9 466.6 1419.2 468.2 1419.5 470.6 1419.8 468.6 1420.1 470.5 1420.4 471.8 1420.7 471.4 1420.9 471.4 1421.2 472.7 1421.5 478.4 1421.8 474.9 1422.1 475.3 1422.3 474.0 1422.6 475.0 1422.9 472.2 1423.2 475.8 1423.4 472.3 1423.7 476.3 1424.0 473.8 1424.3 476.4 1424.5 476.3 1424.8 478.5 1425.1 481.6 1425.4 477.3 1425.6 483.2 1425.9 481.1 1426.2 480.7 1426.5 480.6 1426.7 482.9 1427.0 479.3 1427.3 482.4 1427.6 480.5 1427.8 480.6 1428.1 479.8 1428.4 482.0 1428.7 484.0 1428.9 481.9 1429.2 483.6 1429.5 481.4 1429.8 479.6 1430.0 484.2 1430.3 486.1 1430.6 485.8 1430.9 483.9 1431.1 485.7 1431.4 484.7 1431.7 483.7 1432.0 484.6 1432.2 487.4 1432.5 486.0 1432.8 488.7 1433.1 489.1 1433.3 489.4 1433.6 490.4 1434.0 490.4 1434.4 490.9 1434.8 486.6 1435.2 488.4 1435.6 489.5 1436.0 488.2 1436.4 489.4 1436.8 484.6 1437.2 485.3 1437.6 484.4 1438.0 481.9 1438.4 483.6 1438.8 483.0 1439.2 485.7 1439.7 482.5 1440.1 486.7 1440.5 486.5 1440.9 486.0 1441.3 484.8 1441.7 486.6 1442.1 483.3 1442.5 483.4 1442.9 484.7 1443.3 485.8 1443.7 482.6 1444.1 484.0 1444.5 482.1 1444.9 481.1 1445.3 484.1 1445.6 479.4 1445.9 482.3 1446.2 482.2 1446.6 482.4 1446.9 478.2 1447.2 479.0 1447.5 478.5 1447.8 479.4 1448.1 476.6 1448.4 478.9 1448.8 478.0 1449.1 478.4 1449.4 478.3 1449.7 476.0 1450.0 475.3 1450.3 479.5 1450.6 478.8 1451.0 475.1 1451.3 475.5 1451.6 476.7 1451.9 473.9 1452.2 478.8 1452.5 474.9 1452.8 475.0 1453.2 476.9 1453.5 476.2 1453.8 475.2 1454.1 478.1 1454.4 476.4 1454.7 475.9 1455.0 474.2 1455.4 472.1 1455.7 473.2 1456.0 475.4 1456.3 475.8 1456.6 474.5 1456.9 472.7 1457.2 472.5 1457.6 471.3 1457.9 471.9 1458.2 467.6 1458.5 469.9 1458.8 468.8 1459.1 466.4 1459.4 467.9 1459.8 467.3 1460.1 465.3 1460.4 463.8 1460.7 467.5 1461.0 462.9 1461.3 464.3 1461.6 467.9 1462.0 467.7 1462.3 464.9 1462.6 467.7 1462.9 466.8 1463.2 464.5 1463.5 461.4 1463.8 466.4 1464.1 467.7 1464.4 466.6 1464.7 466.0 1465.0 469.1 1465.3 468.2 1465.6 466.6 1465.9 464.7 1466.2 466.5 1466.5 468.2 1466.8 471.6 1467.1 470.2 1467.4 465.2 1467.8 467.5 1468.1 467.6 1468.4 469.9 1468.7 469.1 1469.0 466.2 1469.3 469.0 1469.6 469.9 1469.9 470.7 1470.2 472.9 1470.5 474.4 1470.8 474.6 1471.1 473.3 1471.4 472.4 1471.7 477.1 1472.0 474.1 1472.3 472.6 1472.6 474.5 1473.0 473.2 1473.5 475.0 1473.9 475.8 1474.3 477.6 1474.7 476.7 1475.2 469.3 1475.6 472.0 1476.0 473.2 1476.5 481.5 1476.9 475.7 1477.3 473.8 1477.8 473.2 1478.2 474.0 1478.6 476.6 1479.0 470.1 1479.5 470.8 1479.9 473.6 1480.0 475.7 1480.1 474.6 1480.2 472.2 1480.3 475.0 1480.3 470.9 1480.4 470.2 1480.5 472.0 1480.6 476.0 1480.7 470.3 1480.8 468.5 1480.9 466.5 1481.0 469.3 1481.1 468.4 1481.1 469.1 1481.2 466.7 1481.3 466.4 1481.4 463.0 1481.5 461.9 1481.6 462.6 1481.7 459.9 1481.8 464.5 1481.8 462.4 1481.9 462.7 1482.0 457.8 1482.1 460.5 1482.2 460.2 1482.3 457.0 1482.4 457.7 1482.5 456.9 1482.6 452.6 1482.6 455.5 1482.7 457.1 1482.8 454.2 1482.9 455.5 1483.0 455.8 1483.1 455.1 1483.2 450.3 1483.3 454.0 1483.4 454.8 1483.4 456.0 1483.5 451.7 1483.6 450.8 1483.7 453.7 1483.8 454.8 1484.1 452.7 1484.4 455.5 1484.8 455.7 1485.1 453.7 1485.4 454.9 1485.7 452.3 1486.1 451.3 1486.4 449.8 1486.7 450.4 1487.0 448.6 1487.3 448.5 1487.7 447.1 1488.0 446.1 1488.3 447.9 1488.6 445.2 1489.0 447.7 1489.3 447.1 1489.6 445.9 1489.7 444.4 1489.8 446.2 1489.9 442.9 1490.0 441.8 1490.0 442.1 1490.1 445.1 1490.2 441.9 1490.3 444.8 1490.4 442.3 1490.5 442.8 1490.6 443.6 1490.7 440.9 1490.8 442.8 1490.8 442.7 1490.9 439.8 1491.0 439.4 1491.1 439.8 1491.2 435.8 1491.3 436.3 1491.4 435.7 1491.5 433.6 1491.5 434.7 1491.6 436.4 1491.7 434.8 1491.8 432.8 1491.9 434.0 1492.0 435.8 1492.1 430.2 1492.2 433.6 1492.3 434.0 1492.3 430.0 1492.4 431.9 1492.5 432.3 1492.6 433.1 1492.7 433.3 1492.8 431.0 1492.9 432.3 1493.0 431.3 1493.1 433.0 1493.1 429.6 1493.2 427.0 1493.3 426.0 1493.4 428.4 1493.5 426.7 1493.7 429.3 1493.9 427.3 1494.1 423.9 1494.3 431.5 1494.5 429.5 1494.7 428.3 1494.9 428.8 1495.1 426.1 1495.3 429.4 1495.5 432.5 1495.7 433.4 1495.9 433.5 1496.1 434.4 1496.3 432.0 1496.6 433.9 1496.8 434.2 1497.0 436.6 1497.2 434.1 1497.4 434.0 1497.6 439.0 1497.8 434.9 1498.0 435.2 1498.2 437.3 1498.4 436.3 1498.6 438.6 1498.8 441.0 1499.0 438.8 1499.2 439.2 1499.4 438.8 1499.8 438.4 1500.2 440.4 1500.6 440.9 1501.0 445.0 1501.4 441.3 1501.8 437.8 1502.1 439.0 1502.5 439.6 1502.9 441.7 1503.3 443.7 1503.7 442.8 1504.1 442.7 1504.5 439.3 1504.9 438.2 1505.3 440.3 1505.7 439.4 1506.1 440.8 1506.5 439.7 1506.8 442.3 1507.2 441.0 1507.6 442.0 1508.0 446.4 1508.4 445.4 1508.8 448.6 1509.2 447.9 1509.3 443.0 1509.5 442.5 1509.6 447.6 1509.8 442.4 1509.9 445.5 1510.0 444.9 1510.2 440.2 1510.3 438.1 1510.5 439.6 1510.6 445.3 1510.8 441.5 1510.9 438.5 1511.0 440.1 1511.2 437.8 1511.3 440.2 1511.5 437.8 1511.6 437.4 1511.7 436.7 1511.9 437.5 1512.0 432.6 1512.2 433.4 1512.3 433.2 1512.5 435.0 1512.6 433.5 1512.7 432.7 1512.9 431.9 1513.0 434.2 1513.2 433.3 1513.3 434.9 1513.4 435.5 1513.6 431.3 1513.7 432.8 1513.9 432.1 1514.0 429.5 1514.2 431.3 1514.3 428.7 1514.4 429.5 1514.6 430.0 1514.7 427.5 1514.9 429.9 1515.0 427.3 1515.3 427.2 1515.7 427.9 1516.0 429.9 1516.3 431.0 1516.6 425.7 1517.0 428.0 1517.3 427.0 1517.6 425.0 1517.9 425.8 1518.2 421.0 1518.6 424.4 1518.9 424.7 1519.2 424.0 1519.5 422.8 1519.9 420.3 1520.2 417.3 1520.5 417.6 1520.8 420.3 1521.2 422.4 1521.5 421.8 1521.8 422.6 1522.1 423.6 1522.5 420.7 1522.8 424.4 1522.9 420.5 1523.0 420.2 1523.0 422.6 1523.1 423.4 1523.2 421.2 1523.2 421.3 1523.3 424.2 1523.4 421.7 1523.5 421.0 1523.5 423.8 1523.6 419.9 1523.7 430.5 1523.8 421.3 1523.8 424.5 1523.9 422.4 1524.0 422.8 1524.1 426.4 1524.2 426.6 1524.2 429.3 1524.3 428.6 1524.4 432.0 1524.5 429.1 1524.5 426.8 1524.6 430.2 1524.7 429.6 1524.8 430.9 1524.8 430.3 1524.9 431.6 1525.0 431.6 1525.0 432.0 1525.1 428.9 1525.2 432.2 1525.3 431.3 1525.3 434.6 1525.4 433.0 1525.5 436.6 1525.6 436.8 1525.7 437.0 1525.7 442.2 1525.8 437.6 1525.9 438.3 1526.0 439.0 1526.0 439.7 1526.1 439.3 1526.2 439.1 1526.2 442.6 1526.3 442.0 1526.4 444.4 1526.5 442.2 1526.5 441.1 1526.6 443.7 1526.7 443.3 1526.7 442.6 1526.8 444.3 1526.8 441.6 1526.9 440.6 1526.9 439.2 1527.0 441.2 1527.0 438.4 1527.1 438.3 1527.1 438.2 1527.1 435.7 1527.2 436.0 1527.2 435.9 1527.3 439.3 1527.3 436.1 1527.4 434.9 1527.4 435.6 1527.5 434.4 1527.5 436.1 1527.6 432.3 1527.6 435.0 1527.6 432.2 1527.7 430.8 1527.7 433.7 1527.8 434.1 1527.8 430.1 1527.9 429.6 1527.9 431.2 1528.0 432.9 1528.0 428.7 1528.0 427.0 1528.1 428.8 1528.1 427.7 1528.2 430.0 1528.2 430.3 1528.3 427.6 1528.3 429.9 1528.4 426.3 1528.4 431.8 1528.4 422.8 1528.5 424.2 1528.5 424.8 1528.6 424.1 1528.6 425.6 1528.7 422.9 1528.7 425.3 1528.8 422.5 1528.8 423.5 1528.9 421.4 1528.9 426.2 1528.9 421.0 1529.0 418.2 1529.0 423.0 1529.1 418.4 1529.1 418.3 1529.2 417.1 1529.2 415.9 1529.3 416.1 1529.3 413.4 1529.3 414.4 1529.4 412.9 1529.4 414.8 1529.5 413.2 1529.5 415.5 1529.6 415.2 1529.6 415.7 1529.7 415.3 1529.7 411.2 1529.7 410.9 1529.8 413.5 1529.8 411.4 1529.9 411.6 1529.9 409.7 1530.0 407.2 1530.0 409.0 1530.1 408.4 1530.1 405.1 1530.2 407.7 1530.2 407.3 1530.2 403.7 1530.3 406.9 1530.3 406.2 1530.4 410.7 1530.4 405.7 1530.5 405.0 1530.5 406.8 1530.6 408.1 1530.6 404.8 1530.7 408.8 1530.8 403.1 1530.8 401.7 1530.9 403.8 1531.0 399.8 1531.1 405.4 1531.1 400.1 1531.2 399.9 1531.3 398.6 1531.4 400.0 1531.4 396.4 1531.5 399.3 1531.6 399.0 1531.7 396.5 1531.8 399.9 1531.8 397.5 1531.9 396.0 1532.0 397.7 1532.1 395.8 1532.1 395.1 1532.2 396.6 1532.3 394.9 1532.4 396.3 1532.4 395.5 1532.5 390.8 1532.6 391.9 1533.1 394.6 1533.5 395.4 1534.0 391.7 1534.4 390.3 1534.9 390.8 1535.4 391.6 1535.8 390.7 1536.3 393.0 1536.7 394.8 1537.2 392.2 1537.6 395.7 1538.1 394.6 1538.6 390.5 1539.0 394.9 1539.5 394.3 1539.9 393.6 1540.4 390.0 1540.7 392.2 1540.9 393.5 1541.2 393.6 1541.4 392.5 1541.7 393.6 1541.9 394.2 1542.2 392.1 1542.4 388.6 1542.7 386.7 1542.9 387.2 1543.2 396.9 1543.4 391.2 1543.7 389.0 1543.9 387.0 1544.2 384.5 1544.4 384.7 1544.7 385.1 1544.9 392.9 1545.2 386.2 1545.4 387.2 1545.7 389.0 1545.9 384.6 1546.2 384.5 1546.4 383.7 1546.7 384.3 1546.9 384.3 1547.2 382.9 1547.4 386.3 1547.7 386.9 1547.9 384.5 1548.2 380.8 1548.2 383.2 1548.3 383.5 1548.3 383.1 1548.3 379.6 1548.4 378.6 1548.4 378.4 1548.4 377.6 1548.5 379.0 1548.5 381.4 1548.5 381.7 1548.6 380.8 1548.6 377.2 1548.6 376.7 1548.6 374.4 1548.7 380.6 1548.7 374.7 1548.7 376.5 1548.8 376.8 1548.8 373.1 1548.8 374.0 1548.9 376.5 1548.9 372.8 1548.9 373.8 1549.0 371.4 1549.0 372.2 1549.0 373.4 1549.1 369.0 1549.1 369.8 1549.1 366.3 1549.2 367.3 1549.2 368.1 1549.2 365.2 1549.3 368.1 1549.3 365.4 1549.3 368.1 1549.3 366.7 1549.4 365.8 1549.4 361.6 1549.4 363.1 1549.5 362.0 1549.5 361.2 1549.5 359.5 1549.6 363.4 1549.6 363.1 1549.6 361.6 1549.7 362.9 1549.7 358.9 1549.7 359.9 1549.8 359.2 1549.8 360.3 1549.8 357.5 1549.9 359.4 1549.9 356.1 1549.9 358.9 1550.0 357.3 1550.0 360.1 1550.0 359.4 1550.0 355.4 1550.1 356.8 1550.1 358.4 1550.1 352.3 1550.2 352.2 1550.2 353.8 1550.2 355.5 1550.3 353.2 1550.3 356.9 1550.3 354.8 1550.4 356.3 1550.4 353.1 1550.4 353.3 1550.5 353.9 1550.5 351.7 1550.5 351.2 1550.6 348.7 1550.6 342.5 1550.6 349.5 1550.7 349.2 1550.7 348.0 1550.7 348.4 1550.7 345.3 1550.8 344.7 1550.8 344.0 1550.8 347.7 1550.9 346.7 1550.9 344.2 1550.9 342.5 1551.0 339.8 1551.0 343.5 1551.0 340.3 1551.1 341.4 1551.1 341.8 1551.2 338.5 1551.3 342.5 1551.4 345.4 1551.5 343.5 1551.6 341.0 1551.7 344.4 1551.8 345.7 1551.9 344.8 1552.0 345.8 1552.1 346.9 1552.2 345.2 1552.3 346.5 1552.4 344.0 1552.5 347.1 1552.6 352.5 1552.7 348.2 1552.8 348.3 1552.9 349.0 1553.0 351.3 1553.1 351.1 1553.2 352.1 1553.3 353.3 1553.4 354.0 1553.5 352.2 1553.6 350.7 1553.7 351.7 1553.8 353.1 1553.9 354.1 1554.0 355.6 1554.1 353.2 1554.2 352.5 1554.3 359.1 1554.4 355.6 1554.5 358.1 1554.6 356.8 1554.7 361.0 1554.8 358.7 1554.9 357.2 1555.0 359.4 1555.1 359.2 1555.2 359.9 1555.3 358.6 1555.4 360.3 1555.5 359.3 1555.6 360.8 1555.7 359.6 1555.8 358.2 1555.9 363.6 1556.0 363.5 1556.1 360.8 1556.3 361.8 1556.4 360.6 1556.6 364.3 1556.7 366.1 1556.9 367.8 1557.0 368.0 1557.2 365.5 1557.3 362.6 1557.5 362.8 1557.6 367.5 1557.8 366.9 1557.9 363.5 1558.1 367.5 1558.2 366.5 1558.4 367.8 1558.5 366.6 1558.7 369.8 1558.8 370.8 1559.0 369.2 1559.1 369.8 1559.3 373.0 1559.4 373.5 1559.6 370.7 1559.7 372.6 1559.9 371.0 1560.0 373.0 1560.2 375.3 1560.4 374.6 1560.5 373.5 1560.7 375.2 1560.9 374.6 1561.1 372.5 1561.3 369.6 1561.5 371.1 1561.6 373.0 1561.8 369.4 1562.0 376.8 1562.2 366.5 1562.4 363.3 1562.5 370.7 1562.7 366.4 1562.9 368.2 1563.1 366.9 1563.3 366.5 1563.4 370.5 1563.6 367.9 1563.8 369.2 1564.0 365.3 1564.2 367.7 1564.3 362.1 1564.5 363.4 1564.7 364.4 1564.9 366.7 1565.1 364.2 1565.3 359.3 1565.4 362.4 1565.6 361.2 1565.8 357.3 1565.9 362.6 1565.9 362.2 1566.0 362.8 1566.1 363.9 1566.1 365.0 1566.2 365.0 1566.2 363.2 1566.3 363.1 1566.4 364.5 1566.4 363.6 1566.5 366.1 1566.6 364.7 1566.6 360.8 1566.7 366.8 1566.8 372.2 1566.8 368.0 1566.9 367.2 1567.0 369.2 1567.0 371.6 1567.1 370.9 1567.1 368.4 1567.2 371.1 1567.3 372.8 1567.3 373.7 1567.4 372.9 1567.5 372.5 1567.5 371.8 1567.6 374.4 1567.7 375.0 1567.7 375.3 1567.8 375.2 1567.8 375.7 1567.9 377.7 1568.0 377.1 1568.0 379.8 1568.1 378.0 1568.2 376.8 1568.2 376.6 1568.3 380.4 1568.4 377.4 1568.4 377.1 1568.5 377.9 1568.5 380.0 1568.6 382.2 1568.7 378.7 1568.7 381.8 1568.8 380.3 1568.9 378.9 1568.9 382.2 1569.0 384.8 1569.1 386.8 1569.1 386.0 1569.2 385.5 1569.3 387.1 1569.3 387.5 1569.4 386.6 1569.4 385.1 1569.5 387.3 1569.6 384.4 1569.6 389.8 1569.7 388.9 1569.8 389.6 1569.9 390.9 1570.0 388.5 1570.1 387.7 1570.2 386.6 1570.3 387.6 1570.4 386.3 1570.5 387.9 1570.6 388.8 1570.7 385.5 1570.7 386.0 1570.8 385.0 1570.9 382.0 1571.0 381.0 1571.1 383.6 1571.2 384.7 1571.3 380.5 1571.4 384.6 1571.5 381.8 1571.6 379.2 1571.7 376.9 1571.8 376.9 1571.9 380.7 1572.0 377.7 1572.1 376.6 1572.2 375.7 1572.3 378.6 1572.4 377.8 1572.5 377.3 1572.6 374.0 1572.7 374.5 1572.7 373.8 1572.8 370.3 1572.9 374.6 1573.0 375.0 1573.1 370.7 1573.2 370.9 1573.3 369.7 1573.4 369.8 1573.5 372.0 1573.6 368.7 1573.7 365.7 1573.8 369.0 1573.9 367.5 1574.0 370.4 1574.1 366.4 1574.2 365.6 1574.3 365.8 1574.4 368.8 1574.5 367.7 1574.6 364.2 1574.6 364.3 1574.7 367.3 1574.8 361.7 1574.9 365.3 1575.0 361.0 1575.1 364.3 1575.2 364.5 1575.3 363.5 1575.4 361.3 1575.5 364.2 1575.6 359.2 1575.7 362.0 1575.8 358.8 1576.0 360.2 1576.1 361.3 1576.2 365.5 1576.3 366.0 1576.4 362.9 1576.5 366.3 1576.7 363.9 1576.8 363.9 1576.9 365.7 1577.0 369.3 1577.1 366.4 1577.3 363.2 1577.4 368.7 1577.5 365.8 1577.6 369.1 1577.7 375.7 1577.8 370.9 1578.0 369.2 1578.1 369.8 1578.2 369.8 1578.3 369.1 1578.4 367.8 1578.6 370.8 1578.7 370.4 1578.8 378.1 1578.9 371.1 1579.0 374.2 1579.2 374.4 1579.3 375.7 1579.4 376.1 1579.5 373.6 1579.6 374.5 1579.7 371.5 1579.9 370.4 1580.0 375.4 1580.1 376.8 1580.2 379.2 1580.3 376.6 1580.5 376.6 1580.6 376.1 1580.7 380.7 1580.8 378.0 1580.9 382.5 1581.0 378.5 1581.2 379.0 1581.3 382.1 1581.4 389.8 1581.6 383.3 1581.7 385.0 1581.9 385.8 1582.0 385.2 1582.2 386.6 1582.4 387.3 1582.5 385.6 1582.7 389.1 1582.8 385.3 1583.0 388.6 1583.2 384.8 1583.3 387.6 1583.5 384.1 1583.6 388.7 1583.8 385.9 1584.0 387.7 1584.1 388.1 1584.3 394.6 1584.4 391.3 1584.6 390.8 1584.7 396.3 1584.9 390.5 1585.1 390.6 1585.2 393.9 1585.4 391.5 1585.5 392.6 1585.7 393.5 1585.9 395.1 1586.0 395.2 1586.2 395.7 1586.3 393.0 1586.5 398.2 1586.7 395.2 1586.8 396.5 1587.0 396.1 1587.1 399.3 1587.3 397.2 1587.5 399.3 1587.6 397.2 1587.8 393.1 1588.0 395.6 1588.1 393.7 1588.3 395.1 1588.5 398.2 1588.7 395.6 1588.8 395.8 1589.0 395.7 1589.2 392.9 1589.3 395.3 1589.5 393.4 1589.7 392.2 1589.8 389.6 1590.0 389.6 1590.2 390.8 1590.4 391.1 1590.5 391.8 1590.7 392.4 1590.9 393.6 1591.0 392.9 1591.2 392.0 1591.4 390.5 1591.5 389.9 1591.7 385.3 1591.9 386.4 1592.0 385.8 1592.2 387.9 1592.4 384.1 1592.6 383.2 1592.7 385.1 1592.9 383.2 1593.1 381.7 1593.2 382.7 1593.4 381.3 1593.6 381.2 1593.7 380.3 1593.9 377.8 1594.1 377.0 1594.3 379.3 1594.4 380.5 1594.6 381.0 1594.8 379.7 1594.9 379.3 1595.1 380.8 1595.3 375.4 1595.4 374.6 1595.6 377.8 1595.8 376.1 1595.9 377.3 1596.1 379.2 1596.3 375.7 1596.5 377.5 1596.6 376.3 1596.8 375.8 1597.0 375.0 1597.1 373.9 1597.3 374.2 1597.5 369.7 1597.6 373.0 1597.8 370.1 1598.0 373.1 1598.2 371.4 1598.3 371.0 1598.5 368.6 1598.7 367.0 1598.8 367.7 1599.0 365.6 1599.1 367.6 1599.2 367.5 1599.2 366.1 1599.3 370.3 1599.4 369.5 1599.5 373.7 1599.6 370.5 1599.7 370.1 1599.7 371.2 1599.8 374.9 1599.9 371.7 1600.0 373.2 1600.1 374.6 1600.1 373.7 1600.2 373.7 1600.3 381.2 1600.4 377.9 1600.5 376.4 1600.5 379.0 1600.6 378.9 1600.7 377.1 1600.8 378.2 1600.9 377.7 1601.0 380.0 1601.0 377.5 1601.1 380.2 1601.2 381.3 1601.3 383.1 1601.4 381.9 1601.4 384.1 1601.5 381.8 1601.6 382.4 1601.7 384.4 1601.8 384.1 1601.8 384.1 1601.9 384.6 1602.0 384.4 1602.1 386.5 1602.2 386.7 1602.2 388.8 1602.3 391.2 1602.4 387.1 1602.5 388.6 1602.6 388.8 1602.7 383.2 1602.7 390.6 1602.8 394.7 1602.9 389.0 1603.2 392.6 1603.5 392.1 1603.8 391.8 1604.1 391.5 1604.4 389.5 1604.7 389.5 1604.9 390.5 1605.2 389.8 1605.5 386.9 1605.8 386.9 1606.1 386.0 1606.4 385.0 1606.7 385.6 1607.0 385.3 1607.3 385.4 1607.6 383.7 1607.9 389.8 1608.2 387.8 1608.5 383.7 1608.8 388.5 1609.0 383.9 1609.3 384.4 1609.6 385.7 1609.9 383.1 1610.2 380.4 1610.5 378.5 1610.8 380.3 1611.1 380.0 1611.4 377.7 1611.7 376.3 1612.0 378.3 1612.3 376.9 1612.6 379.6 1612.8 376.5 1613.1 380.7 1613.4 375.4 1613.7 375.2 1614.0 376.1 1614.3 377.2 1614.6 381.2 1614.7 376.0 1614.8 379.1 1614.8 375.0 1614.9 380.1 1615.0 380.2 1615.1 379.8 1615.2 383.3 1615.2 381.0 1615.3 378.6 1615.4 382.9 1615.5 379.6 1615.6 379.8 1615.7 384.3 1615.7 385.2 1615.8 381.8 1615.9 382.0 1616.0 385.9 1616.1 382.4 1616.1 383.5 1616.2 386.8 1616.3 384.4 1616.4 383.3 1616.5 385.1 1616.5 385.1 1616.6 390.1 1616.7 386.7 1616.8 387.2 1616.9 385.6 1617.0 390.6 1617.0 391.6 1617.1 389.1 1617.2 390.6 1617.3 392.4 1617.4 394.5 1617.4 394.5 1617.5 394.1 1617.6 395.7 1617.7 397.1 1617.8 399.1 1617.8 395.9 1617.9 394.4 1618.0 398.4 1618.1 398.3 1618.2 397.6 1618.3 399.3 1618.3 399.2 1618.4 398.3 1618.5 400.8 1618.6 395.6 1618.8 401.3 1618.9 394.8 1619.1 396.7 1619.2 395.8 1619.4 397.3 1619.5 394.4 1619.6 394.3 1619.8 392.3 1619.9 398.2 1620.1 394.7 1620.2 393.8 1620.3 393.8 1620.5 396.6 1620.6 392.4 1620.8 390.2 1620.9 391.5 1621.1 388.6 1621.2 392.6 1621.3 391.7 1621.5 387.6 1621.6 389.2 1621.8 388.1 1621.9 389.6 1622.0 384.9 1622.2 388.9 1622.3 387.9 1622.5 388.2 1622.6 393.6 1622.8 388.9 1622.9 385.8 1623.0 383.6 1623.2 383.5 1623.3 387.7 1623.5 384.0 1623.6 379.7 1623.7 382.7 1623.9 380.5 1624.0 381.1 1624.2 380.6 1624.3 380.6 1624.5 375.6 1624.6 382.2 1624.7 381.1 1624.9 378.5 1625.0 379.6 1625.2 379.7 1625.3 380.4 1625.4 377.3 1625.6 376.7 1625.7 374.6 1625.9 371.8 1626.0 373.7 1626.2 370.1 1626.3 371.3 1626.4 372.2 1626.5 372.5 1626.6 373.0 1626.8 373.8 1626.9 376.4 1627.0 380.5 1627.1 380.7 1627.2 380.2 1627.3 381.9 1627.4 381.2 1627.5 380.2 1627.7 378.4 1627.8 382.9 1627.9 374.6 1628.0 381.7 1628.1 380.3 1628.2 384.6 1628.3 382.1 1628.4 381.3 1628.6 384.3 1628.7 390.0 1628.8 383.5 1628.9 385.9 1629.0 384.4 1629.1 385.9 1629.2 390.1 1629.3 386.4 1629.5 384.5 1629.6 389.7 1629.7 385.3 1629.8 391.4 1629.9 388.1 1630.0 389.8 1630.1 390.9 1630.2 390.4 1630.6 390.8 1630.9 390.0 1631.2 388.2 1631.5 394.1 1631.8 389.0 1632.2 386.9 1632.5 385.5 1632.8 387.6 1633.1 388.4 1633.4 384.5 1633.7 388.1 1634.1 385.3 1634.4 383.9 1634.7 385.9 1635.0 386.0 1635.3 381.5 1635.6 385.6 1636.0 381.7 1636.3 382.6 1636.6 382.5 1636.9 376.2 1637.2 380.2 1637.6 382.6 1637.9 383.5 1638.2 379.5 1638.5 382.1 1638.8 380.1 1639.1 378.8 1639.5 377.0 1639.8 381.1 1640.1 379.1 1640.4 379.4 1640.7 381.9 1641.0 376.6 1641.4 378.3 1641.7 379.9 1642.0 375.5 1642.1 377.0 1642.1 379.2 1642.2 377.0 1642.2 378.3 1642.3 377.9 1642.3 376.2 1642.4 378.5 1642.4 377.3 1642.5 377.4 1642.5 373.3 1642.6 371.5 1642.6 370.8 1642.7 371.8 1642.7 371.7 1642.8 372.6 1642.8 373.4 1642.9 373.4 1642.9 371.6 1643.0 368.6 1643.1 365.9 1643.1 364.6 1643.2 365.5 1643.2 368.1 1643.3 369.2 1643.3 365.7 1643.4 363.8 1643.4 364.0 1643.5 361.5 1643.5 365.1 1643.6 363.1 1643.6 365.9 1643.7 364.8 1643.7 362.4 1643.8 360.4 1643.8 360.7 1643.9 363.8 1644.0 363.8 1644.0 362.8 1644.1 363.6 1644.1 361.7 1644.2 356.2 1644.2 359.1 1644.3 356.9 1644.3 361.5 1644.4 358.9 1644.4 357.9 1644.5 356.6 1644.5 358.7 1644.6 357.9 1644.6 355.6 1644.7 356.5 1644.7 353.7 1644.8 359.4 1644.8 354.3 1644.9 353.5 1645.0 355.1 1645.0 351.2 1645.1 352.2 1645.1 348.6 1645.2 349.9 1645.2 347.6 1645.3 349.9 1645.3 349.9 1645.4 349.8 1645.4 346.5 1645.5 350.1 1645.5 348.0 1645.6 347.1 1645.6 347.5 1645.7 348.9 1645.7 349.9 1645.8 349.6 1645.8 344.5 1645.9 346.2 1646.0 347.8 1646.1 345.4 1646.2 343.9 1646.3 345.2 1646.3 345.6 1646.4 344.3 1646.5 348.9 1646.6 348.4 1646.7 345.3 1646.8 347.2 1646.9 351.4 1647.0 348.0 1647.1 352.8 1647.1 354.7 1647.2 352.7 1647.3 354.1 1647.4 355.1 1647.5 352.9 1647.6 353.2 1647.7 354.3 1647.8 352.9 1647.8 356.0 1647.9 357.5 1648.0 356.4 1648.1 355.7 1648.2 354.2 1648.3 359.9 1648.4 359.0 1648.5 358.4 1648.6 356.6 1648.6 356.0 1648.7 357.2 1648.8 355.7 1648.9 358.7 1649.0 360.6 1649.1 361.8 1649.2 359.0 1649.3 362.6 1649.4 364.0 1649.4 361.4 1649.5 364.9 1649.6 361.4 1649.7 363.6 1649.8 362.3 1649.9 362.8 1650.0 365.1 1650.1 370.2 1650.2 364.2 1650.3 360.1 1650.4 358.2 1650.6 364.3 1650.7 363.9 1650.8 360.5 1650.9 366.2 1651.0 361.4 1651.1 362.2 1651.2 358.5 1651.3 356.9 1651.4 357.2 1651.5 359.0 1651.6 357.5 1651.7 358.0 1651.8 353.0 1651.9 352.5 1652.1 355.4 1652.2 353.5 1652.3 353.0 1652.4 353.2 1652.5 350.8 1652.6 352.2 1652.7 354.1 1652.8 350.7 1652.8 355.5 1652.9 354.2 1653.0 356.0 1653.0 355.8 1653.1 356.5 1653.2 356.1 1653.3 356.4 1653.3 358.6 1653.4 354.7 1653.5 359.5 1653.5 355.9 1653.6 358.9 1653.7 359.9 1653.8 363.1 1653.8 360.4 1653.9 361.3 1654.0 364.2 1654.0 362.9 1654.1 360.7 1654.2 361.2 1654.2 361.1 1654.3 364.1 1654.4 365.3 1654.5 365.2 1654.5 362.7 1654.6 364.1 1654.7 363.9 1654.7 364.6 1654.8 365.2 1654.9 359.3 1654.9 366.8 1655.0 364.0 1655.1 368.6 1655.2 368.1 1655.2 369.6 1655.3 365.5 1655.4 366.0 1655.4 370.0 1655.5 367.0 1655.6 370.4 1655.6 371.7 1655.7 368.5 1655.8 373.3 1655.8 372.1 1655.9 371.4 1656.0 369.4 1656.1 372.0 1656.1 373.2 1656.2 373.6 1656.3 377.0 1656.3 375.2 1656.4 378.9 1656.5 374.9 1656.5 376.4 1656.6 379.6 1656.7 376.1 1656.8 376.5 1656.8 378.8 1656.9 382.7 1657.0 379.8 1657.0 382.2 1657.1 382.8 1657.2 380.6 1657.2 383.4 1657.3 382.3 1657.4 380.4 1657.5 383.5 1657.5 386.3 1657.6 385.3 1657.8 386.3 1657.9 382.5 1658.1 384.8 1658.3 380.2 1658.4 380.6 1658.6 379.5 1658.8 383.5 1659.0 381.0 1659.1 383.3 1659.3 378.6 1659.5 380.2 1659.6 377.7 1659.8 378.9 1660.0 378.2 1660.1 377.8 1660.3 378.3 1660.5 376.0 1660.7 376.7 1660.8 378.0 1661.0 374.9 1661.2 377.3 1661.3 373.2 1661.5 373.6 1661.6 372.8 1661.7 376.7 1661.8 376.8 1661.9 374.3 1662.0 375.9 1662.1 377.8 1662.2 376.1 1662.3 386.1 1662.4 381.9 1662.5 380.0 1662.5 379.3 1662.6 380.5 1662.7 381.1 1662.8 379.2 1662.9 382.0 1663.0 379.0 1663.1 384.6 1663.2 380.7 1663.3 384.5 1663.4 386.3 1663.5 389.1 1663.6 384.0 1663.7 383.6 1663.8 387.2 1663.9 389.8 1664.0 387.5 1664.1 385.5 1664.2 388.0 1664.3 388.8 1664.4 387.7 1664.5 387.0 1664.5 387.7 1664.6 387.4 1664.7 389.0 1664.8 391.3 1664.9 391.6 1665.0 389.5 1665.1 391.8 1665.2 393.3 1665.3 391.6 1665.4 392.1 1665.5 390.2 1665.6 391.4 1665.7 394.6 1665.8 397.0 1665.9 394.6 1666.0 394.4 1666.1 393.5 1666.2 401.7 1666.3 397.4 1666.4 396.6 1666.4 394.5 1666.5 393.8 1666.6 399.3 1666.7 395.7 1666.8 395.8 1666.9 401.6 1667.0 400.2 1667.1 402.2 1667.2 400.5 1667.3 403.3 1667.4 401.2 1667.5 404.2 1667.7 401.5 1667.8 401.5 1667.9 399.4 1668.0 393.9 1668.2 401.9 1668.3 397.5 1668.4 395.3 1668.6 399.6 1668.7 399.4 1668.8 398.0 1668.9 397.0 1669.1 393.7 1669.2 395.9 1669.3 393.3 1669.5 395.8 1669.6 394.7 1669.7 395.9 1669.8 394.6 1670.0 392.3 1670.1 391.4 1670.2 395.5 1670.4 389.7 1670.5 392.1 1670.6 393.8 1670.8 394.5 1670.9 390.5 1671.0 388.7 1671.1 391.7 1671.3 392.2 1671.4 395.0 1671.5 391.8 1671.7 387.7 1671.8 389.6 1671.9 385.1 1672.0 387.8 1672.2 384.8 1672.3 385.7 1672.4 385.0 1672.6 382.3 1672.7 385.8 1672.8 387.8 1672.9 384.6 1673.1 384.2 1673.2 380.3 1673.3 383.2 1673.4 383.7 1673.5 379.4 1673.6 379.4 1673.7 378.0 1673.9 381.0 1674.0 379.5 1674.1 381.9 1674.2 384.1 1674.3 386.3 1674.4 392.3 1674.5 383.2 1674.6 382.6 1674.7 386.3 1674.8 385.1 1675.0 390.5 1675.1 395.7 1675.2 387.5 1675.3 389.6 1675.4 392.2 1675.5 391.8 1675.6 389.3 1675.7 388.5 1675.8 392.7 1675.9 391.6 1676.1 393.1 1676.2 390.2 1676.3 393.2 1676.4 392.2 1676.5 396.0 1676.6 396.5 1676.7 396.0 1676.8 395.0 1676.9 399.5 1677.0 397.8 1677.2 400.7 1677.3 399.7 1677.4 399.1 1677.5 398.4 1677.6 398.9 1677.7 399.0 1677.8 403.9 1677.9 401.8 1678.0 402.2 1678.1 402.8 1678.3 400.1 1678.4 400.0 1678.5 402.1 1678.6 402.9 1678.7 400.4 1678.8 401.9 1678.9 401.5 1679.0 401.4 1679.1 401.3 1679.2 403.1 1679.4 407.6 1679.5 405.8 1679.6 408.0 1679.7 405.9 1679.8 405.2 1679.9 408.5 1680.0 408.0 1680.1 407.6 1680.2 409.3 1680.3 408.2 1680.5 409.5 1680.6 412.3 1680.7 411.6 1680.8 415.4 1680.9 409.8 1681.0 410.5 1681.1 409.3 1681.2 410.9 1681.3 415.1 1681.4 411.4 1681.5 414.4 1681.6 411.9 1681.7 411.0 1681.8 410.1 1681.9 408.5 1682.1 407.7 1682.2 408.8 1682.3 406.2 1682.4 405.7 1682.5 404.3 1682.6 405.8 1682.7 402.5 1682.8 403.7 1682.9 402.0 1683.0 403.2 1683.1 403.8 1683.2 401.3 1683.4 404.8 1683.5 401.5 1683.6 405.0 1683.7 405.1 1683.9 401.0 1684.0 403.7 1684.1 400.4 1684.2 397.5 1684.4 399.8 1684.5 400.8 1684.6 400.3 1684.7 397.4 1684.9 399.2 1685.0 397.3 1685.1 394.1 1685.2 393.2 1685.3 397.6 1685.5 394.2 1685.6 396.5 1685.7 396.7 1685.8 398.1 1686.0 391.9 1686.1 395.5 1686.2 393.9 1686.3 394.2 1686.5 395.0 1686.6 394.8 1686.7 389.5 1686.8 390.6 1686.9 392.1 1687.1 391.5 1687.2 387.9 1687.3 388.3 1687.4 391.1 1687.6 387.5 1687.7 389.4 1687.8 389.2 1687.9 389.0 1688.1 385.6 1688.2 388.5 1688.3 383.1 1688.4 386.5 1688.6 385.2 1688.7 383.9 1688.8 381.9 1689.0 383.2 1689.2 383.8 1689.4 380.4 1689.6 382.8 1689.7 382.3 1689.9 380.2 1690.1 379.9 1690.3 380.4 1690.5 375.3 1690.7 376.4 1690.9 382.1 1691.1 378.9 1691.2 378.2 1691.4 378.5 1691.6 375.6 1691.8 375.8 1692.0 379.0 1692.2 380.1 1692.4 371.2 1692.6 374.1 1692.8 375.1 1692.9 374.5 1693.1 377.1 1693.3 371.5 1693.5 375.7 1693.7 370.6 1693.9 373.0 1694.1 373.2 1694.3 374.9 1694.5 374.3 1694.6 369.5 1694.8 370.2 1695.0 370.1 1695.2 370.6 1695.4 371.5 1695.6 370.6 1695.8 371.1 1696.0 371.1 1696.1 371.3 1696.3 370.1 1696.5 366.0 1696.7 368.6 1696.9 366.8 1697.1 367.4 1697.3 369.4 1697.5 364.4 1697.7 363.2 1697.8 367.3 1698.0 365.6 1698.2 366.3 1698.4 361.9 1698.6 363.8 1698.8 362.0 1698.9 360.6 1699.1 362.6 1699.2 365.0 1699.4 364.0 1699.5 366.7 1699.7 365.3 1699.8 371.1 1700.0 365.4 1700.2 369.6 1700.3 367.8 1700.5 369.8 1700.6 368.1 1700.8 368.8 1700.9 368.3 1701.1 369.9 1701.3 368.5 1701.4 370.4 1701.6 370.8 1701.7 373.0 1701.9 374.6 1702.0 373.4 1702.2 372.1 1702.3 373.7 1702.5 375.4 1702.7 376.6 1702.8 376.3 1703.0 376.4 1703.1 375.1 1703.3 377.3 1703.4 375.5 1703.6 380.5 1703.7 379.2 1703.9 379.9 1704.1 378.1 1704.2 377.0 1704.4 378.6 1704.5 379.6 1704.7 381.9 1704.8 378.9 1705.0 380.1 1705.2 377.6 1705.3 381.6 1705.5 381.1 1705.6 381.5 1705.8 378.8 1705.9 381.7 1706.1 381.3 1706.2 382.5 1706.4 385.8 1706.4 382.9 1706.5 383.2 1706.5 388.7 1706.6 379.7 1706.6 382.2 1706.7 384.9 1706.7 383.6 1706.8 380.9 1706.8 384.0 1706.8 378.8 1706.9 376.1 1706.9 378.1 1707.0 379.9 1707.0 380.8 1707.1 379.7 1707.1 376.6 1707.2 376.9 1707.2 381.2 1707.3 379.3 1707.3 379.8 1707.3 376.8 1707.4 375.9 1707.4 375.5 1707.5 374.4 1707.5 372.3 1707.6 366.0 1707.6 371.0 1707.7 371.1 1707.7 372.3 1707.7 367.5 1707.8 370.8 1707.8 370.3 1707.9 368.3 1707.9 367.5 1708.0 369.0 1708.0 369.7 1708.1 367.5 1708.1 369.7 1708.1 369.5 1708.2 368.6 1708.2 365.2 1708.3 361.9 1708.3 362.5 1708.4 362.1 1708.4 363.0 1708.5 360.7 1708.5 359.5 1708.6 366.1 1708.6 360.8 1708.6 358.7 1708.7 359.2 1708.7 359.5 1708.8 363.3 1708.8 362.5 1708.9 358.1 1708.9 360.2 1709.0 357.9 1709.0 359.5 1709.0 360.8 1709.1 359.2 1709.1 355.1 1709.2 354.5 1709.2 356.1 1709.3 356.7 1709.3 356.2 1709.4 354.0 1709.4 353.4 1709.4 354.2 1709.5 351.9 1709.5 350.0 1709.6 349.7 1709.6 348.7 1709.7 352.6 1709.7 351.5 1709.8 348.7 1709.8 350.7 1709.9 347.4 1709.9 349.4 1709.9 346.8 1710.0 349.5 1710.0 350.6 1710.1 351.8 1710.1 346.1 1710.2 346.2 1710.2 346.1 1710.3 343.4 1710.3 346.0 1710.8 345.7 1711.2 347.3 1711.7 345.5 1712.1 343.9 1712.6 343.5 1713.0 347.0 1713.5 347.4 1713.9 346.1 1714.4 346.5 1714.8 345.6 1715.3 347.6 1715.7 345.1 1716.2 345.0 1716.4 348.8 1716.5 346.4 1716.7 349.4 1716.8 347.6 1717.0 350.1 1717.1 350.6 1717.3 350.6 1717.4 352.5 1717.6 351.0 1717.8 347.4 1717.9 350.1 1718.1 349.1 1718.2 349.7 1718.4 349.2 1718.5 349.1 1718.7 349.8 1718.9 356.4 1719.0 352.5 1719.2 356.9 1719.3 353.8 1719.5 353.4 1719.6 348.1 1719.8 355.9 1719.9 354.9 1720.1 355.4 1720.3 357.2 1720.4 359.7 1720.6 358.9 1720.7 357.5 1720.9 356.2 1721.0 360.1 1721.2 360.3 1721.3 357.0 1721.5 360.3 1721.7 360.8 1721.8 359.8 1722.0 360.1 1722.1 360.2 1722.3 362.8 1722.4 362.6 1722.6 364.0 1722.8 363.9 1722.9 365.7 1723.1 366.5 1723.2 367.0 1723.4 364.0 1723.5 367.8 1723.7 364.5 1723.8 368.7 1724.0 369.3 1724.2 365.0 1724.4 356.7 1724.6 365.4 1724.8 364.9 1725.0 369.3 1725.2 365.7 1725.4 364.2 1725.6 366.6 1725.8 362.4 1726.0 364.4 1726.2 360.7 1726.4 362.5 1726.6 355.5 1726.8 362.3 1727.1 359.1 1727.3 356.6 1727.5 357.8 1727.7 360.4 1727.9 357.9 1728.1 362.0 1728.3 360.7 1728.5 359.3 1728.7 359.7 1728.9 354.8 1729.1 353.1 1729.3 354.7 1729.5 355.8 1729.7 354.6 1729.9 354.7 1730.1 353.5 1730.2 357.7 1730.4 355.1 1730.6 355.5 1730.7 357.3 1730.9 363.6 1731.1 357.6 1731.2 359.1 1731.4 356.9 1731.6 360.4 1731.7 358.1 1731.9 359.7 1732.1 360.0 1732.2 360.3 1732.4 361.8 1732.6 364.1 1732.7 363.3 1732.9 363.4 1733.1 362.3 1733.2 364.0 1733.4 364.0 1733.6 366.1 1733.7 366.6 1733.9 363.7 1734.1 363.8 1734.2 364.4 1734.4 366.2 1734.6 367.5 1734.7 366.0 1734.9 366.1 1735.1 366.9 1735.2 366.4 1735.4 368.1 1735.6 367.8 1735.8 371.3 1735.9 373.0 1736.1 370.7 1736.3 376.4 1736.4 374.4 1736.6 373.4 1736.8 372.6 1736.9 373.4 1737.1 374.0 1737.3 373.6 1737.4 373.3 1737.6 374.8 1737.8 374.5 1737.9 375.3 1738.1 375.7 1738.3 376.7 1738.4 374.4 1738.6 372.6 1738.8 379.4 1738.9 374.5 1739.1 380.2 1739.3 380.4 1739.4 380.0 1739.6 380.0 1739.8 377.7 1739.9 378.1 1740.1 378.2 1740.3 382.5 1740.4 382.2 1740.6 380.2 1740.8 382.0 1740.9 384.6 1741.1 383.7 1741.3 382.8 1741.4 383.5 1741.6 384.3 1741.7 385.1 1741.7 386.2 1741.8 383.8 1741.8 383.8 1741.9 380.5 1741.9 383.4 1742.0 381.9 1742.0 381.8 1742.1 380.1 1742.2 380.6 1742.2 377.5 1742.3 379.8 1742.3 380.1 1742.4 378.5 1742.4 379.7 1742.5 377.5 1742.5 375.9 1742.6 378.2 1742.7 374.8 1742.7 378.7 1742.8 378.5 1742.8 375.9 1742.9 371.8 1742.9 376.1 1743.0 372.6 1743.0 371.0 1743.1 375.0 1743.2 375.3 1743.2 371.6 1743.3 372.7 1743.3 371.6 1743.4 369.0 1743.4 371.9 1743.5 368.4 1743.5 366.9 1743.6 367.9 1743.7 366.7 1743.7 365.5 1743.8 364.6 1743.8 363.6 1743.9 362.4 1743.9 362.0 1744.0 364.4 1744.1 362.2 1744.1 363.6 1744.2 353.6 1744.2 365.6 1744.3 365.1 1744.3 362.9 1744.4 363.8 1744.4 365.3 1744.5 362.3 1744.6 362.9 1744.6 358.4 1744.7 360.8 1744.7 359.6 1744.8 360.4 1744.8 358.8 1744.9 361.7 1744.9 357.8 1745.0 358.7 1745.1 358.6 1745.1 357.1 1745.2 357.3 1745.2 356.8 1745.3 356.6 1745.3 356.5 1745.4 354.5 1745.4 354.4 1745.5 354.7 1745.7 356.4 1746.0 353.7 1746.2 350.7 1746.5 349.5 1746.7 352.9 1747.0 349.5 1747.2 351.6 1747.5 351.7 1747.7 349.2 1747.9 348.9 1748.2 354.0 1748.4 348.7 1748.7 345.5 1748.9 346.7 1749.2 347.4 1749.4 349.0 1749.6 347.5 1749.9 346.3 1750.1 347.4 1750.4 343.7 1750.6 339.6 1750.9 341.9 1751.1 342.9 1751.3 344.5 1751.6 345.4 1751.8 341.5 1752.1 341.5 1752.3 340.0 1752.6 343.4 1752.8 341.2 1753.1 340.4 1753.3 342.2 1753.5 333.6 1753.8 340.2 1754.0 340.3 1754.3 338.0 1754.5 335.6 1754.8 335.6 1755.0 338.4 1755.2 336.4 1755.6 338.1 1756.0 337.6 1756.3 339.0 1756.7 337.1 1757.1 336.5 1757.4 339.5 1757.8 338.2 1758.1 340.7 1758.5 341.4 1758.9 338.2 1759.2 339.1 1759.6 337.7 1759.9 338.5 1760.3 339.2 1760.7 340.1 1761.0 338.5 1761.4 342.3 1761.8 341.8 1762.1 342.6 1762.5 342.0 1762.8 344.4 1763.2 345.5 1763.6 340.5 1763.9 343.8 1764.3 342.5 1764.6 347.6 1765.0 349.3 1765.0 345.3 1765.1 345.2 1765.1 342.7 1765.1 334.6 1765.2 343.3 1765.2 344.0 1765.2 343.1 1765.3 339.4 1765.3 340.8 1765.4 342.8 1765.4 341.8 1765.4 339.1 1765.5 340.8 1765.5 338.4 1765.5 340.9 1765.6 338.2 1765.6 338.2 1765.6 339.1 1765.7 340.3 1765.7 338.5 1765.8 334.6 1765.8 335.5 1765.8 335.8 1765.9 333.6 1765.9 331.8 1765.9 333.4 1766.0 332.2 1766.0 332.0 1766.0 333.2 1766.1 332.7 1766.1 332.7 1766.1 334.0 1766.2 329.2 1766.2 330.0 1766.2 329.1 1766.3 330.2 1766.3 326.6 1766.4 326.6 1766.4 328.1 1766.4 322.4 1766.5 327.9 1766.5 325.3 1766.5 327.2 1766.6 326.8 1766.6 327.2 1766.6 322.3 1766.7 322.0 1766.7 321.6 1766.8 323.2 1766.8 323.6 1766.8 322.9 1766.9 322.0 1766.9 321.1 1766.9 323.7 1767.0 320.3 1767.0 319.5 1767.0 322.1 1767.1 316.9 1767.2 318.4 1767.2 318.0 1767.2 317.3 1767.3 317.0 1767.3 315.8 1767.4 317.2 1767.5 316.2 1767.5 316.3 1767.5 314.8 1767.6 318.4 1767.7 317.3 1767.7 313.2 1767.8 311.3 1767.8 311.4 1767.8 309.4 1767.9 310.6 1768.0 307.9 1768.0 310.7 1768.0 306.5 1768.1 307.5 1768.2 309.5 1768.2 307.0 1768.2 308.3 1768.3 308.1 1768.4 310.9 1768.4 309.9 1768.5 307.6 1768.5 305.7 1768.5 310.2 1768.6 307.5 1768.7 305.5 1768.7 307.6 1768.8 304.3 1768.8 306.6 1768.9 306.1 1768.9 300.3 1769.0 304.1 1769.0 302.2 1769.0 297.6 1769.1 300.9 1769.2 299.3 1769.2 297.2 1769.2 297.2 1769.3 298.1 1769.4 299.3 1769.4 299.7 1769.5 293.8 1769.5 297.4 1769.5 297.5 1769.6 298.2 1769.7 293.8 1769.7 295.6 1769.8 294.2 1769.8 292.1 1769.9 292.9 1769.9 292.0 1770.0 292.2 1770.0 292.0 1770.1 291.5 1770.1 292.7 1770.2 293.4 1770.2 291.5 1770.2 295.0 1770.3 291.3 1770.4 288.9 1770.4 287.0 1770.5 288.6 1770.5 289.2 1770.6 290.8 1770.6 287.6 1770.7 284.9 1770.7 283.3 1770.8 284.1 1770.8 285.8 1770.9 285.3 1770.9 280.7 1771.2 282.1 1771.5 282.7 1771.7 286.8 1772.0 285.7 1772.3 286.5 1772.6 285.4 1772.8 285.0 1773.1 280.3 1773.4 281.2 1773.7 280.2 1773.9 280.5 1774.2 278.3 1774.5 275.5 1774.8 272.8 1775.0 280.0 1775.3 279.0 1775.6 279.7 1775.9 275.8 1776.1 275.8 1776.4 278.3 1776.7 275.6 1776.9 274.1 1777.0 277.0 1777.2 276.5 1777.3 278.7 1777.5 277.4 1777.6 276.7 1777.8 278.6 1778.0 282.0 1778.1 277.3 1778.3 281.1 1778.4 283.4 1778.6 282.2 1778.8 281.5 1778.9 284.3 1779.1 286.2 1779.2 285.8 1779.4 285.2 1779.5 283.6 1779.7 282.6 1779.9 285.5 1780.0 283.7 1780.2 288.9 1780.3 293.3 1780.5 288.1 1780.7 288.9 1780.8 286.8 1781.0 288.9 1781.1 288.3 1781.3 285.4 1781.4 288.1 1781.6 290.8 1781.8 290.4 1781.9 287.9 1782.1 289.3 1782.2 292.8 1782.4 290.6 1782.5 292.3 1782.7 294.2 1782.9 290.5 1783.0 293.9 1783.2 294.0 1783.3 291.8 1783.5 286.5 1783.7 294.5 1783.8 298.9 1784.0 294.1 1784.1 296.7 1784.3 295.8 1784.4 295.8 1784.6 298.1 1784.7 296.7 1784.7 298.0 1784.8 295.4 1784.9 299.3 1784.9 297.8 1785.0 295.2 1785.1 293.2 1785.1 292.3 1785.2 298.3 1785.3 296.7 1785.3 293.0 1785.4 292.1 1785.5 295.3 1785.5 293.0 1785.6 294.4 1785.7 292.7 1785.7 290.9 1785.8 289.7 1785.9 293.5 1785.9 286.3 1786.0 290.3 1786.1 290.6 1786.1 289.7 1786.2 289.0 1786.3 288.7 1786.3 286.4 1786.4 287.4 1786.5 287.0 1786.5 286.8 1786.6 285.1 1786.7 285.7 1786.7 285.1 1786.8 285.5 1786.9 285.5 1786.9 284.7 1787.0 283.7 1787.1 284.1 1787.1 280.7 1787.2 283.6 1787.3 282.8 1787.3 281.2 1787.4 280.5 1787.5 278.8 1787.5 280.1 1787.6 278.6 1787.7 276.6 1787.7 276.8 1787.8 277.4 1787.9 278.9 1787.9 273.0 1788.0 273.3 1788.1 277.1 1788.1 275.9 1788.2 274.3 1788.3 274.0 1788.3 274.1 1788.4 271.5 1788.6 271.2 1788.8 268.7 1788.9 270.6 1789.1 268.1 1789.3 269.2 1789.5 268.3 1789.7 269.9 1789.8 267.8 1790.0 267.2 1790.2 268.9 1790.4 269.7 1790.5 267.3 1790.7 270.8 1790.9 269.0 1791.1 270.0 1791.3 268.6 1791.4 268.1 1791.6 264.8 1791.8 266.1 1792.0 265.3 1792.2 265.0 1792.3 262.1 1792.5 260.6 1792.7 261.0 1792.9 260.6 1793.0 258.7 1793.2 261.5 1793.4 260.8 1793.6 258.1 1793.8 260.1 1793.9 266.1 1794.1 256.2 1794.3 257.9 1794.4 256.4 1794.5 260.8 1794.6 257.4 1794.7 258.3 1794.8 255.0 1794.9 260.0 1795.0 255.8 1795.1 255.2 1795.2 256.1 1795.3 254.0 1795.4 252.3 1795.5 255.1 1795.6 260.1 1795.7 253.3 1795.8 253.3 1795.9 253.2 1796.0 244.4 1796.1 249.4 1796.2 253.7 1796.2 252.3 1796.3 248.8 1796.4 251.1 1796.5 249.9 1796.6 246.7 1796.7 246.9 1796.8 249.1 1796.9 247.0 1797.0 244.1 1797.1 246.6 1797.2 248.5 1797.3 249.6 1797.4 248.9 1797.5 246.8 1797.6 246.1 1797.7 244.8 1797.8 245.6 1797.9 240.1 1798.0 243.3 1798.1 242.7 1798.2 242.5 1798.4 239.7 1798.6 238.8 1798.8 241.7 1799.0 241.5 1799.2 237.8 1799.4 233.8 1799.6 235.5 1799.8 235.5 1800.0 237.7 1800.2 234.2 1800.4 234.6 1800.6 235.3 1800.8 235.2 1801.0 232.9 1801.2 238.3 1801.4 237.7 1801.6 237.0 1801.8 231.7 1802.0 233.1 1802.2 234.3 1802.4 233.9 1802.6 232.4 1802.8 234.0 1803.0 235.4 1803.2 234.4 1803.4 231.8 1803.6 231.5 1803.8 230.8 1804.0 229.7 1804.0 229.2 1804.1 229.9 1804.1 232.4 1804.1 232.5 1804.1 229.9 1804.2 226.8 1804.2 225.3 1804.2 229.4 1804.3 227.9 1804.3 226.2 1804.3 226.6 1804.4 222.9 1804.4 225.3 1804.4 224.5 1804.4 222.9 1804.5 223.4 1804.5 219.6 1804.5 218.8 1804.6 222.5 1804.6 222.1 1804.6 221.3 1804.6 222.1 1804.7 218.6 1804.7 221.0 1804.7 217.5 1804.8 217.1 1804.8 219.9 1804.8 215.8 1804.9 216.3 1804.9 222.5 1804.9 214.8 1804.9 216.2 1805.0 207.1 1805.0 207.6 1805.1 213.6 1805.1 214.7 1805.2 215.1 1805.2 213.9 1805.3 214.9 1805.3 218.6 1805.4 216.2 1805.4 218.4 1805.5 219.5 1805.5 221.1 1805.6 222.3 1805.6 220.6 1805.7 221.4 1805.7 219.2 1805.8 222.7 1805.8 223.5 1805.9 225.0 1805.9 224.4 1806.0 222.4 1806.1 222.2 1806.1 226.7 1806.2 223.7 1806.2 228.6 1806.3 229.8 1806.3 225.6 1806.4 227.7 1806.4 225.8 1806.5 229.3 1806.5 230.2 1806.6 227.9 1806.6 227.7 1806.7 230.4 1806.7 227.8 1806.8 230.4 1806.8 232.2 1806.9 228.8 1806.9 228.1 1807.0 229.7 1807.1 235.4 1807.1 231.5 1807.2 234.0 1807.2 233.2 1807.3 235.8 1807.3 236.8 1807.4 236.8 1807.4 237.1 1807.5 236.9 1807.5 234.0 1807.6 234.4 1807.6 236.0 1807.7 233.8 1807.7 235.6 1807.8 239.2 1807.8 237.1 1807.9 240.9 1807.9 239.5 1808.0 237.9 1808.1 242.8 1808.2 241.0 1808.4 235.6 1808.5 235.2 1808.6 235.6 1808.7 234.5 1808.8 238.2 1808.9 235.1 1809.1 234.1 1809.2 233.3 1809.3 235.9 1809.4 235.1 1809.5 236.1 1809.6 235.4 1809.8 232.9 1809.9 235.9 1810.0 233.4 1810.1 234.9 1810.2 233.8 1810.4 233.9 1810.5 230.8 1810.6 230.7 1810.7 232.6 1810.8 231.7 1810.9 228.1 1811.1 231.7 1811.2 228.8 1811.3 227.8 1811.4 226.6 1811.5 224.6 1811.6 228.9 1811.8 228.5 1811.9 231.4 1812.0 231.1 1812.2 226.4 1812.3 225.8 1812.5 228.4 1812.7 225.9 1812.8 225.6 1813.0 224.8 1813.2 225.7 1813.3 226.9 1813.5 224.2 1813.6 230.3 1813.8 229.2 1814.0 229.0 1814.1 232.0 1814.3 228.7 1814.5 231.7 1814.6 230.7 1814.8 230.0 1815.0 230.0 1815.1 230.7 1815.3 241.0 1815.5 233.9 1815.6 234.6 1815.8 235.3 1815.9 238.6 1816.1 234.0 1816.3 235.8 1816.4 236.0 1816.6 234.1 1816.8 237.8 1816.9 236.6 1817.1 236.3 1817.3 240.6 1817.4 239.4 1817.6 243.2 1817.8 243.6 1817.8 246.3 1817.8 238.2 1817.9 240.7 1817.9 237.7 1818.0 241.6 1818.0 239.5 1818.1 238.0 1818.1 236.4 1818.2 235.1 1818.2 233.6 1818.3 235.5 1818.3 235.6 1818.4 235.9 1818.4 236.2 1818.4 231.4 1818.5 240.7 1818.5 233.2 1818.6 231.5 1818.6 224.1 1818.7 233.1 1818.7 231.2 1818.8 232.6 1818.8 231.5 1818.9 227.1 1818.9 229.8 1819.0 225.3 1819.0 230.2 1819.0 224.6 1819.1 224.6 1819.1 222.1 1819.2 225.7 1819.2 224.5 1819.3 224.4 1819.3 225.1 1819.4 223.2 1819.4 222.3 1819.5 221.4 1819.5 220.1 1819.6 223.0 1819.6 222.5 1819.6 220.8 1819.7 221.2 1819.7 218.5 1819.8 222.2 1819.8 221.9 1819.9 220.7 1819.9 216.7 1820.0 216.7 1820.0 219.0 1820.1 216.7 1820.1 211.0 1820.2 214.9 1820.2 216.2 1820.2 216.1 1820.3 214.6 1820.3 215.7 1820.4 216.4 1820.4 215.9 1820.5 216.2 1820.5 213.1 1820.6 211.2 1820.6 209.6 1820.7 210.7 1820.7 209.8 1820.8 208.7 1820.8 206.0 1820.8 210.8 1820.9 212.0 1820.9 209.6 1821.0 205.8 1821.0 209.4 1821.1 207.7 1821.1 199.9 1821.2 207.2 1821.2 207.3 1821.3 203.3 1821.3 201.5 1821.4 203.3 1821.4 204.2 1821.4 206.9 1821.5 205.3 1821.5 202.5 1821.6 201.1 1821.6 199.9 1821.7 199.8 1821.7 199.5 1821.8 197.8 1821.8 198.8 1821.9 200.6 1821.9 198.2 1822.0 199.6 1822.0 200.6 1822.0 200.1 1822.1 196.8 1822.1 196.1 1822.2 200.3 1822.2 200.4 1822.3 197.5 1822.3 195.2 1822.4 200.5 1822.4 194.9 1822.5 193.0 1822.5 192.7 1822.6 196.5 1822.6 190.0 1822.7 194.9 1822.8 193.5 1822.9 192.1 1823.0 189.1 1823.1 192.2 1823.2 187.7 1823.3 189.7 1823.4 189.2 1823.5 190.9 1823.6 189.5 1823.7 190.6 1823.8 189.9 1823.9 189.0 1824.0 186.5 1824.1 186.4 1824.2 185.7 1824.3 182.9 1824.4 183.7 1824.5 186.2 1824.6 186.4 1824.7 186.7 1824.8 187.8 1824.9 188.4 1825.0 183.7 1825.1 185.1 1825.2 184.2 1825.3 186.2 1825.4 183.1 1825.5 181.3 1825.6 176.9 1825.7 179.5 1825.8 177.5 1825.9 178.1 1826.0 177.6 1826.1 178.4 1826.2 178.8 1826.3 178.4 1826.4 174.6 1826.5 173.0 1826.6 173.2 1826.7 173.4 1826.8 171.6 1826.9 175.4 1827.0 173.8 1827.1 174.3 1827.2 174.5 1827.3 171.5 1827.4 173.6 1827.5 172.0 1827.6 172.9 1827.7 175.9 1827.8 170.9 1827.9 171.6 1828.1 171.4 1828.2 176.9 1828.3 184.5 1828.4 176.2 1828.5 175.7 1828.6 179.3 1828.7 179.3 1828.8 177.4 1828.9 177.3 1829.1 178.4 1829.2 176.3 1829.3 179.6 1829.4 175.3 1829.5 176.3 1829.6 175.9 1829.7 178.6 1829.8 181.6 1830.0 182.0 1830.1 182.0 1830.2 178.9 1830.3 184.2 1830.4 181.2 1830.5 184.5 1830.6 181.8 1830.7 182.3 1830.8 184.1 1831.0 183.3 1831.1 187.4 1831.2 187.3 1831.3 185.0 1831.4 183.8 1831.4 183.7 1831.4 183.6 1831.4 188.5 1831.4 186.8 1831.5 187.8 1831.5 188.3 1831.5 186.5 1831.5 186.2 1831.5 182.8 1831.5 181.4 1831.5 183.5 1831.5 182.0 1831.6 184.9 1831.6 182.3 1831.6 180.9 1831.6 182.6 1831.6 182.5 1831.6 179.0 1831.6 182.2 1831.6 178.5 1831.7 176.3 1831.7 177.6 1831.7 175.5 1831.7 173.2 1831.7 170.5 1831.7 171.6 1831.7 174.2 1831.7 174.2 1831.8 170.0 1831.8 173.8 1831.8 175.5 1831.8 174.1 1831.8 170.5 1831.8 170.4 1831.8 171.7 1831.8 173.0 1831.8 168.9 1831.9 165.0 1831.9 169.6 1831.9 171.4 1831.9 167.6 1831.9 169.8 1831.9 169.0 1831.9 166.2 1831.9 166.9 1832.0 163.4 1832.0 163.5 1832.0 166.7 1832.0 163.7 1832.0 164.2 1832.0 167.0 1832.0 166.0 1832.0 163.8 1832.1 167.1 1832.1 163.8 1832.1 163.2 1832.1 158.5 1832.1 160.2 1832.1 159.7 1832.1 157.5 1832.1 157.4 1832.2 157.0 1832.2 157.4 1832.2 157.6 1832.2 156.0 1832.2 157.6 1832.2 155.7 1832.2 157.3 1832.2 158.0 1832.2 156.3 1832.3 156.6 1832.3 155.5 1832.3 154.4 1832.3 157.9 1832.3 149.4 1832.3 148.9 1832.3 151.8 1832.3 153.9 1832.4 153.9 1832.4 153.5 1832.4 152.4 1832.4 151.8 1832.4 149.8 1832.4 148.0 1832.4 149.1 1832.4 149.2 1832.5 139.9 1832.5 144.9 1832.5 147.4 1832.5 148.9 1832.5 151.3 1832.5 146.7 1832.5 146.5 1832.5 144.4 1832.6 140.4 1832.6 141.4 1832.6 141.7 1832.6 140.4 1832.6 141.0 1832.6 142.7 1832.6 139.4 1832.6 142.0 1832.6 143.3 1832.7 141.4 1832.7 136.9 1832.7 137.2 1832.7 137.1 1832.7 138.5 1832.7 135.5 1832.7 138.6 1832.7 134.7 1832.8 139.3 1832.8 135.8 1832.8 136.2 1832.8 137.1 1832.8 132.1 1832.8 132.0 1832.8 130.8 1832.8 130.9 1832.9 131.5 1832.9 127.9 1832.9 131.5 1832.9 129.2 1832.9 130.6 1832.9 133.2 1832.9 128.4 1832.9 127.3 1833.0 126.8 1833.0 127.2 1833.0 128.5 1833.0 126.4 1833.0 126.4 1833.0 125.7 1833.0 129.3 1833.0 127.4 1833.0 129.9 1833.1 130.6 1833.1 125.9 1833.1 126.0 1833.1 123.8 1833.1 121.9 1833.1 121.2 1833.1 122.7 1833.1 120.6 1833.2 119.2 1833.2 120.2 1833.2 118.0 1833.2 117.2 1833.2 121.0 1833.2 116.7 1833.2 119.4 1833.2 118.1 1833.3 115.6 1833.3 113.7 1833.3 116.0 1833.3 116.2 1833.3 116.3 1833.3 113.3 1833.3 112.9 1833.3 113.0 1833.4 112.2 1833.4 113.3 1833.4 110.5 1833.4 110.4 1833.4 111.7 1833.4 112.0 1833.4 111.9 1833.5 114.3 1833.5 117.4 1833.5 117.5 1833.5 113.3 1833.6 115.8 1833.6 115.8 1833.6 113.1 1833.6 113.1 1833.6 117.9 1833.7 116.1 1833.7 116.0 1833.7 120.0 1833.7 116.3 1833.8 118.5 1833.8 119.0 1833.8 117.8 1833.8 119.7 1833.8 120.5 1833.9 121.3 1833.9 122.8 1833.9 122.1 1833.9 126.1 1834.0 126.9 1834.0 125.5 1834.0 122.9 1834.0 128.9 1834.1 129.2 1834.1 129.2 1834.1 128.1 1834.1 129.5 1834.1 127.3 1834.2 129.8 1834.2 129.3 1834.2 130.2 1834.2 131.0 1834.3 132.1 1834.3 130.7 1834.3 131.7 1834.3 130.8 1834.3 135.4 1834.4 131.1 1834.4 135.1 1834.4 133.4 1834.4 136.0 1834.5 135.4 1834.5 133.2 1834.5 133.0 1834.5 136.8 1834.5 135.7 1834.6 132.7 1834.6 134.5 1834.6 135.7 1834.6 136.6 1834.7 136.9 1834.7 132.8 1834.7 133.1 1834.7 131.3 1834.8 132.2 1834.8 128.3 1834.8 128.4 1834.8 127.2 1834.8 127.3 1834.9 125.4 1834.9 126.1 1834.9 124.9 1834.9 125.1 1835.0 126.4 1835.0 135.0 1835.0 122.7 1835.0 121.0 1835.0 121.9 1835.1 126.1 1835.1 125.9 1835.1 121.8 1835.1 124.6 1835.2 120.7 1835.2 122.1 1835.2 119.7 1835.2 119.0 1835.2 117.1 1835.3 119.4 1835.3 118.3 1835.3 122.2 1835.3 117.2 1835.4 120.0 1835.4 116.9 1835.4 118.0 1835.4 117.1 1835.5 115.4 1835.5 112.9 1835.5 115.9 1835.5 113.6 1835.5 117.6 1835.5 115.9 1835.6 114.3 1835.6 114.8 1835.6 115.8 1835.6 118.8 1835.6 119.0 1835.6 115.5 1835.6 116.2 1835.7 117.0 1835.7 119.0 1835.7 124.2 1835.7 119.2 1835.7 129.7 1835.7 122.8 1835.7 126.3 1835.7 124.9 1835.8 123.1 1835.8 125.3 1835.8 123.2 1835.8 125.9 1835.8 126.3 1835.8 124.3 1835.8 127.4 1835.9 127.4 1835.9 127.0 1835.9 126.6 1835.9 128.4 1835.9 130.2 1835.9 132.4 1835.9 130.8 1836.0 134.0 1836.0 133.0 1836.0 129.4 1836.0 129.0 1836.0 132.9 1836.0 129.0 1836.0 131.6 1836.0 129.4 1836.1 131.7 1836.1 134.9 1836.1 130.9 1836.1 135.3 1836.1 134.9 1836.1 137.1 1836.1 136.9 1836.2 137.4 1836.2 135.0 1836.2 136.4 1836.2 139.5 1836.2 136.5 1836.2 139.5 1836.2 139.0 1836.3 142.9 1836.3 140.1 1836.3 137.2 1836.3 140.1 1836.3 142.2 1836.3 141.3 1836.3 143.1 1836.3 143.6 1836.4 146.2 1836.4 146.0 1836.4 144.8 1836.4 145.9 1836.4 146.3 1836.4 146.9 1836.4 146.1 1836.5 146.1 1836.5 147.6 1836.5 147.8 1836.5 146.5 1836.5 145.3 1836.5 148.4 1836.5 148.6 1836.6 146.5 1836.6 148.6 1836.6 144.4 1836.6 147.6 1836.6 146.4 1836.6 146.4 1836.7 147.1 1836.7 144.6 1836.7 146.1 1836.7 144.0 1836.7 142.4 1836.7 140.8 1836.8 141.7 1836.8 141.1 1836.8 134.9 1836.8 138.2 1836.8 139.0 1836.8 138.8 1836.9 137.1 1836.9 135.2 1836.9 138.5 1836.9 137.1 1836.9 138.7 1836.9 132.8 1837.0 136.2 1837.0 133.8 1837.0 134.3 1837.0 135.1 1837.0 128.7 1837.0 133.9 1837.0 134.1 1837.1 133.8 1837.1 132.4 1837.1 133.7 1837.1 130.7 1837.1 131.1 1837.1 130.4 1837.2 130.2 1837.2 128.1 1837.2 131.1 1837.2 131.1 1837.2 132.0 1837.2 131.5 1837.3 122.5 1837.3 125.6 1837.3 126.7 1837.3 125.2 1837.3 124.7 1837.3 123.7 1837.4 122.5 1837.4 126.4 1837.4 125.3 1837.4 123.7 1837.4 120.6 1837.4 122.9 1837.5 118.8 1837.5 121.5 1837.5 117.4 1837.5 119.1 1837.5 120.0 1837.5 121.9 1837.6 121.6 1837.6 121.4 1837.6 124.1 1837.6 122.7 1837.7 125.3 1837.7 125.3 1837.7 124.7 1837.7 123.3 1837.8 125.7 1837.8 126.0 1837.8 126.6 1837.8 125.6 1837.8 125.6 1837.9 128.5 1837.9 127.5 1837.9 122.0 1837.9 130.7 1838.0 127.7 1838.0 131.7 1838.0 132.0 1838.0 133.8 1838.0 132.3 1838.1 133.0 1838.1 132.8 1838.1 136.8 1838.1 134.7 1838.2 135.0 1838.2 133.2 1838.2 134.0 1838.2 133.4 1838.2 133.9 1838.3 135.5 1838.3 134.1 1838.3 136.0 1838.3 137.4 1838.4 137.3 1838.4 139.3 1838.4 139.1 1838.4 138.6 1838.5 139.5 1838.5 140.3 1838.5 135.6 1838.5 139.9 1838.5 140.7 1838.5 142.7 1838.6 139.1 1838.6 139.9 1838.6 134.3 1838.6 138.6 1838.6 137.7 1838.6 132.9 1838.7 133.5 1838.7 139.2 1838.7 135.6 1838.7 133.2 1838.7 131.8 1838.7 128.8 1838.7 131.1 1838.8 132.4 1838.8 133.4 1838.8 130.2 1838.8 129.5 1838.8 128.5 1838.8 128.8 1838.8 129.4 1838.9 130.5 1838.9 129.6 1838.9 123.7 1838.9 127.1 1838.9 126.7 1838.9 128.9 1839.0 124.3 1839.0 126.1 1839.0 126.3 1839.0 131.6 1839.0 120.4 1839.0 130.3 1839.0 127.6 1839.1 127.3 1839.1 126.1 1839.1 123.3 1839.1 124.2 1839.1 124.4 1839.1 123.6 1839.2 123.1 1839.2 121.9 1839.2 119.5 1839.2 116.6 1839.2 120.2 1839.2 116.9 1839.2 116.7 1839.3 116.2 1839.3 120.1 1839.3 117.7 1839.3 116.7 1839.3 118.6 1839.3 122.3 1839.3 113.4 1839.4 113.0 1839.4 114.1 1839.4 112.7 1839.4 108.7 1839.4 109.3 1839.4 110.1 1839.5 112.7 1839.5 107.3 1839.5 107.1 1839.5 110.3 1839.5 112.3 1839.5 112.4 1839.6 115.0 1839.6 112.0 1839.6 110.7 1839.6 111.9 1839.7 117.6 1839.7 118.5 1839.7 116.1 1839.7 114.7 1839.8 113.6 1839.8 116.6 1839.8 118.4 1839.8 118.1 1839.8 119.1 1839.9 118.2 1839.9 115.9 1839.9 117.4 1839.9 118.3 1840.0 118.2 1840.0 116.1 1840.0 119.1 1840.0 119.3 1840.0 121.4 1840.1 119.4 1840.1 120.7 1840.1 122.5 1840.1 123.2 1840.2 124.3 1840.2 124.7 1840.2 126.2 1840.2 126.7 1840.2 127.4 1840.3 124.5 1840.3 124.3 1840.3 128.7 1840.3 128.2 1840.4 128.1 1840.4 127.0 1840.4 131.1 1840.4 124.9 1840.5 128.2 1840.5 129.1 1840.5 129.1 1840.5 127.1 1840.5 127.3 1840.5 127.5 1840.6 130.0 1840.6 127.0 1840.6 125.0 1840.6 130.6 1840.6 125.9 1840.6 125.8 1840.6 125.1 1840.7 124.1 1840.7 126.9 1840.7 125.4 1840.7 123.9 1840.7 121.2 1840.7 124.2 1840.7 121.4 1840.7 123.0 1840.8 121.9 1840.8 122.8 1840.8 120.5 1840.8 118.4 1840.8 118.7 1840.8 117.9 1840.8 118.1 1840.9 118.0 1840.9 115.4 1840.9 124.3 1840.9 113.9 1840.9 113.4 1840.9 115.9 1840.9 116.1 1841.0 116.4 1841.0 113.3 1841.0 114.8 1841.0 113.0 1841.0 116.9 1841.0 116.9 1841.0 115.9 1841.0 111.4 1841.1 109.4 1841.1 112.4 1841.1 110.7 1841.1 111.1 1841.1 111.1 1841.1 108.6 1841.1 105.0 1841.2 108.8 1841.2 103.0 1841.2 105.5 1841.2 106.6 1841.2 104.2 1841.2 103.8 1841.3 107.7 1841.3 108.2 1841.3 108.1 1841.3 110.8 1841.3 104.1 1841.4 113.1 1841.4 111.1 1841.4 109.5 1841.4 109.7 1841.4 109.3 1841.5 110.4 1841.5 115.3 1841.5 114.9 1841.5 112.6 1841.5 110.6 1841.6 116.0 1841.6 116.9 1841.6 117.2 1841.6 116.8 1841.6 119.4 1841.7 120.6 1841.7 120.3 1841.7 117.5 1841.7 115.3 1841.7 118.4 1841.8 116.8 1841.8 122.6 1841.8 122.3 1841.8 120.8 1841.8 121.4 1841.9 121.7 1841.9 122.7 1841.9 122.3 1841.9 122.9 1841.9 123.7 1842.0 121.7 1842.0 126.2 1842.0 124.9 1842.0 126.5 1842.1 125.1 1842.1 127.8 1842.1 123.6 1842.2 124.1 1842.2 122.2 1842.2 121.4 1842.2 124.1 1842.3 119.2 1842.3 120.9 1842.3 119.9 1842.4 120.7 1842.4 118.9 1842.4 118.0 1842.5 115.7 1842.5 115.9 1842.5 122.1 1842.5 116.2 1842.6 116.3 1842.6 117.2 1842.6 115.8 1842.7 114.3 1842.7 113.9 1842.7 113.8 1842.8 115.1 1842.8 114.0 1842.8 116.8 1842.8 111.8 1842.9 110.9 1842.9 112.1 1842.9 110.0 1843.0 110.0 1843.0 111.7 1843.0 119.0 1843.0 105.2 1843.1 110.2 1843.1 115.5 1843.1 113.0 1843.1 114.0 1843.1 119.3 1843.1 116.5 1843.2 114.4 1843.2 107.6 1843.2 116.3 1843.2 106.9 1843.2 113.4 1843.2 114.4 1843.3 117.6 1843.3 118.0 1843.3 118.3 1843.3 118.5 1843.3 119.4 1843.4 121.4 1843.4 120.4 1843.4 118.0 1843.4 120.3 1843.4 121.6 1843.4 119.4 1843.5 124.1 1843.5 123.0 1843.5 125.9 1843.5 123.1 1843.5 123.7 1843.5 125.8 1843.6 123.9 1843.6 123.8 1843.6 124.9 1843.6 125.8 1843.6 126.1 1843.6 126.6 1843.7 125.4 1843.7 124.1 1843.7 123.9 1843.7 130.2 1843.7 127.4 1843.8 128.7 1843.8 130.3 1843.8 129.3 1843.8 135.0 1843.8 129.8 1843.8 133.8 1843.9 132.9 1843.9 132.0 1843.9 132.4 1843.9 133.8 1843.9 133.8 1843.9 135.5 1844.0 136.6 1844.0 134.5 1844.0 133.0 1844.0 135.5 1844.0 136.5 1844.1 139.0 1844.1 130.8 1844.1 133.1 1844.1 134.2 1844.2 132.3 1844.2 134.5 1844.2 136.6 1844.2 131.6 1844.2 128.8 1844.3 129.7 1844.3 130.5 1844.3 128.3 1844.3 131.6 1844.3 127.6 1844.4 125.0 1844.4 124.3 1844.4 127.4 1844.4 126.2 1844.5 127.3 1844.5 129.7 1844.5 125.7 1844.5 125.3 1844.5 126.0 1844.6 124.9 1844.6 121.8 1844.6 121.2 1844.6 124.8 1844.7 120.2 1844.7 122.4 1844.7 119.8 1844.7 120.8 1844.7 122.5 1844.8 120.5 1844.8 116.6 1844.8 120.2 1844.8 120.0 1844.8 120.5 1844.9 116.4 1844.9 119.0 1844.9 116.9 1844.9 117.3 1845.0 115.8 1845.0 111.2 1845.0 111.1 1845.0 112.6 1845.1 117.0 1845.1 119.0 1845.1 115.3 1845.2 116.8 1845.2 114.6 1845.2 117.7 1845.3 121.0 1845.3 121.0 1845.4 119.7 1845.4 120.9 1845.4 119.9 1845.5 121.4 1845.5 120.7 1845.5 123.3 1845.6 121.3 1845.6 124.7 1845.6 122.3 1845.7 124.0 1845.7 123.1 1845.8 124.2 1845.8 124.4 1845.8 125.3 1845.9 125.1 1845.9 128.0 1845.9 127.4 1846.0 127.4 1846.0 128.3 1846.0 126.9 1846.0 126.4 1846.1 126.5 1846.1 128.3 1846.1 124.9 1846.1 127.6 1846.1 125.2 1846.2 126.3 1846.2 124.9 1846.2 123.1 1846.2 124.6 1846.2 123.0 1846.3 121.5 1846.3 123.6 1846.3 125.1 1846.3 124.1 1846.3 121.7 1846.4 120.6 1846.4 122.0 1846.4 118.9 1846.4 122.8 1846.4 120.7 1846.5 120.0 1846.5 118.1 1846.5 115.8 1846.5 123.8 1846.5 116.2 1846.5 117.2 1846.6 116.6 1846.6 112.8 1846.6 114.7 1846.6 111.6 1846.6 111.4 1846.7 109.9 1846.7 113.1 1846.7 111.0 1846.7 110.4 1846.7 112.1 1846.8 106.5 1846.8 109.1 1846.8 109.5 1846.8 109.9 1846.8 107.3 1846.9 107.2 1846.9 107.0 1846.9 107.3 1846.9 106.0 1846.9 105.8 1847.0 103.6 1847.0 105.6 1847.0 101.0 1847.0 103.9 1847.1 103.3 1847.1 104.5 1847.1 106.7 1847.1 106.0 1847.2 104.9 1847.2 106.0 1847.2 105.6 1847.2 106.9 1847.3 107.1 1847.3 111.1 1847.3 113.0 1847.4 115.5 1847.4 112.9 1847.4 114.5 1847.4 114.2 1847.5 110.2 1847.5 110.1 1847.5 114.2 1847.5 113.6 1847.6 115.6 1847.6 117.9 1847.6 117.0 1847.6 116.0 1847.7 112.8 1847.7 115.6 1847.7 116.9 1847.8 116.2 1847.8 116.9 1847.8 118.6 1847.8 120.2 1847.9 119.3 1847.9 120.3 1847.9 120.8 1847.9 123.6 1848.0 119.4 1848.0 121.3 1848.0 119.3 1848.0 117.5 1848.1 121.2 1848.1 116.8 1848.1 118.0 1848.1 120.2 1848.1 118.5 1848.2 119.6 1848.2 116.4 1848.2 116.0 1848.2 114.8 1848.2 117.3 1848.3 114.4 1848.3 117.0 1848.3 114.0 1848.3 112.9 1848.3 113.4 1848.4 113.6 1848.4 111.4 1848.4 111.9 1848.4 115.4 1848.4 111.6 1848.5 113.7 1848.5 114.1 1848.5 108.4 1848.5 112.8 1848.5 112.3 1848.5 107.3 1848.6 107.2 1848.6 109.0 1848.6 105.4 1848.6 105.1 1848.6 106.9 1848.7 104.3 1848.7 106.4 1848.7 103.8 1848.7 102.9 1848.7 106.9 1848.8 107.2 1848.8 102.8 1848.8 102.2 1848.8 101.1 1848.8 100.1 1848.9 102.0 1848.9 104.1 1848.9 102.8 1848.9 103.6 1848.9 103.9 1849.0 98.2 1849.0 99.8 1849.0 96.8 1849.0 100.6 1849.0 99.5 1849.1 96.5 1849.1 97.8 1849.1 97.3 1849.1 97.3 1849.2 101.9 1849.2 98.9 1849.2 98.5 1849.2 100.9 1849.3 104.2 1849.3 104.7 1849.3 104.4 1849.3 104.6 1849.4 103.9 1849.4 104.8 1849.4 103.8 1849.4 107.0 1849.5 105.6 1849.5 105.5 1849.5 108.5 1849.5 112.1 1849.5 108.2 1849.6 106.7 1849.6 107.4 1849.6 108.9 1849.6 109.3 1849.7 110.2 1849.7 111.9 1849.7 113.7 1849.7 110.6 1849.8 113.0 1849.8 115.3 1849.8 117.2 1849.8 114.8 1849.9 113.6 1849.9 117.7 1849.9 116.2 1849.9 119.1 1850.0 117.3 1850.0 117.7 1850.0 119.0 1850.0 114.8 1850.1 117.9 1850.1 119.6 1850.1 113.0 1850.2 116.0 1850.2 115.9 1850.2 115.8 1850.2 110.3 1850.3 115.5 1850.3 114.4 1850.3 116.1 1850.4 113.7 1850.4 111.2 1850.4 115.8 1850.5 110.2 1850.5 110.9 1850.5 111.9 1850.5 108.4 1850.6 116.2 1850.6 105.7 1850.6 109.5 1850.7 110.2 1850.7 109.6 1850.7 106.9 1850.8 106.0 1850.8 101.9 1850.8 103.5 1850.8 105.2 1850.9 103.9 1850.9 105.9 1850.9 107.7 1851.0 101.5 1851.0 103.6 1851.0 103.7 1851.1 103.9 1851.2 102.7 1851.2 103.1 1851.2 105.9 1851.3 106.8 1851.3 104.6 1851.4 105.3 1851.5 108.9 1851.5 105.2 1851.5 110.0 1851.6 109.3 1851.7 112.0 1851.7 108.5 1851.8 110.2 1851.8 111.5 1851.8 112.1 1851.9 111.9 1852.0 111.9 1852.0 112.4 1852.0 111.9 1852.1 107.8 1852.1 108.9 1852.2 109.6 1852.2 110.5 1852.2 112.6 1852.3 112.0 1852.3 108.4 1852.4 106.4 1852.4 105.6 1852.5 107.8 1852.5 107.2 1852.5 100.5 1852.6 100.2 1852.6 105.7 1852.7 106.8 1852.7 103.1 1852.8 101.7 1852.8 101.7 1852.8 103.9 1852.9 102.7 1852.9 104.5 1853.0 101.6 1853.0 100.0 1853.0 102.9 1853.1 98.1 1853.1 99.3 1853.1 98.4 1853.1 98.2 1853.2 101.0 1853.2 104.6 1853.2 105.2 1853.2 103.2 1853.3 107.7 1853.3 105.7 1853.3 107.2 1853.4 107.2 1853.4 108.3 1853.4 108.5 1853.4 108.0 1853.5 107.6 1853.5 110.1 1853.5 107.7 1853.5 109.2 1853.6 109.2 1853.6 110.8 1853.6 112.9 1853.6 108.5 1853.7 112.7 1853.7 115.3 1853.7 115.8 1853.8 116.3 1853.8 113.7 1853.8 118.7 1853.8 113.7 1853.9 117.3 1853.9 119.2 1853.9 118.1 1853.9 116.7 1854.0 114.2 1854.0 117.0 1854.0 115.9 1854.1 118.1 1854.1 119.8 1854.2 115.5 1854.2 119.1 1854.3 119.1 1854.3 110.0 1854.4 113.3 1854.4 112.1 1854.5 114.6 1854.5 113.1 1854.5 110.3 1854.6 115.7 1854.6 111.5 1854.7 114.6 1854.7 112.2 1854.8 109.8 1854.8 108.5 1854.9 107.6 1854.9 111.7 1855.0 104.4 1855.0 110.4 1855.1 106.8 1855.1 110.1 1855.2 110.6 1855.2 108.7 1855.3 109.2 1855.3 113.6 1855.4 113.0 1855.5 112.0 1855.5 112.7 1855.6 112.8 1855.6 113.8 1855.7 113.3 1855.7 115.1 1855.8 116.6 1855.5 117.2 1855.2 114.9 1854.9 115.1 1854.6 118.7 1854.2 115.7 1853.9 113.9 1853.6 121.4 1853.3 115.4 1853.0 118.0" stroke="#f4b73c" stroke-width="3.8" stroke-linejoin="miter" stroke-miterlimit="3"/>
</g>
<mask id="wm"><rect x="280" y="60" width="100" height="100" fill="#fff"/><path d="M301.6 125.2L318.6 97.6L335.5 111L338 107.5L349.2 125.2M312.6 125.2L320.6 111.6L331.2 124.2" fill="none" stroke="#000" stroke-width="2.2" stroke-linecap="round" stroke-linejoin="round"/></mask>
<circle cx="325.6" cy="111.1" r="36.6" fill="rgb(118,225,198)" fill-opacity="0.3" mask="url(#wm)"/>
<g opacity="0.23" fill="none" stroke="#868c94" stroke-width="6.6" stroke-linejoin="round">
<path d="M380.5 129.5L387 97.8L397.7 125.8L410 97.8L416.9 129.5"/>
<circle cx="436.4" cy="116.3" r="10.7" stroke-width="5.8"/>
<path d="M446.8 102.6V129.5"/>
<path d="M478.85 110.9A10.8 10.8 0 1 0 478.85 121.7" stroke-width="5.8"/>
<path d="M490.3 129.5V102.6M492 110Q494 104.5 501 104.2" stroke-width="6.6"/>
<circle cx="516.9" cy="116.3" r="10.8" stroke-width="6"/>
<path d="M537.3 129.5L543.6 97.8L555.2 125.8L566.8 97.8L573.3 129.5"/>
<path d="M584.5 103.4V129.5"/>
<circle cx="584.3" cy="96.7" r="4.1" fill="#868c94" stroke="none"/>
<path d="M615.35 110.9A10.8 10.8 0 1 0 615.35 121.7" stroke-width="5.8"/>
<path d="M627.2 129.5V102.6M629 110Q631 104.5 637.8 104.2" stroke-width="6.6"/>
<circle cx="653.8" cy="116.3" r="10.8" stroke-width="6"/>
</g>
<rect x="424" y="797" width="31" height="4" fill="#38abd9"/>
<rect x="888" y="797" width="31" height="4" fill="#e8553c"/>
<rect x="1223" y="797" width="30" height="4" fill="#f4b73c"/>
<rect x="1264" y="788" width="1" height="19" fill="#ececec"/>
<g font-family="&quot;Liberation Sans&quot;, sans-serif" font-weight="bold" font-size="27.8" fill="#000">
<text x="487" y="808.3" textLength="211" lengthAdjust="spacingAndGlyphs">Lãi suất của FED</text>
<text x="932" y="808.3" textLength="269.5" lengthAdjust="spacingAndGlyphs">Tổng tài sản của FED</text>
<text x="1278.5" y="808.3" textLength="215.5" lengthAdjust="spacingAndGlyphs">Giá vàng thế giới</text>
</g>
<rect x="2039.5" y="0" width="7.3" height="853.6" fill="#e3e8eb"/>
<rect x="2039.5" y="157.5" width="7.3" height="2" fill="#cfd5da"/>
</svg></body></html>
